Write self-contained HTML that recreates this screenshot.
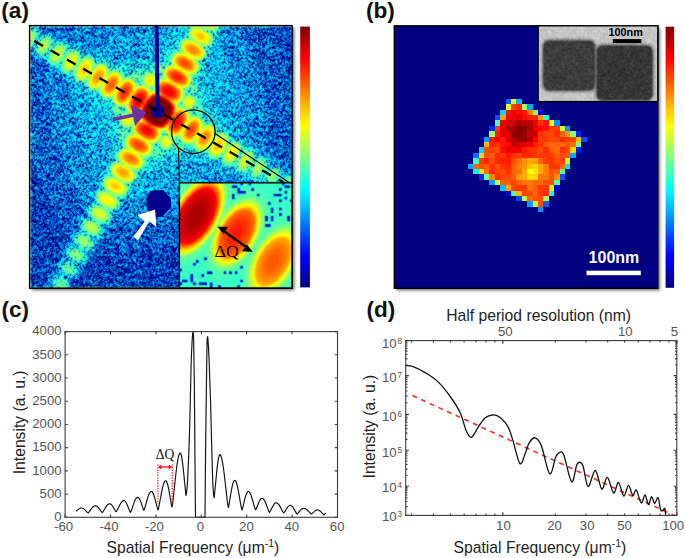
<!DOCTYPE html>
<html><head><meta charset="utf-8"><title>Figure</title>
<style>
html,body{margin:0;padding:0;background:#fff;width:685px;height:558px;overflow:hidden;}
svg{display:block;}
text{font-family:"Liberation Sans", sans-serif;}
</style></head>
<body>
<svg width="685" height="558" viewBox="0 0 685 558">
<defs>
<filter id="shadow" x="-10%" y="-10%" width="130%" height="130%"><feGaussianBlur stdDeviation="1.6"/></filter>
</defs>
<text x="1.3" y="17.8" font-size="22.6" font-weight="bold" fill="#111">(a)</text>
<rect x="31.8" y="27.8" width="262.6" height="262.6" fill="#000" opacity="0.55" filter="url(#shadow)"/>
<filter id="jetA" filterUnits="userSpaceOnUse" x="29.6" y="25.6" width="262.6" height="262.6" color-interpolation-filters="sRGB">
<feGaussianBlur in="SourceGraphic" stdDeviation="0.8" result="s"/>
<feComponentTransfer in="s" result="si"><feFuncR type="linear" slope="-1" intercept="1"/><feFuncG type="linear" slope="-1" intercept="1"/><feFuncB type="linear" slope="-1" intercept="1"/></feComponentTransfer>
<feTurbulence type="fractalNoise" baseFrequency="1.7" numOctaves="1" seed="11" result="t"/>
<feColorMatrix in="t" type="matrix" values="1 0 0 0 0  1 0 0 0 0  1 0 0 0 0  0 0 0 0 1" result="n"/>
<feComposite in="n" in2="si" operator="arithmetic" k1="0" k2="0.5" k3="0.64" k4="-0.1400" result="u"/>
<feComponentTransfer in="u" result="d"><feFuncR type="linear" slope="24" intercept="-12.3120"/><feFuncG type="linear" slope="24" intercept="-12.3120"/><feFuncB type="linear" slope="24" intercept="-12.3120"/></feComponentTransfer>
<feComposite in="s" in2="d" operator="arithmetic" k1="0.75" k2="1" k3="-0.75" k4="0" result="w"/>
<feComposite in="w" in2="n" operator="arithmetic" k1="0" k2="1" k3="0" k4="0" result="w2"/>
<feComponentTransfer in="w2"><feFuncR type="table" tableValues="0 0 0 0 0.5 1 1 1 0.5"/><feFuncG type="table" tableValues="0 0 0.5 1 1 1 0.5 0 0"/><feFuncB type="table" tableValues="0.5 1 1 1 0.5 0 0 0 0"/></feComponentTransfer>
<feConvolveMatrix order="3" kernelMatrix="1 2 1 2 8 2 1 2 1" divisor="20" edgeMode="duplicate" preserveAlpha="true"/>
</filter>
<clipPath id="clipA"><rect x="29.6" y="25.6" width="262.6" height="262.6"/></clipPath>
<g clip-path="url(#clipA)"><g filter="url(#jetA)">
<rect x="29.6" y="25.6" width="262.6" height="262.6" fill="rgb(76,76,76)"/>
<path d="M30.1 26.1L30.1 260.1L34.1 276.1L33.1 288.1L176.1 288.1L195.1 284.1L231.1 273.1L248.1 266.1L292.1 244.1L292.1 26.1Z" fill="rgb(82,82,82)" fill-rule="evenodd"/>
<path d="M30.1 26.1L30.1 159.1L40.1 185.1L63.1 229.1L65.1 239.1L60.1 247.1L60.1 249.1L62.1 250.1L61.1 251.1L61.1 256.1L57.1 259.1L54.1 265.1L55.1 270.1L52.1 271.1L49.1 274.1L47.1 278.1L47.1 283.1L48.1 284.1L45.1 285.1L42.1 288.1L73.1 288.1L74.1 287.1L74.1 282.1L79.1 279.1L83.1 272.1L83.1 269.1L89.1 263.1L90.1 265.1L93.1 262.1L94.1 258.1L96.1 256.1L99.1 256.1L105.1 253.1L129.1 252.1L130.1 251.1L147.1 251.1L148.1 250.1L157.1 250.1L158.1 249.1L165.1 249.1L181.1 246.1L223.1 233.1L276.1 206.1L285.1 204.1L292.1 207.1L292.1 85.1L282.1 52.1L270.1 26.1Z" fill="rgb(87,87,87)" fill-rule="evenodd"/>
<path d="M63.1 258.1L64.1 257.1L65.1 258.1L64.1 259.1ZM77.1 220.1L78.1 219.1L79.1 220.1L78.1 221.1ZM78.1 218.1L79.1 217.1L80.1 219.1L79.1 220.1ZM38.1 62.1L39.1 61.1L40.1 62.1L39.1 63.1ZM36.1 61.1L37.1 60.1L38.1 61.1L37.1 62.1ZM53.1 34.1L54.1 33.1L55.1 34.1L54.1 35.1ZM51.1 33.1L52.1 32.1L53.1 33.1L52.1 34.1ZM30.1 26.1L30.1 53.1L37.1 60.1L35.1 61.1L37.1 63.1L41.1 63.1L43.1 65.1L43.1 69.1L46.1 76.1L46.1 90.1L47.1 91.1L47.1 103.1L48.1 104.1L49.1 118.1L57.1 149.1L65.1 171.1L80.1 200.1L80.1 208.1L83.1 213.1L80.1 218.1L79.1 216.1L77.1 218.1L78.1 221.1L77.1 229.1L72.1 233.1L70.1 237.1L70.1 242.1L71.1 243.1L68.1 244.1L63.1 250.1L64.1 257.1L59.1 259.1L56.1 264.1L56.1 269.1L58.1 272.1L57.1 273.1L52.1 273.1L49.1 277.1L48.1 282.1L51.1 286.1L44.1 288.1L72.1 288.1L72.1 282.1L70.1 280.1L71.1 279.1L76.1 279.1L80.1 275.1L81.1 269.1L79.1 267.1L86.1 265.1L90.1 257.1L88.1 254.1L94.1 252.1L98.1 245.1L98.1 241.1L101.1 240.1L106.1 233.1L107.1 235.1L108.1 233.1L107.1 234.1L106.1 232.1L109.1 228.1L113.1 228.1L119.1 224.1L159.1 221.1L178.1 217.1L189.1 213.1L193.1 213.1L211.1 207.1L240.1 193.1L244.1 190.1L257.1 186.1L269.1 191.1L273.1 190.1L275.1 194.1L280.1 197.1L286.1 197.1L287.1 196.1L292.1 203.1L292.1 171.1L285.1 170.1L284.1 167.1L273.1 158.1L273.1 155.1L270.1 148.1L269.1 121.1L268.1 120.1L268.1 112.1L264.1 92.1L254.1 59.1L238.1 26.1L83.1 26.1L70.1 33.1L62.1 34.1L59.1 36.1L53.1 31.1L51.1 31.1L52.1 32.1L51.1 33.1L47.1 31.1L43.1 32.1L38.1 26.1Z" fill="rgb(92,92,92)" fill-rule="evenodd"/>
<path d="M67.1 278.1L68.1 277.1L69.1 278.1L68.1 279.1ZM59.1 274.1L60.1 273.1L62.1 274.1L61.1 275.1ZM76.1 265.1L77.1 264.1L78.1 265.1L77.1 266.1ZM85.1 252.1L86.1 251.1L87.1 252.1L86.1 253.1ZM72.1 245.1L73.1 244.1L74.1 245.1L73.1 246.1ZM94.1 239.1L95.1 238.1L96.1 239.1L95.1 240.1ZM85.1 216.1L86.1 215.1L87.1 216.1L86.1 217.1ZM260.1 181.1L261.1 180.1L262.1 181.1L261.1 182.1ZM237.1 175.1L238.1 174.1L239.1 175.1L238.1 176.1ZM282.1 173.1L283.1 172.1L284.1 173.1L283.1 174.1ZM252.1 147.1L253.1 146.1L254.1 147.1L253.1 148.1ZM44.1 59.1L45.1 58.1L46.1 59.1L45.1 60.1ZM76.1 47.1L77.1 46.1L78.1 47.1L77.1 48.1ZM221.1 30.1L222.1 29.1L223.1 30.1L222.1 31.1ZM222.1 28.1L223.1 27.1L224.1 28.1L223.1 29.1ZM30.1 26.1L30.1 51.1L32.1 49.1L33.1 50.1L33.1 55.1L39.1 60.1L44.1 59.1L47.1 65.1L54.1 69.1L57.1 68.1L58.1 71.1L61.1 74.1L59.1 75.1L60.1 77.1L64.1 80.1L69.1 81.1L69.1 86.1L71.1 90.1L73.1 110.1L76.1 123.1L80.1 133.1L80.1 137.1L85.1 154.1L93.1 171.1L95.1 183.1L97.1 185.1L92.1 188.1L90.1 195.1L93.1 196.1L92.1 197.1L93.1 201.1L90.1 202.1L87.1 206.1L85.1 211.1L86.1 215.1L81.1 218.1L78.1 224.1L78.1 227.1L80.1 230.1L74.1 232.1L71.1 237.1L71.1 241.1L73.1 244.1L67.1 246.1L64.1 251.1L64.1 255.1L67.1 259.1L66.1 260.1L60.1 260.1L57.1 264.1L57.1 269.1L60.1 273.1L59.1 274.1L53.1 274.1L50.1 278.1L50.1 283.1L53.1 287.1L55.1 288.1L70.1 288.1L71.1 287.1L71.1 283.1L68.1 279.1L69.1 278.1L75.1 278.1L78.1 276.1L80.1 271.1L77.1 266.1L78.1 265.1L83.1 265.1L87.1 262.1L88.1 255.1L86.1 253.1L91.1 252.1L95.1 249.1L97.1 244.1L95.1 240.1L99.1 239.1L103.1 236.1L105.1 232.1L104.1 227.1L108.1 226.1L111.1 223.1L114.1 218.1L115.1 213.1L119.1 210.1L122.1 211.1L126.1 205.1L125.1 203.1L126.1 201.1L131.1 201.1L137.1 198.1L162.1 195.1L180.1 189.1L192.1 187.1L230.1 172.1L234.1 176.1L237.1 177.1L239.1 175.1L241.1 176.1L246.1 175.1L247.1 178.1L253.1 182.1L259.1 182.1L260.1 181.1L262.1 185.1L268.1 189.1L272.1 189.1L275.1 186.1L276.1 187.1L276.1 192.1L279.1 195.1L285.1 196.1L289.1 193.1L290.1 194.1L290.1 199.1L292.1 201.1L292.1 173.1L288.1 171.1L284.1 173.1L282.1 167.1L277.1 163.1L271.1 164.1L268.1 157.1L263.1 154.1L259.1 154.1L254.1 148.1L256.1 147.1L252.1 143.1L247.1 141.1L240.1 100.1L236.1 90.1L235.1 82.1L231.1 69.1L221.1 46.1L221.1 41.1L219.1 38.1L224.1 32.1L223.1 26.1L161.1 26.1L147.1 29.1L137.1 33.1L122.1 36.1L96.1 47.1L89.1 48.1L86.1 50.1L84.1 47.1L80.1 45.1L76.1 45.1L77.1 46.1L76.1 47.1L74.1 46.1L70.1 47.1L68.1 43.1L59.1 39.1L56.1 41.1L54.1 36.1L49.1 33.1L44.1 33.1L41.1 35.1L40.1 34.1L41.1 32.1L37.1 27.1Z" fill="rgb(97,97,97)" fill-rule="evenodd"/>
<path d="M51.1 278.1L51.1 283.1L56.1 288.1L69.1 288.1L70.1 286.1L70.1 283.1L68.1 280.1L60.1 275.1L54.1 275.1ZM70.1 262.1L71.1 261.1L73.1 262.1L72.1 263.1ZM76.1 247.1L77.1 246.1L78.1 247.1L77.1 248.1ZM81.1 232.1L82.1 231.1L83.1 232.1L82.1 233.1ZM128.1 194.1L129.1 193.1L130.1 194.1L129.1 195.1ZM129.1 192.1L130.1 191.1L131.1 192.1L130.1 193.1ZM100.1 180.1L101.1 179.1L102.1 180.1L101.1 181.1ZM101.1 178.1L102.1 177.1L103.1 178.1L102.1 179.1ZM280.1 177.1L281.1 176.1L282.1 177.1L281.1 178.1ZM102.1 176.1L103.1 175.1L104.1 176.1L103.1 177.1ZM77.1 84.1L78.1 83.1L79.1 84.1L78.1 85.1ZM75.1 83.1L76.1 82.1L77.1 83.1L76.1 84.1ZM94.1 57.1L95.1 56.1L96.1 57.1L95.1 58.1ZM92.1 56.1L93.1 55.1L94.1 56.1L93.1 57.1ZM90.1 55.1L91.1 54.1L92.1 55.1L91.1 56.1ZM33.1 47.1L34.1 46.1L35.1 47.1L34.1 48.1ZM212.1 46.1L213.1 45.1L214.1 46.1L213.1 47.1ZM213.1 44.1L214.1 43.1L215.1 44.1L214.1 45.1ZM38.1 38.1L39.1 37.1L40.1 38.1L39.1 39.1ZM184.1 32.1L185.1 31.1L186.1 32.1L185.1 33.1ZM185.1 30.1L186.1 29.1L187.1 30.1L186.1 31.1ZM222.1 26.1L189.1 26.1L188.1 28.1L186.1 26.1L183.1 30.1L185.1 35.1L183.1 37.1L178.1 36.1L174.1 40.1L172.1 44.1L173.1 46.1L172.1 47.1L169.1 47.1L163.1 51.1L149.1 55.1L143.1 58.1L133.1 59.1L124.1 62.1L117.1 62.1L114.1 64.1L111.1 60.1L107.1 58.1L102.1 58.1L100.1 61.1L98.1 61.1L95.1 58.1L96.1 55.1L93.1 53.1L90.1 53.1L91.1 54.1L90.1 55.1L88.1 54.1L83.1 55.1L80.1 50.1L74.1 47.1L69.1 49.1L68.1 45.1L63.1 41.1L57.1 41.1L54.1 44.1L53.1 43.1L54.1 38.1L51.1 35.1L44.1 34.1L40.1 38.1L39.1 37.1L40.1 34.1L39.1 30.1L35.1 27.1L30.1 28.1L30.1 50.1L33.1 47.1L34.1 48.1L33.1 52.1L34.1 55.1L39.1 59.1L43.1 59.1L46.1 56.1L47.1 57.1L46.1 62.1L52.1 67.1L57.1 67.1L58.1 66.1L61.1 73.1L66.1 76.1L71.1 75.1L72.1 79.1L76.1 82.1L74.1 83.1L76.1 86.1L79.1 86.1L78.1 85.1L79.1 84.1L83.1 85.1L85.1 87.1L84.1 89.1L85.1 93.1L88.1 96.1L95.1 98.1L95.1 102.1L98.1 107.1L102.1 121.1L105.1 126.1L105.1 132.1L109.1 147.1L110.1 157.1L107.1 159.1L104.1 166.1L107.1 173.1L104.1 176.1L102.1 174.1L99.1 178.1L99.1 181.1L100.1 180.1L101.1 181.1L100.1 183.1L101.1 187.1L97.1 189.1L93.1 196.1L93.1 200.1L95.1 202.1L91.1 203.1L86.1 210.1L86.1 213.1L89.1 217.1L88.1 218.1L84.1 217.1L81.1 220.1L79.1 224.1L79.1 227.1L82.1 231.1L81.1 232.1L76.1 232.1L72.1 237.1L73.1 243.1L77.1 246.1L76.1 247.1L69.1 246.1L65.1 251.1L65.1 255.1L71.1 261.1L69.1 262.1L63.1 260.1L58.1 265.1L58.1 269.1L64.1 275.1L69.1 277.1L75.1 277.1L78.1 274.1L77.1 267.1L72.1 263.1L74.1 262.1L77.1 264.1L83.1 264.1L86.1 261.1L87.1 256.1L83.1 251.1L84.1 250.1L91.1 251.1L95.1 247.1L96.1 243.1L92.1 238.1L93.1 237.1L99.1 238.1L103.1 234.1L104.1 228.1L101.1 225.1L102.1 224.1L107.1 225.1L110.1 223.1L113.1 218.1L112.1 213.1L116.1 212.1L119.1 209.1L122.1 203.1L121.1 200.1L124.1 199.1L128.1 194.1L129.1 197.1L132.1 193.1L132.1 191.1L131.1 192.1L130.1 191.1L131.1 187.1L133.1 185.1L137.1 186.1L141.1 182.1L144.1 175.1L168.1 167.1L173.1 164.1L179.1 164.1L189.1 161.1L199.1 160.1L202.1 158.1L204.1 161.1L211.1 164.1L214.1 163.1L215.1 161.1L218.1 161.1L222.1 165.1L228.1 168.1L231.1 168.1L233.1 166.1L234.1 170.1L239.1 174.1L243.1 175.1L247.1 173.1L249.1 178.1L254.1 181.1L258.1 181.1L262.1 178.1L263.1 179.1L263.1 184.1L266.1 187.1L271.1 188.1L277.1 183.1L278.1 184.1L277.1 191.1L280.1 194.1L284.1 195.1L288.1 193.1L291.1 189.1L292.1 190.1L291.1 193.1L291.1 198.1L292.1 199.1L292.1 190.1L291.1 189.1L292.1 188.1L292.1 174.1L286.1 173.1L282.1 177.1L281.1 176.1L282.1 170.1L276.1 164.1L273.1 164.1L269.1 168.1L268.1 167.1L269.1 160.1L266.1 157.1L260.1 155.1L257.1 158.1L255.1 150.1L250.1 147.1L245.1 148.1L244.1 144.1L241.1 141.1L236.1 138.1L233.1 138.1L229.1 134.1L231.1 133.1L229.1 128.1L221.1 124.1L214.1 102.1L211.1 96.1L210.1 86.1L207.1 77.1L207.1 69.1L205.1 66.1L211.1 60.1L211.1 53.1L209.1 52.1L209.1 50.1L212.1 46.1L213.1 48.1L215.1 47.1L216.1 43.1L215.1 44.1L214.1 43.1L216.1 38.1L215.1 35.1L220.1 31.1Z" fill="rgb(102,102,102)" fill-rule="evenodd"/>
<path d="M52.1 279.1L52.1 283.1L57.1 288.1L67.1 288.1L69.1 284.1L64.1 278.1L60.1 276.1L55.1 276.1ZM61.1 262.1L59.1 265.1L59.1 269.1L64.1 274.1L68.1 276.1L74.1 276.1L77.1 273.1L77.1 269.1L74.1 265.1L65.1 261.1ZM69.1 247.1L66.1 251.1L67.1 257.1L76.1 263.1L83.1 263.1L86.1 259.1L85.1 254.1L77.1 248.1ZM89.1 236.1L90.1 235.1L91.1 236.1L90.1 237.1ZM87.1 235.1L88.1 234.1L89.1 235.1L88.1 236.1ZM85.1 234.1L86.1 233.1L87.1 234.1L86.1 235.1ZM99.1 224.1L100.1 223.1L102.1 224.1L101.1 225.1ZM109.1 211.1L110.1 210.1L111.1 211.1L110.1 212.1ZM102.1 189.1L103.1 188.1L104.1 189.1L103.1 190.1ZM263.1 175.1L264.1 174.1L265.1 176.1L264.1 177.1ZM290.1 174.1L286.1 174.1L279.1 182.1L278.1 190.1L281.1 193.1L286.1 193.1L292.1 187.1L292.1 176.1ZM264.1 174.1L265.1 173.1L266.1 174.1L265.1 175.1ZM265.1 172.1L266.1 171.1L267.1 172.1L266.1 173.1ZM266.1 170.1L267.1 169.1L268.1 170.1L267.1 171.1ZM108.1 165.1L109.1 164.1L110.1 166.1L109.1 167.1ZM109.1 164.1L110.1 163.1L111.1 164.1L110.1 165.1ZM146.1 162.1L147.1 161.1L148.1 162.1L147.1 163.1ZM254.1 160.1L255.1 159.1L256.1 160.1L255.1 161.1ZM219.1 159.1L220.1 158.1L221.1 159.1L220.1 160.1ZM114.1 155.1L115.1 154.1L116.1 155.1L115.1 156.1ZM165.1 152.1L166.1 151.1L167.1 152.1L166.1 153.1ZM242.1 149.1L243.1 148.1L244.1 150.1L243.1 151.1ZM188.1 147.1L189.1 146.1L190.1 147.1L189.1 148.1ZM107.1 101.1L108.1 100.1L109.1 101.1L108.1 102.1ZM196.1 97.1L197.1 96.1L198.1 97.1L197.1 98.1ZM91.1 92.1L92.1 91.1L93.1 92.1L92.1 93.1ZM89.1 91.1L90.1 90.1L91.1 91.1L90.1 92.1ZM144.1 71.1L145.1 70.1L146.1 71.1L145.1 72.1ZM106.1 64.1L107.1 63.1L108.1 64.1L107.1 65.1ZM59.1 64.1L60.1 63.1L61.1 64.1L60.1 65.1ZM104.1 63.1L105.1 62.1L106.1 63.1L105.1 64.1ZM205.1 58.1L206.1 57.1L207.1 58.1L206.1 59.1ZM206.1 56.1L207.1 55.1L208.1 57.1L207.1 58.1ZM81.1 56.1L82.1 55.1L83.1 56.1L82.1 57.1ZM66.1 51.1L67.1 50.1L68.1 51.1L67.1 52.1ZM177.1 44.1L178.1 43.1L179.1 44.1L178.1 45.1ZM35.1 43.1L36.1 42.1L37.1 43.1L36.1 44.1ZM36.1 42.1L37.1 41.1L38.1 42.1L37.1 43.1ZM179.1 41.1L180.1 40.1L181.1 41.1L180.1 42.1ZM221.1 26.1L190.1 26.1L186.1 32.1L187.1 36.1L184.1 37.1L181.1 40.1L179.1 38.1L176.1 41.1L175.1 44.1L178.1 46.1L177.1 48.1L178.1 49.1L175.1 51.1L171.1 50.1L168.1 52.1L166.1 56.1L166.1 60.1L169.1 62.1L168.1 63.1L161.1 62.1L150.1 66.1L149.1 69.1L146.1 71.1L144.1 69.1L137.1 69.1L129.1 72.1L126.1 76.1L124.1 75.1L125.1 70.1L119.1 66.1L116.1 66.1L114.1 69.1L111.1 69.1L108.1 65.1L109.1 63.1L107.1 61.1L104.1 61.1L105.1 62.1L104.1 63.1L102.1 62.1L97.1 63.1L96.1 60.1L93.1 57.1L89.1 55.1L83.1 56.1L79.1 50.1L72.1 48.1L68.1 51.1L67.1 50.1L67.1 45.1L63.1 42.1L59.1 41.1L53.1 46.1L52.1 45.1L53.1 39.1L49.1 35.1L42.1 36.1L38.1 41.1L37.1 39.1L39.1 35.1L39.1 32.1L34.1 28.1L30.1 29.1L30.1 49.1L35.1 44.1L36.1 45.1L34.1 50.1L35.1 55.1L39.1 58.1L43.1 58.1L47.1 54.1L48.1 55.1L47.1 62.1L50.1 65.1L55.1 67.1L59.1 64.1L61.1 72.1L66.1 75.1L70.1 75.1L72.1 73.1L73.1 74.1L72.1 76.1L73.1 79.1L80.1 84.1L84.1 83.1L85.1 86.1L90.1 90.1L87.1 91.1L89.1 93.1L92.1 94.1L93.1 92.1L97.1 92.1L100.1 96.1L98.1 97.1L98.1 99.1L101.1 102.1L107.1 103.1L110.1 101.1L111.1 102.1L110.1 110.1L112.1 117.1L119.1 125.1L116.1 126.1L116.1 133.1L118.1 140.1L122.1 145.1L120.1 147.1L119.1 145.1L116.1 146.1L113.1 150.1L113.1 155.1L115.1 156.1L115.1 159.1L111.1 163.1L110.1 161.1L107.1 164.1L107.1 166.1L109.1 167.1L108.1 169.1L109.1 174.1L106.1 175.1L103.1 178.1L101.1 182.1L102.1 188.1L97.1 190.1L94.1 196.1L94.1 200.1L97.1 203.1L96.1 204.1L91.1 204.1L87.1 209.1L87.1 214.1L91.1 218.1L90.1 219.1L84.1 218.1L80.1 223.1L81.1 229.1L86.1 233.1L85.1 234.1L76.1 233.1L73.1 237.1L74.1 243.1L79.1 247.1L85.1 250.1L91.1 250.1L94.1 247.1L95.1 243.1L90.1 237.1L91.1 236.1L99.1 237.1L102.1 234.1L103.1 228.1L101.1 225.1L102.1 224.1L107.1 224.1L110.1 222.1L112.1 218.1L112.1 214.1L110.1 212.1L111.1 211.1L116.1 211.1L119.1 208.1L121.1 204.1L121.1 201.1L119.1 199.1L124.1 198.1L127.1 195.1L130.1 189.1L129.1 186.1L132.1 185.1L135.1 182.1L138.1 176.1L138.1 173.1L142.1 170.1L143.1 172.1L148.1 168.1L149.1 163.1L147.1 160.1L148.1 159.1L153.1 160.1L163.1 157.1L166.1 155.1L167.1 152.1L169.1 152.1L171.1 150.1L172.1 153.1L177.1 153.1L185.1 151.1L191.1 146.1L193.1 149.1L191.1 151.1L195.1 155.1L200.1 155.1L201.1 153.1L203.1 154.1L205.1 153.1L208.1 157.1L214.1 160.1L219.1 159.1L220.1 162.1L223.1 165.1L228.1 167.1L231.1 167.1L234.1 164.1L235.1 165.1L235.1 170.1L239.1 173.1L243.1 174.1L247.1 172.1L249.1 169.1L250.1 170.1L249.1 176.1L254.1 180.1L258.1 180.1L263.1 176.1L264.1 177.1L264.1 184.1L270.1 187.1L273.1 186.1L279.1 179.1L281.1 173.1L281.1 170.1L279.1 167.1L274.1 165.1L268.1 170.1L267.1 169.1L268.1 166.1L267.1 159.1L261.1 156.1L256.1 160.1L255.1 159.1L256.1 154.1L252.1 149.1L250.1 148.1L244.1 149.1L243.1 144.1L236.1 139.1L231.1 140.1L230.1 136.1L227.1 133.1L221.1 130.1L219.1 131.1L215.1 126.1L217.1 125.1L217.1 123.1L215.1 121.1L210.1 119.1L206.1 122.1L204.1 120.1L206.1 118.1L206.1 114.1L203.1 104.1L201.1 102.1L199.1 103.1L198.1 102.1L199.1 100.1L198.1 98.1L200.1 96.1L200.1 90.1L198.1 83.1L194.1 77.1L195.1 76.1L196.1 77.1L201.1 76.1L203.1 72.1L203.1 67.1L201.1 66.1L200.1 63.1L203.1 62.1L205.1 59.1L206.1 62.1L208.1 60.1L209.1 56.1L207.1 55.1L208.1 53.1L207.1 49.1L211.1 47.1L214.1 42.1L215.1 37.1L213.1 34.1L217.1 33.1Z" fill="rgb(107,107,107)" fill-rule="evenodd"/>
<path d="M56.1 277.1L53.1 281.1L54.1 284.1L59.1 288.1L65.1 288.1L67.1 286.1L67.1 282.1L63.1 278.1ZM61.1 264.1L60.1 268.1L65.1 274.1L68.1 275.1L75.1 274.1L76.1 269.1L74.1 266.1L66.1 262.1ZM67.1 251.1L68.1 257.1L73.1 261.1L82.1 262.1L85.1 259.1L84.1 254.1L78.1 249.1L70.1 248.1ZM74.1 237.1L75.1 243.1L78.1 246.1L84.1 249.1L90.1 249.1L92.1 248.1L94.1 244.1L93.1 241.1L88.1 236.1L84.1 234.1L79.1 233.1ZM96.1 222.1L97.1 221.1L98.1 222.1L97.1 223.1ZM94.1 221.1L95.1 220.1L96.1 221.1L95.1 222.1ZM92.1 220.1L93.1 219.1L95.1 220.1L94.1 221.1ZM107.1 210.1L108.1 209.1L109.1 210.1L108.1 211.1ZM98.1 205.1L99.1 204.1L100.1 205.1L99.1 206.1ZM116.1 197.1L117.1 196.1L118.1 197.1L117.1 198.1ZM289.1 175.1L285.1 176.1L279.1 184.1L279.1 189.1L282.1 192.1L286.1 192.1L292.1 185.1L292.1 177.1ZM109.1 175.1L110.1 174.1L111.1 175.1L110.1 176.1ZM277.1 167.1L272.1 167.1L267.1 172.1L265.1 176.1L265.1 183.1L267.1 185.1L273.1 185.1L277.1 181.1L280.1 174.1L280.1 171.1ZM250.1 167.1L251.1 166.1L252.1 167.1L251.1 168.1ZM251.1 165.1L252.1 164.1L253.1 165.1L252.1 166.1ZM252.1 163.1L253.1 162.1L254.1 163.1L253.1 164.1ZM235.1 162.1L236.1 161.1L237.1 162.1L236.1 163.1ZM220.1 157.1L221.1 156.1L222.1 157.1L221.1 158.1ZM150.1 155.1L151.1 154.1L152.1 155.1L151.1 156.1ZM151.1 153.1L152.1 152.1L153.1 153.1L152.1 154.1ZM241.1 151.1L242.1 150.1L243.1 151.1L242.1 152.1ZM116.1 151.1L117.1 150.1L118.1 152.1L117.1 153.1ZM159.1 149.1L160.1 148.1L162.1 149.1L161.1 150.1ZM117.1 149.1L118.1 148.1L119.1 150.1L118.1 151.1ZM172.1 147.1L173.1 146.1L174.1 148.1L173.1 149.1ZM173.1 145.1L174.1 144.1L175.1 146.1L174.1 147.1ZM174.1 144.1L175.1 143.1L176.1 144.1L175.1 145.1ZM157.1 143.1L160.1 148.1L159.1 149.1L154.1 148.1L154.1 146.1ZM179.1 142.1L180.1 141.1L181.1 142.1L180.1 143.1ZM122.1 141.1L123.1 140.1L124.1 141.1L123.1 142.1ZM178.1 138.1L180.1 141.1L176.1 144.1L175.1 140.1ZM174.1 139.1L175.1 138.1L176.1 139.1L175.1 140.1ZM126.1 134.1L127.1 133.1L128.1 134.1L127.1 135.1ZM163.1 133.1L164.1 132.1L165.1 133.1L164.1 134.1ZM126.1 130.1L129.1 129.1L130.1 132.1L128.1 133.1ZM129.1 129.1L130.1 128.1L131.1 129.1L130.1 130.1ZM124.1 129.1L125.1 128.1L126.1 129.1L125.1 130.1ZM122.1 128.1L123.1 127.1L124.1 128.1L123.1 129.1ZM120.1 127.1L121.1 126.1L123.1 127.1L122.1 128.1ZM201.1 118.1L202.1 117.1L203.1 118.1L202.1 119.1ZM118.1 117.1L119.1 116.1L120.1 117.1L119.1 118.1ZM119.1 115.1L120.1 114.1L121.1 115.1L120.1 116.1ZM120.1 113.1L121.1 112.1L122.1 113.1L121.1 114.1ZM194.1 109.1L196.1 114.1L192.1 115.1L190.1 112.1ZM194.1 109.1L195.1 108.1L196.1 109.1L195.1 110.1ZM121.1 112.1L121.1 109.1L124.1 108.1L125.1 110.1L122.1 113.1ZM195.1 107.1L196.1 106.1L197.1 107.1L196.1 108.1ZM196.1 105.1L197.1 104.1L198.1 106.1L197.1 107.1ZM112.1 104.1L113.1 103.1L114.1 104.1L113.1 105.1ZM110.1 100.1L111.1 99.1L112.1 100.1L111.1 101.1ZM103.1 99.1L104.1 98.1L105.1 99.1L104.1 100.1ZM101.1 98.1L102.1 97.1L104.1 98.1L103.1 99.1ZM192.1 95.1L193.1 94.1L195.1 95.1L194.1 96.1ZM191.1 94.1L192.1 93.1L193.1 94.1L192.1 95.1ZM189.1 93.1L190.1 92.1L191.1 93.1L190.1 94.1ZM185.1 93.1L186.1 92.1L187.1 93.1L186.1 94.1ZM185.1 91.1L188.1 89.1L190.1 92.1L187.1 93.1ZM192.1 81.1L193.1 80.1L194.1 81.1L193.1 82.1ZM136.1 81.1L139.1 80.1L141.1 83.1L138.1 84.1ZM139.1 80.1L140.1 79.1L141.1 80.1L140.1 81.1ZM140.1 78.1L141.1 77.1L142.1 78.1L141.1 79.1ZM141.1 76.1L142.1 75.1L143.1 76.1L142.1 77.1ZM127.1 76.1L128.1 75.1L129.1 76.1L128.1 77.1ZM157.1 75.1L160.1 74.1L161.1 77.1L160.1 78.1ZM142.1 74.1L143.1 73.1L144.1 75.1L143.1 76.1ZM197.1 72.1L198.1 71.1L199.1 72.1L198.1 73.1ZM152.1 72.1L153.1 71.1L154.1 72.1L153.1 73.1ZM150.1 71.1L151.1 70.1L152.1 71.1L151.1 72.1ZM118.1 71.1L119.1 70.1L121.1 71.1L120.1 72.1ZM198.1 70.1L199.1 69.1L200.1 70.1L199.1 71.1ZM80.1 58.1L81.1 57.1L82.1 58.1L81.1 59.1ZM171.1 55.1L172.1 54.1L173.1 55.1L172.1 56.1ZM64.1 55.1L65.1 54.1L66.1 55.1L65.1 56.1ZM65.1 53.1L66.1 52.1L67.1 53.1L66.1 54.1ZM48.1 52.1L49.1 51.1L50.1 52.1L49.1 53.1ZM49.1 50.1L50.1 49.1L51.1 50.1L50.1 51.1ZM50.1 48.1L51.1 47.1L52.1 49.1L51.1 50.1ZM34.1 29.1L30.1 30.1L30.1 48.1L35.1 43.1L38.1 36.1L37.1 31.1ZM220.1 26.1L191.1 26.1L187.1 31.1L187.1 36.1L188.1 37.1L183.1 38.1L178.1 46.1L179.1 50.1L176.1 51.1L173.1 54.1L172.1 51.1L168.1 55.1L168.1 59.1L170.1 60.1L169.1 64.1L167.1 65.1L165.1 63.1L162.1 63.1L153.1 66.1L150.1 69.1L151.1 70.1L150.1 71.1L147.1 71.1L144.1 74.1L143.1 70.1L132.1 72.1L125.1 77.1L120.1 72.1L123.1 71.1L121.1 69.1L117.1 68.1L119.1 70.1L118.1 71.1L114.1 69.1L112.1 69.1L110.1 71.1L109.1 67.1L107.1 65.1L101.1 62.1L96.1 64.1L95.1 60.1L90.1 56.1L84.1 56.1L82.1 58.1L81.1 53.1L75.1 49.1L71.1 49.1L67.1 53.1L66.1 52.1L67.1 48.1L66.1 45.1L61.1 42.1L55.1 44.1L52.1 48.1L51.1 47.1L52.1 39.1L49.1 36.1L43.1 36.1L38.1 42.1L35.1 49.1L36.1 55.1L39.1 57.1L43.1 57.1L48.1 52.1L49.1 53.1L48.1 62.1L51.1 65.1L54.1 66.1L57.1 65.1L61.1 61.1L62.1 63.1L60.1 68.1L65.1 74.1L70.1 74.1L73.1 71.1L74.1 72.1L73.1 78.1L77.1 82.1L83.1 83.1L85.1 81.1L86.1 82.1L86.1 87.1L94.1 92.1L96.1 92.1L98.1 90.1L99.1 91.1L98.1 93.1L102.1 97.1L101.1 100.1L105.1 101.1L104.1 100.1L105.1 99.1L110.1 100.1L113.1 103.1L111.1 105.1L113.1 115.1L115.1 119.1L118.1 117.1L119.1 118.1L118.1 123.1L121.1 126.1L118.1 127.1L118.1 134.1L120.1 141.1L123.1 142.1L124.1 146.1L119.1 149.1L117.1 148.1L115.1 150.1L115.1 153.1L116.1 152.1L117.1 153.1L116.1 155.1L117.1 160.1L114.1 161.1L111.1 164.1L108.1 171.1L110.1 174.1L105.1 176.1L102.1 181.1L101.1 185.1L104.1 189.1L103.1 190.1L98.1 190.1L94.1 198.1L95.1 201.1L99.1 204.1L98.1 205.1L92.1 204.1L88.1 209.1L88.1 214.1L93.1 219.1L92.1 220.1L84.1 219.1L81.1 223.1L82.1 229.1L88.1 234.1L93.1 236.1L99.1 236.1L101.1 234.1L102.1 227.1L97.1 223.1L98.1 222.1L101.1 223.1L109.1 222.1L111.1 219.1L111.1 214.1L108.1 211.1L109.1 210.1L114.1 211.1L119.1 207.1L120.1 201.1L118.1 198.1L119.1 197.1L122.1 198.1L127.1 194.1L129.1 190.1L127.1 185.1L128.1 184.1L130.1 185.1L135.1 181.1L137.1 177.1L136.1 172.1L140.1 171.1L143.1 168.1L146.1 162.1L145.1 159.1L150.1 156.1L151.1 158.1L155.1 158.1L163.1 155.1L164.1 153.1L161.1 150.1L162.1 149.1L166.1 151.1L169.1 151.1L172.1 148.1L173.1 151.1L178.1 151.1L187.1 148.1L186.1 146.1L187.1 145.1L189.1 146.1L192.1 145.1L193.1 148.1L199.1 152.1L204.1 153.1L206.1 151.1L207.1 155.1L213.1 159.1L216.1 160.1L220.1 157.1L221.1 162.1L227.1 166.1L231.1 166.1L235.1 162.1L236.1 163.1L235.1 167.1L236.1 170.1L239.1 172.1L244.1 173.1L250.1 167.1L251.1 168.1L250.1 176.1L254.1 179.1L260.1 178.1L265.1 172.1L267.1 167.1L267.1 161.1L264.1 158.1L261.1 157.1L257.1 159.1L254.1 163.1L253.1 161.1L255.1 157.1L255.1 153.1L251.1 149.1L245.1 149.1L243.1 151.1L242.1 150.1L242.1 144.1L237.1 140.1L232.1 140.1L230.1 142.1L229.1 141.1L230.1 137.1L226.1 133.1L222.1 131.1L218.1 132.1L216.1 127.1L209.1 123.1L204.1 122.1L204.1 120.1L202.1 119.1L204.1 118.1L204.1 113.1L201.1 104.1L198.1 105.1L197.1 104.1L198.1 100.1L194.1 96.1L198.1 95.1L198.1 88.1L196.1 82.1L193.1 80.1L193.1 77.1L197.1 73.1L198.1 75.1L201.1 73.1L202.1 69.1L200.1 70.1L199.1 69.1L200.1 63.1L204.1 60.1L207.1 54.1L207.1 50.1L205.1 48.1L210.1 47.1L214.1 40.1L214.1 36.1L211.1 33.1L212.1 32.1L217.1 32.1L219.1 30.1Z" fill="rgb(112,112,112)" fill-rule="evenodd"/>
<path d="M57.1 278.1L55.1 280.1L55.1 283.1L60.1 287.1L64.1 287.1L66.1 284.1L62.1 279.1ZM62.1 265.1L62.1 270.1L67.1 274.1L74.1 273.1L75.1 270.1L71.1 265.1L66.1 263.1ZM69.1 250.1L68.1 255.1L70.1 258.1L79.1 262.1L83.1 260.1L84.1 256.1L80.1 251.1L76.1 249.1L70.1 249.1ZM78.1 234.1L75.1 238.1L76.1 243.1L83.1 248.1L87.1 249.1L90.1 248.1L93.1 243.1L87.1 236.1L82.1 234.1ZM83.1 221.1L82.1 228.1L86.1 232.1L95.1 236.1L100.1 234.1L101.1 227.1L98.1 224.1L91.1 220.1L84.1 220.1ZM103.1 208.1L104.1 207.1L106.1 208.1L105.1 209.1ZM102.1 207.1L103.1 206.1L104.1 207.1L103.1 208.1ZM105.1 191.1L106.1 190.1L107.1 191.1L106.1 192.1ZM290.1 177.1L285.1 177.1L282.1 180.1L280.1 184.1L280.1 189.1L285.1 191.1L290.1 187.1L292.1 182.1ZM111.1 176.1L112.1 175.1L113.1 176.1L112.1 177.1ZM276.1 168.1L272.1 168.1L268.1 172.1L265.1 179.1L268.1 184.1L274.1 183.1L278.1 178.1L279.1 171.1ZM116.1 161.1L117.1 160.1L119.1 161.1L118.1 162.1ZM264.1 159.1L261.1 158.1L258.1 159.1L253.1 165.1L251.1 170.1L251.1 175.1L254.1 178.1L260.1 177.1L265.1 171.1L267.1 164.1ZM238.1 157.1L239.1 156.1L240.1 157.1L239.1 158.1ZM239.1 155.1L240.1 154.1L241.1 155.1L240.1 156.1ZM221.1 155.1L222.1 154.1L223.1 156.1L222.1 157.1ZM151.1 153.1L152.1 152.1L153.1 154.1L152.1 155.1ZM152.1 151.1L153.1 150.1L154.1 152.1L153.1 153.1ZM124.1 147.1L125.1 146.1L126.1 147.1L125.1 148.1ZM182.1 144.1L183.1 143.1L185.1 144.1L184.1 145.1ZM157.1 143.1L158.1 142.1L159.1 143.1L158.1 144.1ZM172.1 138.1L173.1 137.1L174.1 138.1L173.1 139.1ZM124.1 138.1L125.1 137.1L126.1 138.1L125.1 139.1ZM125.1 136.1L126.1 135.1L127.1 136.1L126.1 137.1ZM165.1 134.1L166.1 133.1L167.1 134.1L166.1 135.1ZM162.1 134.1L162.1 132.1L164.1 131.1L165.1 133.1L163.1 135.1ZM130.1 127.1L131.1 126.1L132.1 127.1L131.1 128.1ZM203.1 124.1L204.1 123.1L205.1 124.1L204.1 125.1ZM199.1 117.1L200.1 116.1L202.1 117.1L201.1 118.1ZM135.1 117.1L137.1 116.1L138.1 118.1L136.1 119.1ZM197.1 116.1L198.1 115.1L200.1 116.1L199.1 117.1ZM187.1 110.1L188.1 109.1L189.1 110.1L188.1 111.1ZM185.1 109.1L186.1 108.1L187.1 109.1L186.1 110.1ZM117.1 107.1L118.1 106.1L120.1 107.1L119.1 108.1ZM116.1 106.1L117.1 105.1L118.1 106.1L117.1 107.1ZM113.1 105.1L114.1 104.1L116.1 105.1L115.1 106.1ZM180.1 103.1L182.1 106.1L181.1 107.1L178.1 106.1ZM184.1 95.1L185.1 94.1L186.1 95.1L185.1 96.1ZM184.1 90.1L185.1 89.1L186.1 90.1L185.1 91.1ZM150.1 89.1L153.1 88.1L154.1 90.1L152.1 91.1ZM189.1 86.1L190.1 85.1L191.1 86.1L190.1 87.1ZM141.1 84.1L142.1 83.1L143.1 84.1L142.1 85.1ZM191.1 83.1L192.1 82.1L193.1 83.1L192.1 84.1ZM134.1 80.1L135.1 79.1L136.1 80.1L135.1 81.1ZM132.1 79.1L133.1 78.1L134.1 79.1L133.1 80.1ZM161.1 73.1L163.1 77.1L159.1 79.1L157.1 75.1ZM155.1 74.1L156.1 73.1L158.1 74.1L157.1 75.1ZM161.1 73.1L162.1 72.1L163.1 73.1L162.1 74.1ZM162.1 71.1L163.1 70.1L164.1 71.1L163.1 72.1ZM73.1 70.1L74.1 69.1L75.1 71.1L74.1 72.1ZM163.1 69.1L164.1 68.1L165.1 69.1L164.1 70.1ZM74.1 69.1L75.1 68.1L76.1 69.1L75.1 70.1ZM164.1 67.1L165.1 66.1L166.1 67.1L165.1 68.1ZM62.1 58.1L63.1 57.1L64.1 59.1L63.1 60.1ZM63.1 56.1L64.1 55.1L65.1 57.1L64.1 58.1ZM179.1 51.1L180.1 50.1L181.1 51.1L180.1 52.1ZM188.1 38.1L189.1 37.1L190.1 38.1L189.1 39.1ZM49.1 37.1L46.1 36.1L43.1 37.1L39.1 41.1L36.1 47.1L36.1 53.1L39.1 56.1L45.1 55.1L49.1 50.1L52.1 42.1ZM208.1 31.1L209.1 30.1L210.1 31.1L209.1 32.1ZM34.1 30.1L30.1 31.1L30.1 47.1L35.1 42.1L37.1 38.1L37.1 33.1ZM220.1 26.1L201.1 26.1L200.1 27.1L191.1 26.1L187.1 32.1L187.1 35.1L189.1 37.1L184.1 38.1L181.1 41.1L178.1 47.1L180.1 50.1L176.1 51.1L172.1 56.1L170.1 54.1L169.1 57.1L171.1 55.1L172.1 56.1L170.1 60.1L171.1 63.1L167.1 65.1L166.1 67.1L165.1 64.1L162.1 64.1L152.1 68.1L152.1 70.1L156.1 73.1L154.1 74.1L149.1 71.1L146.1 72.1L141.1 80.1L142.1 83.1L138.1 85.1L135.1 81.1L140.1 78.1L142.1 72.1L133.1 73.1L129.1 75.1L131.1 77.1L130.1 78.1L128.1 77.1L124.1 78.1L121.1 73.1L115.1 70.1L110.1 71.1L109.1 68.1L102.1 63.1L98.1 63.1L95.1 66.1L94.1 65.1L95.1 61.1L91.1 57.1L85.1 56.1L80.1 61.1L79.1 60.1L80.1 53.1L76.1 50.1L71.1 50.1L65.1 56.1L64.1 54.1L66.1 50.1L66.1 47.1L61.1 43.1L56.1 44.1L51.1 50.1L48.1 58.1L49.1 62.1L53.1 65.1L56.1 65.1L62.1 59.1L63.1 61.1L61.1 65.1L61.1 69.1L65.1 73.1L69.1 74.1L73.1 71.1L74.1 72.1L74.1 78.1L78.1 82.1L82.1 83.1L86.1 80.1L87.1 81.1L86.1 86.1L89.1 89.1L93.1 91.1L98.1 90.1L99.1 94.1L106.1 99.1L111.1 98.1L112.1 102.1L114.1 104.1L112.1 106.1L112.1 108.1L116.1 117.1L119.1 115.1L121.1 111.1L119.1 108.1L120.1 107.1L122.1 108.1L124.1 107.1L127.1 111.1L122.1 113.1L119.1 119.1L119.1 124.1L127.1 129.1L130.1 128.1L132.1 132.1L127.1 135.1L125.1 130.1L119.1 128.1L120.1 138.1L121.1 140.1L124.1 138.1L125.1 139.1L123.1 143.1L125.1 146.1L122.1 147.1L119.1 150.1L116.1 156.1L117.1 160.1L112.1 163.1L109.1 169.1L109.1 172.1L112.1 175.1L111.1 176.1L106.1 176.1L102.1 182.1L102.1 186.1L106.1 190.1L105.1 191.1L103.1 190.1L98.1 191.1L95.1 196.1L96.1 201.1L102.1 206.1L100.1 207.1L97.1 205.1L92.1 205.1L89.1 208.1L88.1 211.1L90.1 216.1L97.1 221.1L106.1 223.1L110.1 219.1L111.1 216.1L109.1 212.1L105.1 209.1L107.1 208.1L111.1 210.1L115.1 210.1L119.1 206.1L120.1 202.1L116.1 197.1L117.1 196.1L123.1 197.1L126.1 195.1L128.1 191.1L128.1 187.1L125.1 184.1L126.1 183.1L128.1 184.1L133.1 183.1L137.1 176.1L137.1 174.1L134.1 171.1L135.1 170.1L137.1 171.1L141.1 170.1L145.1 163.1L145.1 160.1L143.1 158.1L144.1 157.1L147.1 158.1L151.1 154.1L152.1 157.1L154.1 157.1L162.1 153.1L158.1 149.1L156.1 149.1L154.1 151.1L153.1 150.1L154.1 147.1L153.1 145.1L157.1 143.1L159.1 147.1L165.1 150.1L169.1 150.1L174.1 144.1L175.1 141.1L173.1 139.1L178.1 137.1L179.1 140.1L183.1 143.1L182.1 144.1L177.1 143.1L175.1 146.1L175.1 149.1L182.1 149.1L185.1 148.1L184.1 145.1L185.1 144.1L187.1 145.1L192.1 144.1L193.1 147.1L200.1 152.1L204.1 152.1L207.1 149.1L208.1 150.1L207.1 154.1L214.1 159.1L217.1 159.1L221.1 156.1L222.1 157.1L222.1 162.1L226.1 165.1L232.1 165.1L237.1 159.1L238.1 161.1L236.1 165.1L236.1 168.1L241.1 172.1L246.1 171.1L250.1 167.1L254.1 159.1L254.1 153.1L251.1 150.1L247.1 149.1L241.1 155.1L240.1 152.1L242.1 146.1L239.1 142.1L234.1 140.1L229.1 144.1L228.1 143.1L229.1 141.1L228.1 135.1L223.1 132.1L219.1 132.1L217.1 134.1L216.1 133.1L217.1 130.1L214.1 126.1L208.1 123.1L205.1 124.1L204.1 121.1L201.1 118.1L203.1 117.1L203.1 113.1L200.1 106.1L198.1 106.1L195.1 111.1L198.1 115.1L197.1 116.1L192.1 115.1L189.1 111.1L193.1 110.1L197.1 103.1L197.1 99.1L190.1 94.1L186.1 95.1L185.1 94.1L185.1 91.1L189.1 87.1L190.1 92.1L194.1 94.1L197.1 94.1L196.1 84.1L195.1 82.1L192.1 81.1L193.1 78.1L191.1 76.1L196.1 74.1L200.1 66.1L200.1 64.1L198.1 62.1L202.1 61.1L206.1 56.1L207.1 51.1L204.1 47.1L205.1 46.1L207.1 47.1L210.1 46.1L213.1 42.1L214.1 38.1L209.1 32.1L210.1 31.1L213.1 32.1L217.1 31.1Z" fill="rgb(117,117,117)" fill-rule="evenodd"/>
<path d="M57.1 281.1L59.1 285.1L63.1 285.1L63.1 282.1L61.1 280.1ZM64.1 265.1L63.1 268.1L66.1 272.1L71.1 273.1L73.1 271.1L71.1 266.1ZM69.1 254.1L73.1 259.1L75.1 260.1L81.1 260.1L83.1 257.1L80.1 252.1L76.1 250.1L71.1 250.1ZM77.1 236.1L76.1 241.1L79.1 245.1L86.1 248.1L90.1 247.1L91.1 241.1L87.1 237.1L83.1 235.1ZM86.1 220.1L83.1 223.1L83.1 228.1L88.1 233.1L93.1 235.1L97.1 235.1L101.1 230.1L100.1 227.1L96.1 223.1L89.1 220.1ZM112.1 195.1L113.1 194.1L115.1 195.1L114.1 196.1ZM111.1 194.1L112.1 193.1L113.1 194.1L112.1 195.1ZM109.1 193.1L110.1 192.1L111.1 193.1L110.1 194.1ZM107.1 192.1L108.1 191.1L109.1 192.1L108.1 193.1ZM123.1 183.1L124.1 182.1L126.1 183.1L125.1 184.1ZM288.1 178.1L283.1 180.1L281.1 184.1L282.1 189.1L286.1 189.1L290.1 185.1L290.1 180.1ZM113.1 177.1L114.1 176.1L115.1 177.1L114.1 178.1ZM277.1 170.1L272.1 169.1L268.1 173.1L266.1 179.1L269.1 183.1L274.1 182.1L277.1 178.1L278.1 175.1ZM118.1 162.1L119.1 161.1L120.1 162.1L119.1 163.1ZM263.1 160.1L258.1 160.1L253.1 166.1L252.1 169.1L252.1 175.1L253.1 176.1L258.1 177.1L263.1 173.1L266.1 166.1L266.1 164.1ZM222.1 153.1L223.1 152.1L224.1 154.1L223.1 155.1ZM223.1 152.1L224.1 151.1L225.1 152.1L224.1 153.1ZM224.1 150.1L225.1 149.1L226.1 150.1L225.1 151.1ZM160.1 151.1L156.1 150.1L153.1 155.1L156.1 155.1L160.1 153.1ZM207.1 149.1L208.1 148.1L209.1 149.1L208.1 150.1ZM226.1 146.1L227.1 145.1L228.1 146.1L227.1 147.1ZM176.1 148.1L181.1 148.1L184.1 146.1L181.1 144.1L178.1 144.1L176.1 146.1ZM158.1 141.1L159.1 140.1L160.1 141.1L159.1 142.1ZM159.1 139.1L160.1 138.1L161.1 139.1L160.1 140.1ZM170.1 137.1L171.1 136.1L173.1 137.1L172.1 138.1ZM160.1 137.1L161.1 136.1L162.1 137.1L161.1 138.1ZM168.1 136.1L169.1 135.1L171.1 136.1L170.1 137.1ZM167.1 135.1L168.1 134.1L169.1 135.1L168.1 136.1ZM161.1 135.1L162.1 134.1L163.1 136.1L162.1 137.1ZM215.1 134.1L216.1 133.1L217.1 135.1L216.1 136.1ZM131.1 133.1L132.1 132.1L133.1 133.1L132.1 134.1ZM161.1 132.1L164.1 131.1L167.1 134.1L163.1 135.1ZM202.1 126.1L203.1 125.1L204.1 126.1L203.1 127.1ZM131.1 125.1L132.1 124.1L133.1 125.1L132.1 126.1ZM133.1 122.1L134.1 121.1L135.1 122.1L134.1 123.1ZM134.1 120.1L135.1 119.1L136.1 120.1L135.1 121.1ZM133.1 116.1L137.1 115.1L139.1 118.1L136.1 120.1ZM130.1 114.1L131.1 113.1L132.1 114.1L131.1 115.1ZM128.1 113.1L129.1 112.1L130.1 113.1L129.1 114.1ZM126.1 112.1L127.1 111.1L128.1 112.1L127.1 113.1ZM187.1 110.1L188.1 109.1L189.1 110.1L188.1 111.1ZM185.1 109.1L186.1 108.1L187.1 109.1L186.1 110.1ZM198.1 108.1L196.1 110.1L196.1 112.1L201.1 116.1L202.1 115.1L201.1 111.1ZM183.1 108.1L184.1 107.1L185.1 108.1L184.1 109.1ZM181.1 107.1L182.1 106.1L184.1 107.1L183.1 108.1ZM115.1 106.1L116.1 105.1L118.1 106.1L117.1 107.1ZM180.1 102.1L182.1 106.1L181.1 107.1L178.1 106.1L178.1 104.1ZM180.1 102.1L181.1 101.1L182.1 102.1L181.1 103.1ZM181.1 100.1L182.1 99.1L183.1 100.1L182.1 101.1ZM182.1 98.1L183.1 97.1L184.1 98.1L183.1 99.1ZM111.1 98.1L112.1 97.1L113.1 98.1L112.1 99.1ZM183.1 97.1L184.1 96.1L185.1 97.1L184.1 98.1ZM153.1 87.1L154.1 90.1L152.1 91.1L150.1 89.1ZM148.1 88.1L149.1 87.1L150.1 88.1L149.1 89.1ZM153.1 87.1L154.1 86.1L155.1 87.1L154.1 88.1ZM154.1 85.1L155.1 84.1L156.1 85.1L155.1 86.1ZM143.1 85.1L144.1 84.1L145.1 85.1L144.1 86.1ZM136.1 85.1L137.1 84.1L138.1 85.1L137.1 86.1ZM190.1 84.1L191.1 83.1L192.1 85.1L191.1 86.1ZM155.1 83.1L156.1 82.1L157.1 83.1L156.1 84.1ZM156.1 81.1L157.1 80.1L158.1 81.1L157.1 82.1ZM157.1 79.1L158.1 78.1L159.1 80.1L158.1 81.1ZM132.1 79.1L133.1 78.1L135.1 79.1L134.1 80.1ZM86.1 79.1L87.1 78.1L88.1 79.1L87.1 80.1ZM122.1 78.1L123.1 77.1L124.1 78.1L123.1 79.1ZM162.1 71.1L163.1 70.1L164.1 71.1L163.1 72.1ZM163.1 69.1L164.1 68.1L165.1 69.1L164.1 70.1ZM74.1 69.1L75.1 68.1L76.1 69.1L75.1 70.1ZM75.1 67.1L76.1 66.1L77.1 67.1L76.1 68.1ZM93.1 66.1L94.1 65.1L95.1 67.1L94.1 68.1ZM76.1 65.1L77.1 64.1L78.1 65.1L77.1 66.1ZM77.1 63.1L78.1 62.1L79.1 64.1L78.1 65.1ZM197.1 61.1L198.1 60.1L199.1 61.1L198.1 62.1ZM202.1 46.1L203.1 45.1L204.1 46.1L203.1 47.1ZM62.1 44.1L56.1 45.1L51.1 51.1L49.1 56.1L49.1 60.1L51.1 63.1L56.1 64.1L61.1 60.1L65.1 52.1L65.1 47.1ZM190.1 39.1L191.1 38.1L192.1 39.1L191.1 40.1ZM49.1 38.1L46.1 37.1L43.1 38.1L39.1 42.1L37.1 46.1L37.1 53.1L39.1 55.1L45.1 54.1L49.1 49.1L51.1 44.1L51.1 41.1ZM33.1 31.1L30.1 32.1L30.1 46.1L35.1 41.1L36.1 34.1ZM206.1 30.1L207.1 29.1L208.1 30.1L207.1 31.1ZM204.1 29.1L205.1 28.1L206.1 29.1L205.1 30.1ZM202.1 28.1L203.1 27.1L204.1 28.1L203.1 29.1ZM219.1 26.1L202.1 26.1L203.1 27.1L202.1 28.1L198.1 26.1L192.1 26.1L188.1 31.1L188.1 36.1L190.1 38.1L189.1 39.1L186.1 38.1L180.1 43.1L179.1 49.1L181.1 51.1L180.1 52.1L177.1 51.1L173.1 55.1L170.1 61.1L172.1 64.1L168.1 65.1L165.1 68.1L164.1 65.1L162.1 65.1L153.1 69.1L157.1 73.1L160.1 73.1L162.1 71.1L163.1 72.1L162.1 74.1L163.1 77.1L159.1 79.1L153.1 73.1L147.1 72.1L144.1 75.1L141.1 81.1L143.1 84.1L142.1 85.1L140.1 84.1L138.1 85.1L134.1 80.1L139.1 79.1L141.1 73.1L131.1 75.1L133.1 78.1L132.1 79.1L128.1 77.1L124.1 78.1L122.1 74.1L115.1 70.1L112.1 70.1L109.1 73.1L108.1 72.1L109.1 69.1L108.1 67.1L104.1 64.1L99.1 63.1L95.1 66.1L94.1 65.1L94.1 60.1L90.1 57.1L84.1 57.1L79.1 63.1L78.1 61.1L80.1 55.1L78.1 52.1L73.1 50.1L70.1 51.1L65.1 57.1L62.1 63.1L62.1 69.1L67.1 73.1L70.1 73.1L74.1 69.1L75.1 70.1L74.1 77.1L76.1 80.1L80.1 82.1L83.1 82.1L86.1 79.1L87.1 80.1L87.1 86.1L90.1 89.1L96.1 91.1L99.1 88.1L100.1 89.1L99.1 93.1L103.1 97.1L107.1 99.1L111.1 98.1L112.1 101.1L116.1 105.1L113.1 108.1L117.1 116.1L120.1 112.1L120.1 110.1L117.1 107.1L118.1 106.1L124.1 107.1L127.1 111.1L122.1 114.1L119.1 120.1L119.1 123.1L126.1 128.1L129.1 128.1L131.1 126.1L132.1 127.1L131.1 129.1L132.1 132.1L126.1 137.1L125.1 136.1L126.1 132.1L122.1 129.1L120.1 130.1L121.1 138.1L122.1 139.1L125.1 136.1L126.1 137.1L124.1 141.1L124.1 145.1L126.1 147.1L120.1 149.1L117.1 154.1L117.1 159.1L119.1 161.1L114.1 162.1L110.1 167.1L110.1 173.1L113.1 176.1L112.1 177.1L107.1 176.1L103.1 181.1L102.1 184.1L103.1 187.1L108.1 191.1L107.1 192.1L99.1 191.1L96.1 195.1L96.1 200.1L104.1 207.1L102.1 208.1L94.1 205.1L89.1 210.1L90.1 215.1L96.1 220.1L101.1 222.1L106.1 222.1L110.1 217.1L109.1 213.1L103.1 208.1L105.1 207.1L109.1 209.1L115.1 209.1L118.1 206.1L119.1 201.1L114.1 196.1L116.1 195.1L122.1 197.1L126.1 194.1L128.1 188.1L125.1 184.1L126.1 183.1L130.1 184.1L134.1 181.1L136.1 177.1L136.1 173.1L134.1 171.1L135.1 170.1L140.1 170.1L142.1 168.1L145.1 162.1L145.1 160.1L143.1 158.1L148.1 157.1L150.1 155.1L153.1 149.1L152.1 145.1L155.1 144.1L158.1 141.1L159.1 146.1L161.1 148.1L168.1 150.1L171.1 148.1L174.1 143.1L174.1 140.1L172.1 138.1L173.1 137.1L177.1 138.1L179.1 136.1L180.1 140.1L185.1 144.1L190.1 145.1L193.1 142.1L194.1 143.1L193.1 146.1L194.1 148.1L201.1 152.1L203.1 152.1L207.1 149.1L209.1 156.1L213.1 158.1L218.1 158.1L222.1 154.1L223.1 155.1L222.1 160.1L225.1 164.1L228.1 165.1L232.1 164.1L238.1 157.1L239.1 159.1L237.1 163.1L237.1 168.1L241.1 171.1L245.1 171.1L250.1 166.1L253.1 160.1L253.1 153.1L249.1 150.1L246.1 150.1L239.1 158.1L238.1 156.1L241.1 150.1L241.1 145.1L238.1 142.1L233.1 141.1L228.1 146.1L227.1 144.1L229.1 138.1L226.1 134.1L222.1 132.1L217.1 134.1L216.1 129.1L210.1 124.1L204.1 125.1L203.1 121.1L197.1 116.1L193.1 115.1L191.1 117.1L190.1 113.1L188.1 111.1L192.1 110.1L194.1 108.1L197.1 101.1L193.1 96.1L189.1 94.1L187.1 94.1L185.1 96.1L184.1 95.1L185.1 92.1L183.1 90.1L187.1 89.1L190.1 85.1L191.1 86.1L190.1 91.1L193.1 93.1L196.1 92.1L195.1 84.1L191.1 83.1L192.1 81.1L191.1 76.1L194.1 75.1L197.1 72.1L199.1 68.1L199.1 63.1L198.1 62.1L203.1 60.1L206.1 55.1L206.1 50.1L203.1 47.1L204.1 46.1L209.1 46.1L212.1 43.1L213.1 37.1L207.1 31.1L208.1 30.1L216.1 31.1Z" fill="rgb(122,122,122)" fill-rule="evenodd"/>
<path d="M66.1 267.1L66.1 269.1L69.1 271.1L70.1 268.1ZM71.1 252.1L71.1 255.1L73.1 258.1L75.1 259.1L80.1 259.1L81.1 258.1L81.1 255.1L76.1 251.1ZM78.1 237.1L77.1 241.1L79.1 244.1L85.1 247.1L90.1 245.1L90.1 241.1L86.1 237.1L83.1 236.1ZM84.1 223.1L84.1 228.1L88.1 232.1L92.1 234.1L96.1 234.1L99.1 232.1L99.1 227.1L95.1 223.1L90.1 221.1L86.1 221.1ZM93.1 206.1L90.1 210.1L91.1 215.1L97.1 220.1L106.1 221.1L109.1 217.1L109.1 214.1L102.1 208.1L97.1 206.1ZM110.1 194.1L111.1 193.1L113.1 194.1L112.1 195.1ZM122.1 182.1L123.1 181.1L124.1 182.1L123.1 183.1ZM120.1 181.1L121.1 180.1L122.1 181.1L121.1 182.1ZM288.1 180.1L284.1 181.1L283.1 187.1L286.1 187.1L289.1 183.1ZM118.1 180.1L119.1 179.1L120.1 180.1L119.1 181.1ZM114.1 178.1L115.1 177.1L116.1 178.1L115.1 179.1ZM275.1 171.1L271.1 171.1L268.1 175.1L268.1 180.1L269.1 181.1L273.1 181.1L276.1 178.1L277.1 174.1ZM131.1 169.1L132.1 168.1L133.1 169.1L132.1 170.1ZM120.1 163.1L121.1 162.1L122.1 163.1L121.1 164.1ZM263.1 161.1L258.1 161.1L255.1 164.1L252.1 171.1L255.1 176.1L260.1 175.1L264.1 170.1L265.1 164.1ZM142.1 157.1L143.1 156.1L144.1 157.1L143.1 158.1ZM249.1 151.1L244.1 152.1L238.1 161.1L237.1 165.1L238.1 168.1L241.1 170.1L245.1 170.1L250.1 165.1L252.1 161.1L253.1 155.1ZM223.1 151.1L224.1 150.1L225.1 152.1L224.1 153.1ZM158.1 152.1L156.1 151.1L155.1 154.1ZM224.1 150.1L225.1 149.1L226.1 150.1L225.1 151.1ZM225.1 148.1L226.1 147.1L227.1 149.1L226.1 150.1ZM125.1 148.1L126.1 147.1L128.1 148.1L127.1 149.1ZM208.1 147.1L209.1 146.1L210.1 147.1L209.1 148.1ZM209.1 145.1L210.1 144.1L211.1 145.1L210.1 146.1ZM178.1 145.1L178.1 146.1L181.1 146.1L181.1 145.1ZM151.1 144.1L152.1 143.1L153.1 144.1L152.1 145.1ZM193.1 142.1L194.1 141.1L195.1 142.1L194.1 143.1ZM213.1 138.1L214.1 137.1L215.1 138.1L214.1 139.1ZM160.1 137.1L161.1 136.1L162.1 138.1L161.1 139.1ZM214.1 136.1L215.1 135.1L216.1 136.1L215.1 137.1ZM168.1 136.1L169.1 135.1L171.1 136.1L170.1 137.1ZM179.1 135.1L180.1 134.1L181.1 135.1L180.1 136.1ZM133.1 134.1L134.1 133.1L135.1 134.1L134.1 135.1ZM161.1 132.1L164.1 130.1L169.1 135.1L168.1 136.1L164.1 135.1L162.1 137.1ZM122.1 130.1L121.1 132.1L122.1 137.1L125.1 135.1L125.1 132.1ZM132.1 123.1L133.1 122.1L134.1 124.1L133.1 125.1ZM133.1 122.1L134.1 121.1L135.1 122.1L134.1 123.1ZM189.1 117.1L190.1 116.1L191.1 117.1L190.1 118.1ZM133.1 116.1L137.1 115.1L139.1 118.1L135.1 121.1ZM131.1 115.1L132.1 114.1L134.1 115.1L133.1 116.1ZM130.1 114.1L131.1 113.1L132.1 114.1L131.1 115.1ZM128.1 113.1L129.1 112.1L130.1 113.1L129.1 114.1ZM198.1 110.1L197.1 112.1L200.1 114.1L200.1 112.1ZM183.1 108.1L184.1 107.1L186.1 108.1L185.1 109.1ZM177.1 107.1L178.1 106.1L179.1 107.1L178.1 108.1ZM115.1 107.1L115.1 111.1L118.1 114.1L119.1 109.1ZM176.1 104.1L181.1 101.1L182.1 102.1L181.1 104.1L184.1 107.1L183.1 108.1L179.1 107.1ZM181.1 100.1L182.1 99.1L183.1 101.1L182.1 102.1ZM182.1 98.1L183.1 97.1L184.1 99.1L183.1 100.1ZM112.1 96.1L113.1 95.1L114.1 96.1L113.1 97.1ZM150.1 92.1L151.1 91.1L152.1 92.1L151.1 93.1ZM182.1 89.1L183.1 88.1L184.1 89.1L183.1 90.1ZM148.1 88.1L153.1 87.1L154.1 90.1L152.1 92.1ZM99.1 88.1L100.1 87.1L101.1 88.1L100.1 89.1ZM146.1 87.1L147.1 86.1L148.1 87.1L147.1 88.1ZM153.1 86.1L154.1 85.1L155.1 87.1L154.1 88.1ZM144.1 86.1L145.1 85.1L147.1 86.1L146.1 87.1ZM154.1 85.1L155.1 84.1L156.1 85.1L155.1 86.1ZM193.1 84.1L191.1 87.1L192.1 92.1L194.1 92.1L195.1 90.1ZM155.1 83.1L156.1 82.1L157.1 83.1L156.1 84.1ZM156.1 81.1L157.1 80.1L158.1 82.1L157.1 83.1ZM121.1 80.1L122.1 79.1L123.1 80.1L122.1 81.1ZM162.1 78.1L163.1 77.1L164.1 78.1L163.1 79.1ZM87.1 77.1L88.1 76.1L89.1 78.1L88.1 79.1ZM132.1 76.1L134.1 78.1L138.1 79.1L140.1 75.1L136.1 74.1ZM107.1 73.1L108.1 72.1L109.1 73.1L108.1 74.1ZM92.1 68.1L93.1 67.1L94.1 69.1L93.1 70.1ZM163.1 66.1L156.1 68.1L155.1 71.1L160.1 73.1L163.1 69.1ZM171.1 65.1L172.1 64.1L173.1 65.1L172.1 66.1ZM195.1 60.1L196.1 59.1L197.1 60.1L196.1 61.1ZM180.1 52.1L181.1 51.1L183.1 52.1L182.1 53.1ZM200.1 45.1L201.1 44.1L203.1 45.1L202.1 46.1ZM62.1 45.1L57.1 45.1L51.1 52.1L50.1 60.1L53.1 63.1L57.1 63.1L63.1 56.1L64.1 47.1ZM191.1 40.1L192.1 39.1L193.1 40.1L192.1 41.1ZM46.1 38.1L43.1 39.1L38.1 45.1L37.1 50.1L40.1 54.1L45.1 53.1L49.1 48.1L50.1 41.1ZM34.1 33.1L30.1 33.1L30.1 44.1L35.1 39.1ZM202.1 26.1L212.1 31.1L216.1 30.1L218.1 26.1ZM202.1 28.1L196.1 26.1L192.1 27.1L188.1 32.1L188.1 35.1L192.1 39.1L191.1 40.1L184.1 39.1L181.1 42.1L179.1 46.1L181.1 51.1L176.1 52.1L173.1 55.1L171.1 59.1L172.1 64.1L168.1 65.1L163.1 72.1L163.1 77.1L158.1 81.1L157.1 76.1L148.1 72.1L145.1 74.1L142.1 79.1L142.1 82.1L145.1 85.1L144.1 86.1L142.1 85.1L137.1 86.1L136.1 82.1L130.1 78.1L125.1 78.1L123.1 80.1L122.1 75.1L116.1 71.1L111.1 71.1L109.1 73.1L108.1 68.1L103.1 64.1L98.1 64.1L94.1 68.1L93.1 67.1L94.1 61.1L91.1 58.1L88.1 57.1L84.1 58.1L78.1 65.1L77.1 63.1L79.1 59.1L79.1 54.1L75.1 51.1L70.1 52.1L66.1 56.1L62.1 65.1L63.1 69.1L66.1 72.1L70.1 72.1L73.1 70.1L77.1 64.1L78.1 66.1L75.1 71.1L75.1 78.1L82.1 82.1L87.1 78.1L88.1 79.1L87.1 85.1L89.1 88.1L93.1 90.1L97.1 90.1L99.1 88.1L100.1 89.1L100.1 94.1L105.1 98.1L109.1 99.1L112.1 97.1L113.1 102.1L115.1 104.1L121.1 107.1L123.1 107.1L125.1 105.1L126.1 110.1L129.1 112.1L128.1 113.1L123.1 113.1L120.1 118.1L120.1 123.1L127.1 128.1L130.1 127.1L132.1 124.1L133.1 125.1L131.1 130.1L133.1 133.1L129.1 134.1L124.1 142.1L126.1 147.1L122.1 148.1L117.1 155.1L118.1 160.1L121.1 162.1L120.1 163.1L115.1 162.1L110.1 168.1L111.1 174.1L115.1 177.1L114.1 178.1L107.1 177.1L103.1 182.1L103.1 186.1L111.1 193.1L109.1 194.1L106.1 192.1L101.1 191.1L97.1 194.1L96.1 197.1L97.1 201.1L103.1 206.1L110.1 209.1L114.1 209.1L118.1 205.1L118.1 200.1L112.1 195.1L114.1 194.1L118.1 196.1L123.1 196.1L126.1 193.1L127.1 187.1L123.1 183.1L124.1 182.1L131.1 183.1L135.1 179.1L136.1 174.1L132.1 170.1L133.1 169.1L139.1 170.1L144.1 164.1L144.1 159.1L143.1 158.1L147.1 157.1L151.1 153.1L153.1 148.1L152.1 145.1L155.1 144.1L160.1 138.1L161.1 140.1L159.1 145.1L162.1 148.1L169.1 149.1L173.1 144.1L173.1 140.1L170.1 137.1L171.1 136.1L173.1 137.1L178.1 137.1L179.1 136.1L180.1 140.1L186.1 144.1L191.1 144.1L193.1 142.1L194.1 147.1L200.1 151.1L204.1 151.1L208.1 147.1L209.1 148.1L208.1 151.1L209.1 155.1L214.1 158.1L219.1 157.1L223.1 152.1L224.1 153.1L223.1 161.1L227.1 164.1L233.1 163.1L237.1 158.1L241.1 148.1L238.1 143.1L232.1 142.1L227.1 148.1L226.1 146.1L228.1 142.1L228.1 137.1L225.1 134.1L219.1 133.1L216.1 136.1L215.1 135.1L216.1 130.1L213.1 126.1L209.1 124.1L206.1 124.1L203.1 127.1L202.1 126.1L203.1 121.1L196.1 116.1L191.1 117.1L190.1 113.1L185.1 109.1L187.1 108.1L191.1 110.1L196.1 103.1L195.1 98.1L190.1 95.1L187.1 95.1L184.1 98.1L183.1 97.1L184.1 95.1L183.1 90.1L186.1 89.1L189.1 86.1L192.1 80.1L192.1 78.1L189.1 75.1L190.1 74.1L194.1 75.1L196.1 73.1L199.1 67.1L199.1 64.1L196.1 61.1L197.1 60.1L202.1 60.1L206.1 54.1L206.1 51.1L202.1 46.1L203.1 45.1L208.1 46.1L212.1 42.1L212.1 36.1Z" fill="rgb(128,128,128)" fill-rule="evenodd"/>
<path d="M73.1 253.1L73.1 255.1L75.1 257.1L79.1 257.1L79.1 255.1L77.1 253.1ZM81.1 237.1L79.1 239.1L79.1 242.1L83.1 245.1L87.1 245.1L89.1 243.1L88.1 240.1ZM87.1 222.1L85.1 224.1L85.1 228.1L89.1 232.1L96.1 233.1L98.1 231.1L98.1 227.1L91.1 222.1ZM92.1 208.1L91.1 214.1L95.1 218.1L102.1 221.1L107.1 219.1L108.1 214.1L103.1 209.1L99.1 207.1L93.1 207.1ZM98.1 194.1L97.1 199.1L102.1 205.1L108.1 208.1L114.1 208.1L117.1 205.1L117.1 200.1L110.1 194.1L105.1 192.1L100.1 192.1ZM120.1 181.1L121.1 180.1L122.1 181.1L121.1 182.1ZM118.1 180.1L119.1 179.1L120.1 180.1L119.1 181.1ZM116.1 179.1L117.1 178.1L119.1 179.1L118.1 180.1ZM114.1 178.1L115.1 177.1L117.1 178.1L116.1 179.1ZM271.1 173.1L269.1 178.1L273.1 179.1L275.1 177.1L275.1 174.1ZM131.1 169.1L132.1 168.1L133.1 169.1L132.1 170.1ZM129.1 168.1L130.1 167.1L131.1 168.1L130.1 169.1ZM122.1 164.1L123.1 163.1L124.1 164.1L123.1 165.1ZM262.1 162.1L257.1 163.1L254.1 167.1L253.1 171.1L256.1 175.1L261.1 173.1L263.1 170.1L264.1 165.1ZM140.1 156.1L141.1 155.1L142.1 156.1L141.1 157.1ZM249.1 152.1L244.1 153.1L240.1 158.1L238.1 163.1L239.1 168.1L245.1 169.1L250.1 164.1L252.1 160.1L252.1 155.1ZM209.1 145.1L210.1 144.1L211.1 145.1L210.1 146.1ZM237.1 143.1L232.1 143.1L226.1 150.1L223.1 157.1L225.1 162.1L231.1 163.1L236.1 159.1L240.1 151.1L240.1 147.1ZM210.1 143.1L211.1 142.1L212.1 143.1L211.1 144.1ZM149.1 143.1L150.1 142.1L151.1 143.1L150.1 144.1ZM212.1 140.1L213.1 139.1L214.1 140.1L213.1 141.1ZM194.1 140.1L195.1 139.1L196.1 140.1L195.1 141.1ZM213.1 138.1L214.1 137.1L215.1 138.1L214.1 139.1ZM164.1 135.1L160.1 141.1L160.1 146.1L163.1 148.1L169.1 148.1L172.1 145.1L173.1 140.1L168.1 136.1ZM133.1 134.1L134.1 133.1L135.1 134.1L134.1 135.1ZM160.1 131.1L161.1 130.1L162.1 131.1L161.1 132.1ZM201.1 128.1L202.1 127.1L203.1 128.1L202.1 129.1ZM132.1 123.1L133.1 122.1L134.1 124.1L133.1 125.1ZM188.1 119.1L189.1 118.1L190.1 119.1L189.1 120.1ZM189.1 117.1L190.1 116.1L191.1 118.1L190.1 119.1ZM137.1 115.1L139.1 118.1L134.1 123.1L133.1 122.1L134.1 120.1L133.1 116.1ZM137.1 115.1L138.1 114.1L139.1 115.1L138.1 116.1ZM131.1 115.1L132.1 114.1L134.1 115.1L133.1 116.1ZM116.1 109.1L118.1 112.1L118.1 110.1ZM125.1 105.1L126.1 104.1L127.1 105.1L126.1 106.1ZM182.1 99.1L183.1 100.1L182.1 105.1L184.1 107.1L183.1 108.1L180.1 107.1L178.1 108.1L176.1 104.1L179.1 103.1ZM180.1 88.1L181.1 87.1L182.1 88.1L181.1 89.1ZM146.1 87.1L147.1 86.1L149.1 87.1L148.1 88.1ZM135.1 87.1L136.1 86.1L137.1 87.1L136.1 88.1ZM193.1 86.1L191.1 89.1L193.1 90.1ZM154.1 85.1L155.1 86.1L154.1 89.1L155.1 91.1L151.1 93.1L148.1 88.1L152.1 87.1ZM100.1 86.1L101.1 85.1L102.1 86.1L101.1 87.1ZM101.1 84.1L102.1 83.1L103.1 84.1L102.1 85.1ZM120.1 82.1L121.1 81.1L122.1 82.1L121.1 83.1ZM121.1 80.1L122.1 79.1L123.1 80.1L122.1 81.1ZM164.1 79.1L165.1 78.1L166.1 79.1L165.1 80.1ZM105.1 77.1L106.1 76.1L107.1 77.1L106.1 78.1ZM134.1 76.1L135.1 78.1L138.1 77.1L138.1 76.1ZM106.1 75.1L107.1 74.1L108.1 75.1L107.1 76.1ZM88.1 75.1L89.1 74.1L90.1 76.1L89.1 77.1ZM89.1 74.1L90.1 73.1L91.1 74.1L90.1 75.1ZM90.1 72.1L91.1 71.1L92.1 72.1L91.1 73.1ZM91.1 70.1L92.1 69.1L93.1 70.1L92.1 71.1ZM163.1 68.1L161.1 67.1L157.1 69.1L156.1 71.1L160.1 72.1ZM195.1 60.1L196.1 59.1L197.1 60.1L196.1 61.1ZM193.1 59.1L194.1 58.1L195.1 59.1L194.1 60.1ZM182.1 53.1L183.1 52.1L184.1 53.1L183.1 54.1ZM77.1 53.1L71.1 52.1L66.1 57.1L63.1 63.1L63.1 68.1L66.1 71.1L71.1 71.1L76.1 65.1L79.1 57.1ZM63.1 47.1L57.1 46.1L53.1 50.1L51.1 54.1L51.1 60.1L53.1 62.1L57.1 62.1L61.1 58.1L64.1 52.1ZM198.1 44.1L199.1 43.1L201.1 44.1L200.1 45.1ZM197.1 43.1L198.1 42.1L199.1 43.1L198.1 44.1ZM195.1 42.1L196.1 41.1L197.1 42.1L196.1 43.1ZM193.1 41.1L194.1 40.1L195.1 41.1L194.1 42.1ZM48.1 40.1L43.1 40.1L40.1 43.1L38.1 48.1L39.1 52.1L43.1 53.1L47.1 50.1L49.1 46.1ZM33.1 35.1L30.1 35.1L30.1 43.1L34.1 38.1ZM205.1 30.1L198.1 27.1L193.1 27.1L189.1 31.1L189.1 36.1L194.1 40.1L192.1 41.1L188.1 39.1L185.1 39.1L181.1 43.1L180.1 49.1L183.1 52.1L182.1 53.1L177.1 52.1L174.1 54.1L171.1 60.1L171.1 62.1L174.1 65.1L173.1 66.1L169.1 65.1L165.1 69.1L163.1 73.1L163.1 76.1L165.1 78.1L160.1 79.1L155.1 86.1L154.1 84.1L157.1 77.1L151.1 73.1L147.1 73.1L142.1 80.1L142.1 82.1L147.1 86.1L145.1 87.1L142.1 85.1L139.1 85.1L137.1 87.1L136.1 83.1L133.1 80.1L129.1 78.1L125.1 78.1L123.1 80.1L121.1 74.1L118.1 72.1L112.1 71.1L108.1 75.1L107.1 74.1L108.1 71.1L107.1 67.1L102.1 64.1L97.1 65.1L93.1 70.1L92.1 69.1L93.1 61.1L89.1 58.1L83.1 59.1L79.1 64.1L75.1 72.1L75.1 76.1L78.1 80.1L83.1 81.1L88.1 76.1L89.1 78.1L87.1 84.1L90.1 88.1L96.1 90.1L100.1 86.1L101.1 87.1L100.1 93.1L104.1 97.1L110.1 98.1L113.1 95.1L114.1 96.1L113.1 101.1L119.1 106.1L122.1 107.1L125.1 105.1L126.1 109.1L132.1 114.1L130.1 115.1L127.1 113.1L124.1 113.1L120.1 120.1L121.1 124.1L125.1 127.1L129.1 127.1L132.1 124.1L133.1 125.1L132.1 131.1L134.1 133.1L129.1 134.1L125.1 140.1L125.1 145.1L128.1 148.1L127.1 149.1L125.1 148.1L121.1 149.1L117.1 157.1L122.1 163.1L121.1 164.1L114.1 163.1L111.1 167.1L111.1 173.1L115.1 177.1L114.1 178.1L108.1 177.1L104.1 181.1L104.1 187.1L110.1 192.1L120.1 196.1L123.1 195.1L126.1 192.1L127.1 189.1L126.1 186.1L121.1 182.1L124.1 181.1L130.1 183.1L133.1 181.1L135.1 178.1L135.1 173.1L132.1 170.1L133.1 169.1L138.1 170.1L142.1 167.1L144.1 163.1L144.1 160.1L141.1 157.1L142.1 156.1L146.1 157.1L150.1 154.1L152.1 150.1L152.1 146.1L150.1 144.1L151.1 143.1L156.1 143.1L161.1 135.1L161.1 132.1L165.1 129.1L166.1 132.1L171.1 136.1L177.1 137.1L180.1 134.1L181.1 135.1L180.1 139.1L187.1 144.1L191.1 144.1L194.1 141.1L195.1 142.1L194.1 146.1L198.1 150.1L203.1 151.1L209.1 145.1L210.1 146.1L209.1 154.1L213.1 157.1L218.1 157.1L224.1 150.1L228.1 141.1L227.1 137.1L224.1 134.1L220.1 133.1L215.1 138.1L214.1 137.1L215.1 129.1L212.1 126.1L205.1 125.1L203.1 127.1L202.1 126.1L203.1 123.1L202.1 120.1L195.1 116.1L191.1 117.1L190.1 114.1L183.1 108.1L185.1 107.1L188.1 109.1L192.1 109.1L195.1 104.1L195.1 99.1L189.1 95.1L187.1 95.1L183.1 100.1L182.1 99.1L184.1 94.1L184.1 91.1L182.1 89.1L183.1 88.1L185.1 89.1L189.1 86.1L192.1 79.1L189.1 75.1L194.1 74.1L197.1 71.1L199.1 66.1L196.1 61.1L201.1 60.1L205.1 55.1L205.1 50.1L200.1 45.1L201.1 44.1L209.1 45.1L212.1 40.1L211.1 35.1ZM203.1 26.1L210.1 30.1L214.1 30.1L217.1 27.1L217.1 26.1Z" fill="rgb(133,133,133)" fill-rule="evenodd"/>
<path d="M81.1 240.1L82.1 243.1L86.1 243.1L86.1 240.1L84.1 239.1ZM88.1 223.1L86.1 225.1L87.1 229.1L92.1 232.1L95.1 232.1L97.1 230.1L96.1 226.1L94.1 224.1ZM92.1 210.1L92.1 214.1L98.1 219.1L104.1 220.1L107.1 217.1L107.1 214.1L100.1 208.1L94.1 208.1ZM99.1 194.1L98.1 200.1L103.1 205.1L110.1 208.1L112.1 208.1L116.1 205.1L117.1 201.1L111.1 195.1L104.1 192.1ZM105.1 180.1L104.1 185.1L109.1 191.1L117.1 195.1L122.1 195.1L125.1 192.1L126.1 187.1L121.1 182.1L113.1 178.1L107.1 178.1ZM129.1 168.1L130.1 167.1L131.1 168.1L130.1 169.1ZM127.1 167.1L128.1 166.1L129.1 167.1L128.1 168.1ZM125.1 166.1L126.1 165.1L127.1 166.1L126.1 167.1ZM123.1 165.1L124.1 164.1L126.1 165.1L125.1 166.1ZM262.1 164.1L260.1 163.1L255.1 167.1L255.1 172.1L256.1 173.1L259.1 173.1L262.1 170.1ZM138.1 155.1L139.1 154.1L140.1 155.1L139.1 156.1ZM249.1 153.1L244.1 154.1L240.1 159.1L239.1 166.1L241.1 168.1L245.1 168.1L250.1 163.1L251.1 155.1ZM131.1 151.1L132.1 150.1L133.1 151.1L132.1 152.1ZM129.1 150.1L130.1 149.1L131.1 150.1L130.1 151.1ZM127.1 149.1L128.1 148.1L130.1 149.1L129.1 150.1ZM237.1 144.1L233.1 143.1L227.1 149.1L224.1 155.1L224.1 160.1L226.1 162.1L232.1 162.1L238.1 155.1L239.1 146.1ZM210.1 143.1L211.1 142.1L212.1 144.1L211.1 145.1ZM149.1 143.1L150.1 142.1L151.1 143.1L150.1 144.1ZM147.1 142.1L148.1 141.1L149.1 142.1L148.1 143.1ZM211.1 141.1L212.1 140.1L213.1 142.1L212.1 143.1ZM195.1 138.1L196.1 137.1L197.1 138.1L196.1 139.1ZM164.1 136.1L160.1 142.1L160.1 145.1L165.1 148.1L168.1 148.1L172.1 144.1L172.1 140.1L169.1 137.1ZM135.1 135.1L136.1 134.1L137.1 135.1L136.1 136.1ZM180.1 133.1L181.1 132.1L182.1 133.1L181.1 134.1ZM200.1 129.1L201.1 128.1L202.1 129.1L201.1 130.1ZM187.1 121.1L188.1 120.1L189.1 121.1L188.1 122.1ZM188.1 119.1L189.1 118.1L190.1 119.1L189.1 120.1ZM138.1 119.1L139.1 118.1L140.1 119.1L139.1 120.1ZM125.1 113.1L121.1 118.1L121.1 123.1L128.1 127.1L131.1 125.1L134.1 118.1L131.1 115.1ZM176.1 109.1L177.1 108.1L178.1 109.1L177.1 110.1ZM125.1 105.1L126.1 104.1L127.1 105.1L126.1 106.1ZM187.1 96.1L184.1 99.1L182.1 104.1L183.1 106.1L190.1 109.1L193.1 107.1L195.1 101.1L192.1 97.1ZM113.1 94.1L114.1 93.1L115.1 94.1L114.1 95.1ZM180.1 88.1L181.1 87.1L182.1 88.1L181.1 89.1ZM101.1 84.1L102.1 83.1L103.1 84.1L102.1 85.1ZM120.1 82.1L121.1 81.1L122.1 82.1L121.1 83.1ZM164.1 79.1L165.1 78.1L166.1 79.1L165.1 80.1ZM104.1 79.1L105.1 78.1L106.1 79.1L105.1 80.1ZM105.1 77.1L106.1 76.1L107.1 77.1L106.1 78.1ZM187.1 74.1L188.1 73.1L190.1 74.1L189.1 75.1ZM149.1 73.1L144.1 77.1L143.1 82.1L149.1 87.1L152.1 87.1L156.1 81.1L156.1 77.1ZM161.1 69.1L159.1 69.1L158.1 71.1L160.1 71.1ZM173.1 66.1L174.1 65.1L175.1 66.1L174.1 67.1ZM193.1 59.1L194.1 58.1L195.1 59.1L194.1 60.1ZM191.1 58.1L192.1 57.1L193.1 58.1L192.1 59.1ZM186.1 55.1L187.1 54.1L188.1 55.1L187.1 56.1ZM184.1 54.1L185.1 53.1L186.1 54.1L185.1 55.1ZM182.1 53.1L183.1 52.1L185.1 53.1L184.1 54.1ZM75.1 53.1L69.1 54.1L64.1 62.1L64.1 68.1L68.1 71.1L71.1 70.1L77.1 62.1L78.1 56.1ZM61.1 47.1L57.1 47.1L53.1 51.1L52.1 59.1L54.1 61.1L57.1 61.1L61.1 57.1L63.1 53.1L63.1 49.1ZM195.1 42.1L197.1 41.1L199.1 43.1L197.1 44.1ZM46.1 41.1L44.1 41.1L40.1 45.1L40.1 51.1L42.1 52.1L48.1 46.1L48.1 43.1ZM31.1 38.1L30.1 38.1L30.1 40.1ZM206.1 31.1L197.1 27.1L191.1 29.1L189.1 34.1L196.1 41.1L193.1 42.1L190.1 40.1L184.1 40.1L182.1 42.1L180.1 48.1L183.1 52.1L182.1 53.1L178.1 52.1L173.1 56.1L171.1 61.1L174.1 65.1L173.1 66.1L168.1 66.1L166.1 68.1L163.1 74.1L163.1 76.1L165.1 78.1L159.1 80.1L155.1 87.1L155.1 91.1L151.1 93.1L150.1 90.1L144.1 86.1L139.1 85.1L136.1 88.1L135.1 87.1L136.1 85.1L135.1 82.1L131.1 79.1L126.1 78.1L122.1 82.1L121.1 81.1L122.1 77.1L117.1 72.1L113.1 71.1L107.1 77.1L106.1 76.1L107.1 68.1L103.1 65.1L98.1 65.1L90.1 75.1L89.1 73.1L93.1 66.1L93.1 62.1L90.1 59.1L87.1 58.1L84.1 59.1L78.1 66.1L76.1 71.1L76.1 77.1L79.1 80.1L84.1 80.1L89.1 74.1L90.1 77.1L88.1 80.1L88.1 85.1L92.1 89.1L97.1 89.1L101.1 85.1L102.1 87.1L100.1 91.1L103.1 96.1L109.1 98.1L113.1 95.1L114.1 96.1L113.1 101.1L116.1 104.1L120.1 106.1L125.1 105.1L126.1 109.1L129.1 112.1L135.1 115.1L138.1 114.1L139.1 115.1L139.1 118.1L135.1 122.1L132.1 128.1L132.1 131.1L135.1 134.1L134.1 135.1L130.1 134.1L125.1 141.1L125.1 145.1L128.1 148.1L127.1 149.1L122.1 149.1L118.1 154.1L119.1 160.1L124.1 164.1L122.1 165.1L119.1 163.1L115.1 163.1L111.1 168.1L112.1 174.1L117.1 178.1L125.1 182.1L131.1 182.1L133.1 180.1L135.1 174.1L130.1 169.1L131.1 168.1L139.1 169.1L142.1 166.1L143.1 159.1L140.1 156.1L141.1 155.1L147.1 156.1L151.1 152.1L152.1 146.1L150.1 144.1L155.1 143.1L158.1 140.1L161.1 135.1L160.1 131.1L165.1 129.1L168.1 134.1L174.1 137.1L176.1 137.1L180.1 134.1L181.1 135.1L180.1 138.1L181.1 140.1L188.1 144.1L190.1 144.1L195.1 139.1L196.1 140.1L195.1 147.1L199.1 150.1L206.1 149.1L210.1 144.1L211.1 146.1L209.1 150.1L209.1 153.1L212.1 156.1L220.1 155.1L225.1 148.1L227.1 143.1L227.1 138.1L223.1 134.1L219.1 134.1L213.1 141.1L212.1 139.1L215.1 133.1L214.1 128.1L209.1 125.1L206.1 125.1L202.1 129.1L201.1 128.1L202.1 121.1L199.1 118.1L194.1 116.1L190.1 119.1L189.1 118.1L189.1 113.1L182.1 108.1L178.1 108.1L176.1 104.1L181.1 100.1L184.1 94.1L183.1 90.1L181.1 89.1L182.1 88.1L187.1 88.1L190.1 84.1L191.1 77.1L189.1 75.1L194.1 74.1L198.1 68.1L198.1 64.1L194.1 60.1L195.1 59.1L198.1 60.1L202.1 59.1L205.1 54.1L205.1 50.1L198.1 44.1L201.1 43.1L204.1 45.1L207.1 45.1L211.1 41.1L211.1 36.1ZM204.1 26.1L209.1 29.1L214.1 29.1L216.1 26.1Z" fill="rgb(138,138,138)" fill-rule="evenodd"/>
<path d="M88.1 226.1L90.1 230.1L95.1 229.1L95.1 227.1L93.1 225.1ZM94.1 209.1L93.1 213.1L96.1 217.1L100.1 219.1L105.1 218.1L106.1 214.1L102.1 210.1L97.1 208.1ZM99.1 195.1L99.1 200.1L104.1 205.1L109.1 207.1L112.1 207.1L115.1 205.1L116.1 201.1L110.1 195.1L106.1 193.1L101.1 193.1ZM106.1 180.1L105.1 186.1L111.1 192.1L120.1 195.1L125.1 191.1L124.1 185.1L117.1 180.1L112.1 178.1L108.1 178.1ZM260.1 166.1L257.1 167.1L256.1 169.1L257.1 171.1L260.1 170.1ZM125.1 166.1L126.1 165.1L128.1 166.1L127.1 167.1ZM248.1 154.1L244.1 155.1L240.1 161.1L240.1 165.1L242.1 167.1L245.1 167.1L250.1 161.1L250.1 156.1ZM136.1 154.1L137.1 153.1L138.1 154.1L137.1 155.1ZM133.1 152.1L134.1 151.1L135.1 152.1L134.1 153.1ZM131.1 151.1L132.1 150.1L133.1 151.1L132.1 152.1ZM129.1 150.1L130.1 149.1L131.1 150.1L130.1 151.1ZM235.1 144.1L231.1 145.1L228.1 148.1L225.1 154.1L225.1 160.1L229.1 162.1L232.1 161.1L238.1 153.1L239.1 149.1L238.1 146.1ZM147.1 142.1L148.1 141.1L149.1 142.1L148.1 143.1ZM195.1 138.1L196.1 137.1L197.1 139.1L196.1 140.1ZM196.1 137.1L197.1 136.1L198.1 137.1L197.1 138.1ZM164.1 136.1L161.1 141.1L161.1 145.1L164.1 147.1L168.1 147.1L171.1 144.1L172.1 141.1L168.1 137.1ZM197.1 135.1L198.1 134.1L199.1 135.1L198.1 136.1ZM134.1 135.1L135.1 134.1L137.1 135.1L136.1 136.1ZM198.1 133.1L199.1 132.1L200.1 133.1L199.1 134.1ZM199.1 131.1L200.1 130.1L201.1 131.1L200.1 132.1ZM158.1 130.1L159.1 129.1L160.1 130.1L159.1 131.1ZM200.1 129.1L201.1 128.1L202.1 130.1L201.1 131.1ZM187.1 121.1L188.1 120.1L189.1 121.1L188.1 122.1ZM124.1 114.1L121.1 121.1L124.1 125.1L129.1 126.1L133.1 121.1L133.1 117.1L128.1 114.1ZM176.1 109.1L177.1 108.1L178.1 109.1L177.1 110.1ZM175.1 103.1L176.1 102.1L177.1 103.1L176.1 104.1ZM126.1 103.1L127.1 102.1L128.1 103.1L127.1 104.1ZM188.1 96.1L183.1 101.1L183.1 105.1L188.1 108.1L191.1 108.1L193.1 106.1L194.1 100.1L191.1 97.1ZM114.1 93.1L115.1 92.1L116.1 93.1L115.1 94.1ZM155.1 92.1L156.1 91.1L157.1 92.1L156.1 93.1ZM134.1 89.1L135.1 88.1L136.1 89.1L135.1 90.1ZM119.1 84.1L120.1 83.1L121.1 84.1L120.1 85.1ZM102.1 82.1L103.1 81.1L104.1 83.1L103.1 84.1ZM166.1 80.1L167.1 79.1L168.1 80.1L167.1 81.1ZM103.1 80.1L104.1 79.1L105.1 81.1L104.1 82.1ZM104.1 78.1L105.1 77.1L106.1 79.1L105.1 80.1ZM148.1 74.1L144.1 78.1L143.1 82.1L146.1 85.1L151.1 87.1L153.1 86.1L156.1 80.1L156.1 77.1L151.1 74.1ZM186.1 73.1L187.1 72.1L188.1 73.1L187.1 74.1ZM175.1 67.1L176.1 66.1L177.1 67.1L176.1 68.1ZM173.1 66.1L174.1 65.1L176.1 66.1L175.1 67.1ZM88.1 59.1L85.1 59.1L82.1 61.1L77.1 69.1L76.1 75.1L81.1 80.1L84.1 79.1L88.1 75.1L92.1 68.1L92.1 62.1ZM191.1 58.1L192.1 57.1L194.1 58.1L193.1 59.1ZM189.1 57.1L190.1 56.1L192.1 57.1L191.1 58.1ZM188.1 56.1L189.1 55.1L190.1 56.1L189.1 57.1ZM186.1 55.1L187.1 54.1L188.1 55.1L187.1 56.1ZM184.1 54.1L185.1 53.1L186.1 54.1L185.1 55.1ZM75.1 54.1L69.1 55.1L66.1 59.1L64.1 65.1L66.1 69.1L69.1 70.1L75.1 65.1L77.1 61.1L77.1 56.1ZM60.1 48.1L56.1 49.1L53.1 53.1L53.1 58.1L55.1 60.1L58.1 59.1L61.1 56.1L62.1 50.1ZM46.1 43.1L42.1 44.1L41.1 49.1L43.1 50.1L46.1 48.1ZM198.1 44.1L189.1 40.1L185.1 40.1L182.1 43.1L181.1 49.1L185.1 53.1L184.1 54.1L177.1 53.1L174.1 55.1L172.1 59.1L172.1 63.1L174.1 65.1L167.1 67.1L163.1 75.1L166.1 79.1L165.1 80.1L161.1 79.1L158.1 82.1L155.1 87.1L156.1 91.1L151.1 93.1L147.1 88.1L143.1 86.1L138.1 86.1L136.1 88.1L135.1 83.1L130.1 79.1L125.1 79.1L121.1 83.1L120.1 82.1L121.1 76.1L116.1 72.1L110.1 73.1L106.1 78.1L105.1 76.1L107.1 73.1L107.1 69.1L102.1 65.1L97.1 66.1L92.1 72.1L88.1 81.1L88.1 84.1L90.1 87.1L96.1 89.1L102.1 83.1L103.1 85.1L101.1 88.1L101.1 93.1L104.1 96.1L110.1 97.1L114.1 93.1L115.1 94.1L114.1 96.1L114.1 102.1L120.1 106.1L123.1 106.1L126.1 103.1L127.1 104.1L126.1 107.1L127.1 110.1L135.1 115.1L138.1 114.1L141.1 119.1L137.1 120.1L133.1 126.1L132.1 130.1L135.1 134.1L134.1 135.1L129.1 135.1L126.1 139.1L125.1 144.1L130.1 149.1L129.1 150.1L126.1 149.1L121.1 150.1L118.1 156.1L119.1 159.1L126.1 165.1L124.1 166.1L117.1 163.1L112.1 167.1L112.1 173.1L121.1 180.1L129.1 182.1L133.1 179.1L134.1 173.1L127.1 167.1L129.1 166.1L135.1 169.1L138.1 169.1L141.1 167.1L143.1 163.1L143.1 160.1L138.1 155.1L140.1 154.1L143.1 156.1L146.1 156.1L150.1 153.1L152.1 147.1L148.1 143.1L149.1 142.1L152.1 143.1L156.1 142.1L161.1 134.1L160.1 132.1L161.1 130.1L165.1 129.1L166.1 132.1L172.1 136.1L178.1 136.1L181.1 132.1L182.1 133.1L181.1 139.1L186.1 143.1L191.1 143.1L195.1 139.1L196.1 140.1L195.1 146.1L200.1 150.1L205.1 149.1L211.1 142.1L212.1 144.1L210.1 148.1L210.1 153.1L214.1 156.1L219.1 155.1L224.1 149.1L227.1 141.1L225.1 136.1L218.1 135.1L212.1 143.1L211.1 141.1L214.1 135.1L214.1 129.1L208.1 125.1L205.1 126.1L202.1 129.1L201.1 128.1L202.1 125.1L201.1 120.1L196.1 117.1L192.1 117.1L189.1 120.1L188.1 119.1L189.1 113.1L182.1 108.1L178.1 109.1L176.1 104.1L181.1 100.1L183.1 96.1L183.1 91.1L180.1 88.1L181.1 87.1L186.1 88.1L191.1 81.1L191.1 78.1L187.1 74.1L188.1 73.1L193.1 74.1L197.1 70.1L198.1 64.1L193.1 59.1L194.1 58.1L201.1 59.1L204.1 55.1L203.1 48.1ZM191.1 30.1L190.1 35.1L196.1 41.1L202.1 44.1L208.1 44.1L210.1 42.1L210.1 36.1L205.1 31.1L199.1 28.1L194.1 28.1ZM204.1 26.1L211.1 29.1L215.1 27.1L215.1 26.1Z" fill="rgb(143,143,143)" fill-rule="evenodd"/>
<path d="M95.1 210.1L94.1 212.1L96.1 216.1L100.1 218.1L104.1 217.1L104.1 213.1L102.1 211.1ZM100.1 196.1L101.1 202.1L105.1 205.1L108.1 206.1L114.1 205.1L115.1 200.1L111.1 196.1L107.1 194.1L102.1 194.1ZM106.1 181.1L106.1 187.1L114.1 193.1L121.1 194.1L125.1 189.1L124.1 186.1L121.1 183.1L114.1 179.1L108.1 179.1ZM114.1 165.1L112.1 169.1L112.1 172.1L118.1 178.1L124.1 181.1L130.1 181.1L133.1 178.1L134.1 175.1L131.1 170.1L120.1 164.1ZM248.1 156.1L243.1 157.1L241.1 161.1L241.1 164.1L243.1 166.1L248.1 163.1L249.1 161.1ZM134.1 153.1L135.1 152.1L137.1 153.1L136.1 154.1ZM132.1 152.1L133.1 151.1L135.1 152.1L134.1 153.1ZM131.1 151.1L132.1 150.1L133.1 151.1L132.1 152.1ZM235.1 145.1L232.1 145.1L226.1 153.1L225.1 157.1L229.1 161.1L232.1 160.1L237.1 154.1L238.1 148.1ZM145.1 141.1L146.1 140.1L147.1 141.1L146.1 142.1ZM142.1 139.1L143.1 138.1L144.1 139.1L143.1 140.1ZM140.1 138.1L141.1 137.1L142.1 138.1L141.1 139.1ZM164.1 137.1L162.1 139.1L161.1 143.1L164.1 146.1L168.1 146.1L171.1 141.1L169.1 138.1ZM138.1 137.1L139.1 136.1L140.1 137.1L139.1 138.1ZM196.1 136.1L197.1 135.1L198.1 137.1L197.1 138.1ZM136.1 136.1L137.1 135.1L139.1 136.1L138.1 137.1ZM222.1 135.1L218.1 136.1L211.1 146.1L210.1 152.1L213.1 155.1L218.1 155.1L223.1 150.1L225.1 146.1L226.1 139.1ZM197.1 135.1L198.1 134.1L199.1 135.1L198.1 136.1ZM198.1 133.1L199.1 132.1L200.1 133.1L199.1 134.1ZM199.1 131.1L200.1 130.1L201.1 132.1L200.1 133.1ZM181.1 131.1L182.1 130.1L183.1 132.1L182.1 133.1ZM182.1 130.1L183.1 129.1L184.1 130.1L183.1 131.1ZM158.1 130.1L159.1 129.1L160.1 130.1L159.1 131.1ZM183.1 128.1L184.1 127.1L185.1 128.1L184.1 129.1ZM165.1 128.1L166.1 127.1L167.1 129.1L166.1 130.1ZM186.1 123.1L187.1 122.1L188.1 123.1L187.1 124.1ZM187.1 121.1L188.1 120.1L189.1 121.1L188.1 122.1ZM126.1 114.1L123.1 116.1L122.1 122.1L125.1 125.1L128.1 126.1L132.1 122.1L133.1 118.1ZM138.1 113.1L139.1 112.1L140.1 113.1L139.1 114.1ZM126.1 103.1L127.1 102.1L128.1 103.1L127.1 104.1ZM127.1 101.1L128.1 100.1L129.1 101.1L128.1 102.1ZM187.1 97.1L184.1 100.1L183.1 104.1L186.1 107.1L191.1 107.1L193.1 104.1L193.1 100.1L190.1 97.1ZM149.1 93.1L150.1 92.1L151.1 94.1L150.1 95.1ZM155.1 92.1L156.1 91.1L157.1 92.1L156.1 93.1ZM114.1 92.1L115.1 91.1L116.1 93.1L115.1 94.1ZM115.1 91.1L116.1 90.1L117.1 91.1L116.1 92.1ZM116.1 89.1L117.1 88.1L118.1 89.1L117.1 90.1ZM178.1 87.1L179.1 86.1L181.1 87.1L180.1 88.1ZM117.1 87.1L118.1 86.1L119.1 87.1L118.1 88.1ZM118.1 85.1L119.1 84.1L120.1 85.1L119.1 86.1ZM166.1 80.1L167.1 79.1L168.1 80.1L167.1 81.1ZM103.1 80.1L104.1 79.1L105.1 81.1L104.1 82.1ZM147.1 75.1L144.1 79.1L144.1 82.1L147.1 85.1L152.1 86.1L155.1 82.1L155.1 77.1L152.1 75.1ZM185.1 73.1L186.1 72.1L188.1 73.1L187.1 74.1ZM184.1 72.1L185.1 71.1L186.1 72.1L185.1 73.1ZM182.1 71.1L183.1 70.1L184.1 71.1L183.1 72.1ZM177.1 68.1L178.1 67.1L179.1 68.1L178.1 69.1ZM175.1 67.1L176.1 66.1L177.1 67.1L176.1 68.1ZM89.1 60.1L83.1 61.1L77.1 70.1L77.1 76.1L80.1 79.1L85.1 78.1L91.1 69.1L92.1 63.1ZM189.1 57.1L190.1 56.1L192.1 57.1L191.1 58.1ZM187.1 56.1L188.1 55.1L190.1 56.1L189.1 57.1ZM74.1 55.1L69.1 56.1L66.1 60.1L65.1 65.1L69.1 69.1L73.1 67.1L76.1 62.1L76.1 56.1ZM60.1 50.1L57.1 50.1L54.1 53.1L55.1 58.1L59.1 57.1L61.1 53.1ZM199.1 45.1L191.1 41.1L185.1 41.1L182.1 44.1L181.1 49.1L188.1 55.1L186.1 56.1L183.1 54.1L177.1 53.1L174.1 56.1L172.1 62.1L176.1 66.1L175.1 67.1L169.1 66.1L165.1 70.1L164.1 76.1L167.1 79.1L166.1 80.1L160.1 80.1L155.1 88.1L156.1 91.1L152.1 93.1L147.1 88.1L143.1 86.1L139.1 86.1L135.1 90.1L134.1 89.1L135.1 83.1L129.1 79.1L125.1 79.1L120.1 85.1L119.1 83.1L121.1 80.1L121.1 76.1L115.1 72.1L111.1 73.1L105.1 80.1L104.1 78.1L107.1 71.1L106.1 68.1L103.1 66.1L98.1 66.1L93.1 71.1L89.1 79.1L89.1 85.1L93.1 88.1L97.1 88.1L103.1 81.1L104.1 83.1L101.1 89.1L102.1 94.1L107.1 97.1L110.1 97.1L114.1 93.1L115.1 94.1L114.1 101.1L117.1 104.1L122.1 106.1L126.1 103.1L127.1 104.1L127.1 109.1L133.1 114.1L138.1 113.1L139.1 117.1L141.1 119.1L137.1 120.1L133.1 127.1L133.1 131.1L137.1 135.1L136.1 136.1L130.1 135.1L126.1 140.1L126.1 145.1L132.1 150.1L129.1 151.1L124.1 149.1L119.1 154.1L119.1 159.1L123.1 163.1L133.1 168.1L139.1 168.1L143.1 161.1L136.1 154.1L138.1 153.1L141.1 155.1L147.1 155.1L151.1 150.1L151.1 146.1L147.1 142.1L148.1 141.1L155.1 142.1L160.1 136.1L159.1 131.1L160.1 130.1L165.1 129.1L169.1 134.1L173.1 136.1L177.1 136.1L181.1 132.1L182.1 133.1L181.1 136.1L182.1 140.1L187.1 143.1L192.1 142.1L196.1 137.1L197.1 139.1L195.1 144.1L199.1 149.1L206.1 148.1L210.1 143.1L214.1 134.1L214.1 130.1L211.1 127.1L206.1 126.1L201.1 131.1L200.1 130.1L202.1 124.1L201.1 121.1L195.1 117.1L193.1 117.1L189.1 121.1L188.1 120.1L189.1 114.1L181.1 108.1L179.1 108.1L177.1 110.1L176.1 109.1L177.1 106.1L174.1 103.1L179.1 102.1L183.1 95.1L183.1 91.1L180.1 88.1L181.1 87.1L183.1 88.1L187.1 87.1L190.1 82.1L190.1 77.1L187.1 74.1L188.1 73.1L194.1 73.1L197.1 69.1L197.1 63.1L191.1 58.1L193.1 57.1L197.1 59.1L200.1 59.1L204.1 54.1L203.1 49.1ZM191.1 31.1L191.1 36.1L195.1 40.1L204.1 44.1L209.1 42.1L210.1 37.1L206.1 32.1L197.1 28.1L193.1 29.1ZM205.1 26.1L212.1 28.1L214.1 26.1Z" fill="rgb(148,148,148)" fill-rule="evenodd"/>
<path d="M97.1 211.1L96.1 213.1L99.1 216.1L102.1 216.1L102.1 213.1L100.1 211.1ZM101.1 196.1L101.1 200.1L103.1 203.1L107.1 205.1L112.1 205.1L114.1 203.1L114.1 200.1L108.1 195.1L102.1 195.1ZM107.1 181.1L106.1 185.1L111.1 191.1L115.1 193.1L121.1 193.1L124.1 190.1L124.1 187.1L119.1 182.1L112.1 179.1ZM114.1 166.1L113.1 173.1L117.1 177.1L126.1 181.1L130.1 180.1L133.1 177.1L133.1 173.1L126.1 167.1L118.1 164.1ZM247.1 158.1L243.1 159.1L244.1 164.1L247.1 162.1ZM134.1 153.1L135.1 152.1L137.1 153.1L136.1 154.1ZM234.1 146.1L232.1 146.1L226.1 154.1L226.1 157.1L229.1 160.1L232.1 159.1L236.1 155.1L237.1 149.1ZM145.1 141.1L146.1 140.1L148.1 141.1L147.1 142.1ZM144.1 140.1L145.1 139.1L146.1 140.1L145.1 141.1ZM142.1 139.1L143.1 138.1L144.1 139.1L143.1 140.1ZM140.1 138.1L141.1 137.1L142.1 138.1L141.1 139.1ZM165.1 137.1L163.1 139.1L162.1 143.1L164.1 145.1L167.1 145.1L169.1 144.1L170.1 141.1L168.1 138.1ZM138.1 137.1L139.1 136.1L140.1 137.1L139.1 138.1ZM224.1 137.1L219.1 136.1L214.1 141.1L211.1 147.1L211.1 152.1L213.1 154.1L218.1 154.1L223.1 149.1L225.1 145.1ZM136.1 136.1L137.1 135.1L139.1 136.1L138.1 137.1ZM181.1 131.1L182.1 130.1L183.1 132.1L182.1 133.1ZM182.1 130.1L183.1 129.1L184.1 130.1L183.1 131.1ZM158.1 130.1L159.1 129.1L160.1 130.1L159.1 131.1ZM183.1 128.1L184.1 127.1L185.1 128.1L184.1 129.1ZM212.1 128.1L207.1 126.1L202.1 130.1L196.1 141.1L196.1 146.1L198.1 148.1L203.1 149.1L209.1 144.1L213.1 136.1ZM184.1 126.1L185.1 125.1L186.1 126.1L185.1 127.1ZM185.1 124.1L186.1 123.1L187.1 125.1L186.1 126.1ZM186.1 122.1L187.1 121.1L188.1 123.1L187.1 124.1ZM140.1 120.1L141.1 119.1L142.1 120.1L141.1 121.1ZM125.1 115.1L123.1 118.1L123.1 122.1L128.1 125.1L131.1 123.1L132.1 117.1L128.1 115.1ZM138.1 113.1L139.1 112.1L140.1 113.1L139.1 114.1ZM173.1 102.1L174.1 101.1L175.1 102.1L174.1 103.1ZM127.1 101.1L128.1 100.1L129.1 101.1L128.1 102.1ZM128.1 99.1L129.1 98.1L130.1 99.1L129.1 100.1ZM187.1 98.1L184.1 101.1L184.1 105.1L189.1 107.1L191.1 106.1L192.1 101.1L190.1 98.1ZM131.1 94.1L132.1 93.1L133.1 94.1L132.1 95.1ZM132.1 92.1L133.1 91.1L134.1 92.1L133.1 93.1ZM133.1 90.1L134.1 89.1L135.1 91.1L134.1 92.1ZM115.1 90.1L116.1 89.1L117.1 91.1L116.1 92.1ZM116.1 89.1L117.1 88.1L118.1 89.1L117.1 90.1ZM117.1 87.1L118.1 86.1L119.1 87.1L118.1 88.1ZM177.1 86.1L178.1 85.1L179.1 86.1L178.1 87.1ZM175.1 85.1L176.1 84.1L177.1 85.1L176.1 86.1ZM118.1 85.1L119.1 84.1L120.1 86.1L119.1 87.1ZM173.1 84.1L174.1 83.1L175.1 84.1L174.1 85.1ZM168.1 81.1L169.1 80.1L170.1 81.1L169.1 82.1ZM150.1 75.1L147.1 76.1L144.1 81.1L149.1 86.1L151.1 86.1L154.1 83.1L155.1 78.1ZM184.1 72.1L185.1 71.1L186.1 72.1L185.1 73.1ZM182.1 71.1L183.1 70.1L184.1 71.1L183.1 72.1ZM180.1 70.1L181.1 69.1L182.1 70.1L181.1 71.1ZM178.1 69.1L179.1 68.1L181.1 69.1L180.1 70.1ZM104.1 67.1L101.1 66.1L97.1 67.1L92.1 73.1L89.1 80.1L89.1 83.1L92.1 87.1L96.1 88.1L102.1 82.1L106.1 74.1L106.1 69.1ZM89.1 61.1L84.1 61.1L80.1 65.1L77.1 72.1L77.1 74.1L80.1 78.1L84.1 78.1L88.1 74.1L91.1 68.1L91.1 63.1ZM75.1 57.1L71.1 56.1L67.1 60.1L66.1 64.1L68.1 67.1L71.1 67.1L74.1 64.1ZM183.1 54.1L175.1 55.1L173.1 58.1L173.1 63.1L179.1 68.1L177.1 69.1L174.1 67.1L168.1 67.1L164.1 73.1L164.1 76.1L168.1 80.1L167.1 81.1L161.1 80.1L157.1 84.1L155.1 88.1L157.1 92.1L156.1 93.1L153.1 92.1L150.1 95.1L149.1 90.1L142.1 86.1L139.1 86.1L135.1 90.1L134.1 89.1L135.1 84.1L131.1 80.1L128.1 79.1L124.1 80.1L120.1 85.1L119.1 83.1L121.1 78.1L116.1 73.1L110.1 74.1L102.1 87.1L102.1 93.1L106.1 96.1L111.1 96.1L115.1 91.1L116.1 92.1L114.1 97.1L115.1 102.1L120.1 105.1L124.1 105.1L127.1 101.1L128.1 102.1L127.1 109.1L134.1 114.1L138.1 113.1L139.1 117.1L141.1 119.1L138.1 120.1L133.1 127.1L133.1 131.1L137.1 135.1L136.1 136.1L133.1 135.1L129.1 136.1L126.1 141.1L127.1 146.1L135.1 152.1L133.1 153.1L128.1 150.1L123.1 150.1L120.1 153.1L119.1 156.1L121.1 161.1L131.1 167.1L138.1 168.1L141.1 165.1L142.1 160.1L136.1 154.1L137.1 153.1L142.1 155.1L148.1 154.1L151.1 147.1L147.1 142.1L148.1 141.1L155.1 142.1L160.1 135.1L159.1 131.1L160.1 130.1L163.1 130.1L166.1 127.1L167.1 132.1L174.1 136.1L178.1 135.1L181.1 132.1L182.1 133.1L181.1 137.1L185.1 142.1L191.1 142.1L195.1 138.1L201.1 127.1L201.1 122.1L197.1 118.1L192.1 118.1L188.1 122.1L187.1 121.1L188.1 113.1L180.1 108.1L177.1 110.1L176.1 109.1L177.1 106.1L174.1 103.1L178.1 102.1L181.1 99.1L183.1 94.1L182.1 90.1L178.1 87.1L179.1 86.1L186.1 87.1L190.1 82.1L189.1 76.1L185.1 73.1L186.1 72.1L193.1 73.1L197.1 68.1L197.1 64.1L192.1 59.1ZM58.1 53.1L56.1 55.1L58.1 55.1ZM183.1 43.1L182.1 49.1L184.1 52.1L195.1 58.1L201.1 58.1L202.1 57.1L203.1 50.1L197.1 44.1L190.1 41.1L186.1 41.1ZM192.1 31.1L191.1 34.1L193.1 38.1L202.1 43.1L207.1 43.1L208.1 42.1L209.1 37.1L205.1 32.1L199.1 29.1L195.1 29.1ZM207.1 26.1L210.1 27.1L212.1 26.1Z" fill="rgb(153,153,153)" fill-rule="evenodd"/>
<path d="M102.1 197.1L102.1 200.1L107.1 204.1L111.1 204.1L113.1 202.1L112.1 199.1L108.1 196.1L103.1 196.1ZM108.1 181.1L107.1 186.1L112.1 191.1L119.1 193.1L123.1 190.1L122.1 185.1L114.1 180.1L109.1 180.1ZM114.1 167.1L113.1 171.1L118.1 177.1L124.1 180.1L129.1 180.1L132.1 177.1L131.1 171.1L121.1 165.1L116.1 165.1ZM121.1 152.1L120.1 159.1L124.1 163.1L132.1 167.1L138.1 167.1L141.1 164.1L141.1 159.1L137.1 155.1L127.1 150.1L124.1 150.1ZM235.1 148.1L233.1 147.1L228.1 151.1L227.1 154.1L228.1 158.1L232.1 158.1L235.1 155.1L236.1 152.1ZM143.1 140.1L144.1 139.1L146.1 140.1L145.1 141.1ZM142.1 139.1L143.1 138.1L144.1 139.1L143.1 140.1ZM165.1 138.1L163.1 142.1L167.1 143.1L168.1 140.1ZM140.1 138.1L141.1 137.1L142.1 138.1L141.1 139.1ZM222.1 137.1L218.1 137.1L212.1 145.1L211.1 150.1L215.1 154.1L219.1 153.1L224.1 146.1L225.1 141.1ZM138.1 137.1L139.1 136.1L141.1 137.1L140.1 138.1ZM183.1 128.1L184.1 127.1L185.1 128.1L184.1 129.1ZM209.1 127.1L204.1 128.1L197.1 139.1L196.1 144.1L200.1 148.1L206.1 147.1L212.1 138.1L213.1 131.1ZM166.1 127.1L167.1 126.1L168.1 127.1L167.1 128.1ZM184.1 126.1L185.1 125.1L186.1 127.1L185.1 128.1ZM185.1 124.1L186.1 123.1L187.1 125.1L186.1 126.1ZM142.1 121.1L143.1 120.1L144.1 121.1L143.1 122.1ZM126.1 116.1L124.1 118.1L124.1 121.1L125.1 123.1L129.1 124.1L131.1 122.1L132.1 118.1L129.1 116.1ZM175.1 111.1L176.1 110.1L177.1 111.1L176.1 112.1ZM173.1 102.1L174.1 101.1L175.1 102.1L174.1 103.1ZM187.1 99.1L185.1 101.1L185.1 105.1L189.1 106.1L191.1 102.1L189.1 99.1ZM128.1 99.1L129.1 98.1L130.1 100.1L129.1 101.1ZM129.1 98.1L130.1 97.1L131.1 98.1L130.1 99.1ZM130.1 96.1L131.1 95.1L132.1 96.1L131.1 97.1ZM131.1 94.1L132.1 93.1L133.1 94.1L132.1 95.1ZM157.1 93.1L158.1 92.1L159.1 93.1L158.1 94.1ZM132.1 92.1L133.1 91.1L134.1 92.1L133.1 93.1ZM133.1 90.1L134.1 89.1L135.1 91.1L134.1 92.1ZM176.1 86.1L177.1 85.1L179.1 86.1L178.1 87.1ZM175.1 85.1L176.1 84.1L177.1 85.1L176.1 86.1ZM173.1 84.1L174.1 83.1L175.1 84.1L174.1 85.1ZM171.1 83.1L172.1 82.1L173.1 83.1L172.1 84.1ZM169.1 82.1L170.1 81.1L172.1 82.1L171.1 83.1ZM149.1 76.1L145.1 80.1L145.1 82.1L148.1 85.1L152.1 85.1L154.1 82.1L154.1 78.1ZM180.1 70.1L181.1 69.1L183.1 70.1L182.1 71.1ZM178.1 69.1L179.1 68.1L181.1 69.1L180.1 70.1ZM104.1 68.1L98.1 67.1L93.1 72.1L90.1 78.1L90.1 84.1L93.1 87.1L97.1 87.1L103.1 80.1L106.1 73.1ZM89.1 62.1L84.1 62.1L80.1 66.1L78.1 71.1L78.1 74.1L80.1 77.1L84.1 77.1L88.1 73.1L91.1 66.1ZM73.1 58.1L69.1 59.1L68.1 65.1L70.1 66.1L73.1 64.1L74.1 62.1ZM182.1 54.1L177.1 54.1L173.1 59.1L174.1 64.1L179.1 68.1L177.1 69.1L174.1 67.1L169.1 67.1L166.1 70.1L165.1 77.1L170.1 81.1L168.1 82.1L164.1 80.1L161.1 80.1L156.1 87.1L157.1 92.1L156.1 93.1L154.1 92.1L150.1 95.1L149.1 91.1L144.1 87.1L138.1 87.1L135.1 90.1L134.1 89.1L134.1 83.1L130.1 80.1L125.1 80.1L119.1 87.1L118.1 85.1L120.1 81.1L120.1 77.1L119.1 75.1L115.1 73.1L111.1 74.1L107.1 78.1L103.1 85.1L102.1 92.1L107.1 96.1L110.1 96.1L118.1 86.1L119.1 88.1L115.1 95.1L115.1 101.1L118.1 104.1L123.1 105.1L128.1 100.1L129.1 102.1L127.1 108.1L132.1 113.1L137.1 114.1L139.1 112.1L140.1 113.1L139.1 116.1L142.1 120.1L137.1 121.1L133.1 129.1L134.1 132.1L139.1 136.1L138.1 137.1L130.1 136.1L127.1 140.1L127.1 145.1L132.1 150.1L140.1 154.1L145.1 155.1L149.1 152.1L150.1 146.1L145.1 141.1L147.1 140.1L151.1 142.1L154.1 142.1L160.1 135.1L158.1 130.1L159.1 129.1L163.1 130.1L166.1 127.1L167.1 131.1L170.1 134.1L177.1 135.1L180.1 133.1L183.1 128.1L184.1 131.1L182.1 134.1L182.1 138.1L183.1 140.1L187.1 142.1L192.1 141.1L200.1 129.1L201.1 126.1L200.1 121.1L196.1 118.1L193.1 118.1L187.1 124.1L186.1 122.1L188.1 119.1L188.1 114.1L182.1 109.1L177.1 110.1L176.1 105.1L174.1 103.1L178.1 102.1L182.1 96.1L182.1 91.1L178.1 87.1L179.1 86.1L182.1 87.1L187.1 86.1L190.1 80.1L189.1 77.1L182.1 71.1L184.1 70.1L187.1 72.1L192.1 73.1L196.1 69.1L196.1 63.1L190.1 58.1ZM182.1 46.1L183.1 50.1L189.1 55.1L196.1 58.1L199.1 58.1L202.1 56.1L203.1 51.1L198.1 45.1L192.1 42.1L185.1 42.1ZM193.1 31.1L192.1 35.1L198.1 41.1L204.1 43.1L208.1 40.1L208.1 36.1L204.1 32.1L200.1 30.1Z" fill="rgb(158,158,158)" fill-rule="evenodd"/>
<path d="M104.1 197.1L104.1 200.1L108.1 203.1L111.1 202.1L111.1 200.1L108.1 197.1ZM108.1 183.1L108.1 186.1L112.1 190.1L116.1 192.1L121.1 191.1L122.1 187.1L119.1 183.1L115.1 181.1L110.1 181.1ZM115.1 167.1L114.1 172.1L119.1 177.1L123.1 179.1L129.1 179.1L131.1 177.1L131.1 172.1L128.1 169.1L122.1 166.1L116.1 166.1ZM121.1 153.1L120.1 157.1L126.1 164.1L133.1 167.1L137.1 167.1L140.1 165.1L141.1 160.1L135.1 154.1L129.1 151.1L123.1 151.1ZM233.1 149.1L229.1 152.1L229.1 156.1L232.1 156.1L234.1 154.1ZM222.1 138.1L218.1 138.1L213.1 144.1L212.1 147.1L213.1 152.1L215.1 153.1L219.1 152.1L223.1 147.1L224.1 141.1ZM131.1 136.1L127.1 141.1L128.1 146.1L138.1 153.1L146.1 154.1L149.1 151.1L150.1 146.1L143.1 140.1L135.1 136.1ZM156.1 129.1L157.1 128.1L158.1 129.1L157.1 130.1ZM210.1 128.1L205.1 128.1L201.1 132.1L197.1 140.1L197.1 145.1L199.1 147.1L205.1 147.1L209.1 143.1L212.1 137.1L212.1 130.1ZM166.1 127.1L167.1 126.1L168.1 127.1L167.1 128.1ZM142.1 121.1L143.1 120.1L144.1 121.1L143.1 122.1ZM126.1 117.1L125.1 119.1L126.1 122.1L128.1 123.1L130.1 122.1L131.1 118.1ZM139.1 111.1L140.1 110.1L141.1 111.1L140.1 112.1ZM187.1 101.1L186.1 104.1L188.1 104.1ZM171.1 101.1L172.1 100.1L173.1 101.1L172.1 102.1ZM129.1 97.1L130.1 96.1L131.1 98.1L130.1 99.1ZM130.1 96.1L131.1 95.1L132.1 96.1L131.1 97.1ZM148.1 95.1L149.1 94.1L150.1 95.1L149.1 96.1ZM131.1 94.1L132.1 93.1L133.1 94.1L132.1 95.1ZM157.1 93.1L158.1 92.1L159.1 93.1L158.1 94.1ZM132.1 92.1L133.1 91.1L134.1 93.1L133.1 94.1ZM174.1 85.1L175.1 84.1L177.1 85.1L176.1 86.1ZM173.1 84.1L174.1 83.1L175.1 84.1L174.1 85.1ZM171.1 83.1L172.1 82.1L174.1 83.1L173.1 84.1ZM169.1 82.1L170.1 81.1L172.1 82.1L171.1 83.1ZM152.1 78.1L148.1 78.1L146.1 81.1L150.1 85.1L153.1 82.1ZM118.1 75.1L112.1 74.1L106.1 80.1L103.1 86.1L103.1 92.1L106.1 95.1L111.1 95.1L116.1 89.1L120.1 80.1ZM103.1 68.1L98.1 68.1L93.1 73.1L90.1 80.1L90.1 82.1L93.1 86.1L99.1 85.1L105.1 75.1L105.1 70.1ZM89.1 63.1L84.1 63.1L80.1 67.1L79.1 74.1L81.1 76.1L84.1 76.1L87.1 74.1L90.1 68.1ZM72.1 61.1L70.1 62.1L71.1 63.1ZM184.1 55.1L179.1 54.1L174.1 58.1L174.1 63.1L181.1 69.1L179.1 70.1L173.1 67.1L168.1 68.1L165.1 72.1L165.1 76.1L170.1 81.1L169.1 82.1L163.1 80.1L161.1 81.1L156.1 87.1L156.1 90.1L158.1 92.1L157.1 93.1L152.1 93.1L150.1 95.1L149.1 91.1L143.1 87.1L137.1 88.1L134.1 92.1L133.1 91.1L134.1 84.1L129.1 80.1L124.1 81.1L119.1 87.1L116.1 93.1L115.1 100.1L119.1 104.1L124.1 104.1L129.1 98.1L130.1 100.1L128.1 103.1L128.1 109.1L133.1 113.1L136.1 114.1L139.1 112.1L140.1 113.1L140.1 118.1L143.1 120.1L138.1 121.1L135.1 124.1L134.1 131.1L139.1 136.1L149.1 141.1L155.1 141.1L159.1 136.1L159.1 132.1L157.1 130.1L158.1 129.1L162.1 130.1L166.1 127.1L167.1 131.1L173.1 135.1L177.1 135.1L185.1 125.1L186.1 127.1L183.1 132.1L182.1 137.1L185.1 141.1L191.1 141.1L196.1 136.1L200.1 128.1L200.1 122.1L197.1 119.1L192.1 119.1L186.1 126.1L185.1 124.1L188.1 118.1L187.1 113.1L181.1 109.1L179.1 109.1L176.1 112.1L175.1 111.1L176.1 105.1L173.1 102.1L174.1 101.1L176.1 102.1L179.1 101.1L182.1 95.1L182.1 91.1L176.1 86.1L178.1 85.1L184.1 87.1L189.1 82.1L189.1 77.1L180.1 70.1L182.1 69.1L187.1 72.1L193.1 72.1L196.1 68.1L196.1 64.1L194.1 61.1ZM183.1 45.1L184.1 51.1L194.1 57.1L200.1 57.1L201.1 56.1L202.1 50.1L197.1 45.1L191.1 42.1L187.1 42.1ZM193.1 33.1L194.1 37.1L199.1 41.1L205.1 42.1L207.1 40.1L207.1 36.1L203.1 32.1L195.1 31.1Z" fill="rgb(163,163,163)" fill-rule="evenodd"/>
<path d="M110.1 182.1L109.1 185.1L113.1 190.1L118.1 191.1L121.1 189.1L120.1 185.1L116.1 182.1ZM116.1 167.1L115.1 172.1L118.1 176.1L124.1 179.1L127.1 179.1L130.1 177.1L131.1 174.1L127.1 169.1L121.1 166.1ZM122.1 153.1L121.1 158.1L124.1 162.1L131.1 166.1L138.1 166.1L139.1 165.1L140.1 159.1L136.1 155.1L128.1 151.1L124.1 151.1ZM221.1 139.1L218.1 139.1L213.1 146.1L213.1 150.1L216.1 152.1L219.1 151.1L223.1 145.1L223.1 141.1ZM129.1 138.1L128.1 145.1L133.1 150.1L142.1 154.1L145.1 154.1L148.1 152.1L149.1 145.1L143.1 140.1L134.1 136.1ZM208.1 128.1L203.1 130.1L198.1 138.1L197.1 143.1L201.1 147.1L205.1 146.1L209.1 142.1L212.1 136.1L212.1 132.1ZM167.1 125.1L168.1 124.1L169.1 125.1L168.1 126.1ZM144.1 122.1L145.1 121.1L146.1 122.1L145.1 123.1ZM142.1 121.1L143.1 120.1L144.1 121.1L143.1 122.1ZM196.1 119.1L191.1 120.1L184.1 130.1L183.1 138.1L187.1 141.1L192.1 140.1L199.1 130.1L200.1 123.1ZM171.1 101.1L172.1 100.1L173.1 101.1L172.1 102.1ZM147.1 97.1L148.1 96.1L149.1 97.1L148.1 98.1ZM129.1 97.1L130.1 96.1L131.1 98.1L130.1 99.1ZM148.1 95.1L149.1 94.1L150.1 95.1L149.1 96.1ZM151.1 79.1L148.1 80.1L149.1 83.1L152.1 82.1ZM117.1 75.1L114.1 74.1L111.1 75.1L105.1 82.1L103.1 87.1L103.1 91.1L105.1 94.1L110.1 95.1L117.1 87.1L119.1 82.1L119.1 77.1ZM175.1 68.1L169.1 68.1L166.1 71.1L165.1 74.1L166.1 77.1L172.1 82.1L170.1 83.1L166.1 81.1L161.1 81.1L156.1 88.1L156.1 90.1L159.1 93.1L158.1 94.1L152.1 93.1L150.1 95.1L148.1 90.1L145.1 88.1L140.1 87.1L134.1 92.1L131.1 97.1L130.1 95.1L133.1 90.1L134.1 85.1L130.1 81.1L125.1 81.1L120.1 86.1L116.1 94.1L115.1 99.1L118.1 103.1L123.1 104.1L129.1 98.1L130.1 99.1L128.1 104.1L129.1 110.1L134.1 113.1L137.1 113.1L140.1 110.1L141.1 111.1L140.1 117.1L143.1 120.1L138.1 121.1L136.1 123.1L134.1 130.1L138.1 135.1L149.1 141.1L154.1 141.1L158.1 137.1L159.1 132.1L156.1 129.1L157.1 128.1L164.1 129.1L167.1 125.1L168.1 126.1L167.1 129.1L168.1 132.1L172.1 134.1L178.1 134.1L183.1 128.1L187.1 120.1L187.1 114.1L183.1 110.1L180.1 109.1L176.1 112.1L175.1 111.1L176.1 106.1L173.1 102.1L178.1 101.1L180.1 99.1L182.1 93.1L180.1 89.1L171.1 83.1L173.1 82.1L180.1 86.1L185.1 86.1L187.1 85.1L189.1 81.1L189.1 78.1L183.1 72.1ZM100.1 68.1L97.1 69.1L94.1 72.1L91.1 78.1L91.1 83.1L95.1 86.1L98.1 85.1L103.1 79.1L104.1 76.1L104.1 70.1ZM88.1 64.1L84.1 64.1L80.1 69.1L81.1 75.1L86.1 74.1L89.1 69.1ZM176.1 56.1L174.1 59.1L174.1 62.1L177.1 66.1L188.1 72.1L192.1 72.1L195.1 69.1L195.1 63.1L191.1 59.1L183.1 55.1ZM184.1 45.1L184.1 50.1L190.1 55.1L195.1 57.1L198.1 57.1L201.1 55.1L201.1 50.1L198.1 46.1L192.1 43.1L186.1 43.1ZM194.1 34.1L195.1 37.1L201.1 41.1L204.1 41.1L206.1 39.1L205.1 35.1L201.1 32.1L196.1 32.1Z" fill="rgb(168,168,168)" fill-rule="evenodd"/>
<path d="M111.1 184.1L112.1 188.1L119.1 189.1L119.1 186.1L116.1 183.1ZM116.1 169.1L116.1 172.1L119.1 176.1L123.1 178.1L129.1 177.1L130.1 174.1L126.1 169.1L122.1 167.1L118.1 167.1ZM122.1 154.1L122.1 159.1L126.1 163.1L132.1 166.1L136.1 166.1L139.1 164.1L140.1 161.1L138.1 157.1L130.1 152.1L124.1 152.1ZM220.1 140.1L218.1 140.1L214.1 145.1L215.1 150.1L218.1 150.1L221.1 147.1L222.1 142.1ZM129.1 139.1L128.1 144.1L135.1 151.1L140.1 153.1L146.1 153.1L148.1 151.1L149.1 146.1L144.1 141.1L136.1 137.1L131.1 137.1ZM210.1 130.1L206.1 129.1L201.1 133.1L198.1 139.1L198.1 144.1L200.1 146.1L206.1 145.1L211.1 137.1ZM154.1 128.1L155.1 127.1L156.1 128.1L155.1 129.1ZM167.1 125.1L168.1 124.1L169.1 125.1L168.1 126.1ZM168.1 123.1L169.1 122.1L170.1 123.1L169.1 124.1ZM144.1 122.1L145.1 121.1L146.1 122.1L145.1 123.1ZM198.1 121.1L192.1 120.1L187.1 125.1L183.1 133.1L183.1 137.1L186.1 140.1L191.1 140.1L196.1 135.1L199.1 129.1ZM174.1 112.1L175.1 111.1L176.1 113.1L175.1 114.1ZM169.1 100.1L170.1 99.1L171.1 100.1L170.1 101.1ZM146.1 99.1L147.1 98.1L148.1 99.1L147.1 100.1ZM147.1 97.1L148.1 96.1L149.1 97.1L148.1 98.1ZM159.1 94.1L160.1 93.1L161.1 94.1L160.1 95.1ZM165.1 81.1L162.1 81.1L158.1 85.1L157.1 91.1L159.1 93.1L158.1 94.1L153.1 93.1L149.1 97.1L148.1 96.1L148.1 91.1L146.1 89.1L138.1 88.1L133.1 94.1L128.1 105.1L129.1 109.1L135.1 113.1L137.1 113.1L140.1 110.1L141.1 111.1L140.1 117.1L144.1 121.1L143.1 122.1L139.1 121.1L135.1 126.1L136.1 133.1L143.1 138.1L151.1 141.1L155.1 140.1L159.1 134.1L156.1 129.1L157.1 128.1L163.1 129.1L167.1 125.1L169.1 132.1L173.1 134.1L177.1 134.1L182.1 129.1L187.1 119.1L187.1 115.1L185.1 112.1L182.1 110.1L178.1 110.1L176.1 112.1L175.1 111.1L176.1 106.1L171.1 101.1L172.1 100.1L177.1 101.1L181.1 96.1L181.1 91.1L174.1 85.1ZM131.1 82.1L126.1 81.1L119.1 88.1L116.1 94.1L116.1 100.1L119.1 103.1L124.1 103.1L130.1 96.1L133.1 90.1L133.1 84.1ZM115.1 75.1L110.1 76.1L104.1 85.1L104.1 91.1L107.1 94.1L111.1 94.1L118.1 84.1L119.1 79.1ZM101.1 69.1L97.1 70.1L92.1 77.1L92.1 83.1L95.1 85.1L98.1 84.1L103.1 78.1L104.1 72.1ZM167.1 70.1L166.1 76.1L168.1 79.1L181.1 86.1L184.1 86.1L187.1 84.1L188.1 77.1L184.1 73.1L174.1 68.1L170.1 68.1ZM87.1 65.1L85.1 65.1L81.1 70.1L81.1 72.1L83.1 74.1L88.1 69.1ZM176.1 57.1L175.1 63.1L179.1 67.1L186.1 71.1L192.1 71.1L194.1 69.1L195.1 65.1L190.1 59.1L182.1 55.1L179.1 55.1ZM185.1 45.1L184.1 48.1L189.1 54.1L193.1 56.1L199.1 56.1L201.1 52.1L200.1 49.1L197.1 46.1L190.1 43.1ZM197.1 33.1L196.1 34.1L197.1 38.1L203.1 40.1L204.1 36.1L201.1 33.1Z" fill="rgb(173,173,173)" fill-rule="evenodd"/>
<path d="M113.1 185.1L114.1 187.1L116.1 188.1L117.1 187.1L116.1 185.1ZM117.1 170.1L117.1 172.1L123.1 177.1L128.1 176.1L128.1 172.1L125.1 169.1L119.1 168.1ZM123.1 154.1L123.1 159.1L127.1 163.1L131.1 165.1L136.1 165.1L139.1 162.1L138.1 158.1L133.1 154.1L128.1 152.1ZM220.1 142.1L218.1 142.1L215.1 146.1L216.1 148.1L218.1 148.1L220.1 146.1ZM129.1 140.1L129.1 145.1L134.1 150.1L141.1 153.1L144.1 153.1L148.1 150.1L147.1 144.1L142.1 140.1L135.1 137.1L133.1 137.1ZM208.1 130.1L205.1 130.1L201.1 134.1L199.1 138.1L199.1 144.1L200.1 145.1L204.1 145.1L208.1 142.1L211.1 134.1ZM154.1 128.1L155.1 127.1L157.1 128.1L156.1 129.1ZM153.1 127.1L154.1 126.1L155.1 127.1L154.1 128.1ZM151.1 126.1L152.1 125.1L153.1 126.1L152.1 127.1ZM168.1 123.1L169.1 122.1L170.1 123.1L169.1 124.1ZM143.1 122.1L144.1 121.1L146.1 122.1L145.1 123.1ZM195.1 120.1L191.1 121.1L185.1 129.1L184.1 137.1L188.1 140.1L192.1 139.1L195.1 136.1L199.1 128.1L199.1 124.1ZM172.1 116.1L173.1 115.1L174.1 116.1L173.1 117.1ZM173.1 114.1L174.1 113.1L175.1 114.1L174.1 115.1ZM140.1 109.1L141.1 108.1L142.1 110.1L141.1 111.1ZM141.1 108.1L142.1 107.1L143.1 108.1L142.1 109.1ZM169.1 100.1L170.1 99.1L171.1 100.1L170.1 101.1ZM146.1 99.1L147.1 98.1L148.1 99.1L147.1 100.1ZM147.1 97.1L148.1 96.1L149.1 97.1L148.1 98.1ZM168.1 82.1L161.1 82.1L157.1 87.1L158.1 92.1L161.1 94.1L160.1 95.1L153.1 93.1L149.1 97.1L147.1 90.1L143.1 88.1L139.1 88.1L134.1 93.1L129.1 102.1L129.1 108.1L133.1 112.1L138.1 112.1L140.1 110.1L141.1 111.1L140.1 116.1L144.1 121.1L143.1 122.1L138.1 122.1L135.1 127.1L135.1 130.1L139.1 135.1L148.1 140.1L154.1 140.1L158.1 135.1L158.1 131.1L156.1 129.1L157.1 128.1L163.1 129.1L168.1 124.1L169.1 125.1L168.1 130.1L171.1 133.1L175.1 134.1L178.1 133.1L181.1 130.1L186.1 121.1L187.1 116.1L183.1 111.1L179.1 110.1L175.1 114.1L174.1 113.1L176.1 107.1L171.1 101.1L172.1 100.1L177.1 101.1L180.1 97.1L181.1 92.1L178.1 88.1ZM130.1 82.1L125.1 82.1L120.1 87.1L117.1 93.1L116.1 98.1L121.1 103.1L123.1 103.1L127.1 100.1L133.1 89.1L133.1 85.1ZM116.1 76.1L111.1 76.1L107.1 80.1L104.1 87.1L104.1 90.1L106.1 93.1L111.1 93.1L115.1 89.1L118.1 83.1L118.1 78.1ZM101.1 70.1L97.1 71.1L93.1 76.1L93.1 82.1L95.1 84.1L98.1 83.1L103.1 76.1L103.1 72.1ZM167.1 71.1L166.1 75.1L171.1 81.1L182.1 86.1L187.1 83.1L188.1 78.1L182.1 72.1L173.1 68.1L171.1 68.1ZM86.1 68.1L84.1 68.1L83.1 71.1L85.1 71.1ZM175.1 60.1L175.1 62.1L178.1 66.1L187.1 71.1L191.1 71.1L194.1 68.1L193.1 62.1L184.1 56.1L178.1 56.1ZM185.1 47.1L186.1 51.1L192.1 55.1L196.1 56.1L200.1 53.1L199.1 49.1L192.1 44.1L188.1 44.1ZM198.1 35.1L200.1 38.1L202.1 38.1L201.1 35.1Z" fill="rgb(178,178,178)" fill-rule="evenodd"/>
<path d="M120.1 169.1L119.1 173.1L121.1 175.1L125.1 176.1L127.1 174.1L126.1 171.1L123.1 169.1ZM124.1 154.1L124.1 159.1L128.1 163.1L136.1 164.1L138.1 162.1L137.1 158.1L134.1 155.1L129.1 153.1ZM129.1 142.1L130.1 146.1L139.1 152.1L145.1 152.1L147.1 150.1L148.1 147.1L143.1 141.1L137.1 138.1L132.1 138.1ZM208.1 131.1L205.1 131.1L201.1 135.1L199.1 140.1L201.1 144.1L206.1 143.1L209.1 139.1L210.1 134.1ZM153.1 127.1L154.1 126.1L155.1 127.1L154.1 128.1ZM151.1 126.1L152.1 125.1L153.1 126.1L152.1 127.1ZM149.1 125.1L150.1 124.1L151.1 125.1L150.1 126.1ZM147.1 124.1L148.1 123.1L149.1 124.1L148.1 125.1ZM168.1 123.1L169.1 122.1L170.1 124.1L169.1 125.1ZM145.1 123.1L146.1 122.1L148.1 123.1L147.1 124.1ZM197.1 122.1L192.1 121.1L187.1 126.1L184.1 133.1L185.1 138.1L190.1 139.1L195.1 135.1L198.1 129.1L198.1 123.1ZM169.1 121.1L170.1 120.1L171.1 121.1L170.1 122.1ZM171.1 118.1L172.1 117.1L173.1 118.1L172.1 119.1ZM172.1 116.1L173.1 115.1L174.1 116.1L173.1 117.1ZM173.1 114.1L174.1 113.1L175.1 114.1L174.1 115.1ZM140.1 109.1L141.1 108.1L142.1 110.1L141.1 111.1ZM141.1 108.1L142.1 107.1L143.1 108.1L142.1 109.1ZM142.1 106.1L143.1 105.1L144.1 106.1L143.1 107.1ZM169.1 100.1L170.1 99.1L172.1 100.1L171.1 101.1ZM146.1 99.1L147.1 98.1L148.1 99.1L147.1 100.1ZM164.1 97.1L165.1 96.1L166.1 97.1L165.1 98.1ZM162.1 96.1L163.1 95.1L164.1 96.1L163.1 97.1ZM160.1 95.1L161.1 94.1L162.1 95.1L161.1 96.1ZM167.1 82.1L162.1 82.1L158.1 86.1L157.1 89.1L161.1 94.1L160.1 95.1L152.1 94.1L148.1 98.1L147.1 97.1L148.1 92.1L146.1 90.1L138.1 89.1L134.1 93.1L129.1 103.1L129.1 107.1L131.1 110.1L134.1 112.1L137.1 112.1L140.1 110.1L141.1 111.1L140.1 116.1L146.1 122.1L145.1 123.1L139.1 122.1L136.1 126.1L137.1 133.1L149.1 140.1L154.1 139.1L158.1 134.1L158.1 132.1L154.1 128.1L155.1 127.1L162.1 129.1L168.1 124.1L169.1 125.1L168.1 128.1L169.1 131.1L173.1 133.1L177.1 133.1L182.1 128.1L186.1 120.1L186.1 115.1L182.1 111.1L178.1 111.1L175.1 114.1L174.1 113.1L175.1 105.1L171.1 101.1L172.1 100.1L177.1 100.1L179.1 98.1L180.1 91.1L175.1 86.1ZM128.1 82.1L124.1 83.1L118.1 91.1L117.1 99.1L120.1 102.1L124.1 102.1L128.1 98.1L132.1 91.1L133.1 87.1ZM116.1 77.1L111.1 77.1L107.1 81.1L105.1 85.1L105.1 90.1L108.1 93.1L112.1 92.1L116.1 87.1L118.1 81.1ZM101.1 72.1L97.1 72.1L95.1 74.1L94.1 82.1L98.1 82.1L102.1 77.1ZM167.1 72.1L168.1 78.1L173.1 82.1L180.1 85.1L184.1 85.1L187.1 82.1L187.1 77.1L180.1 71.1L175.1 69.1L170.1 69.1ZM176.1 59.1L176.1 63.1L183.1 69.1L191.1 70.1L193.1 68.1L193.1 63.1L189.1 59.1L181.1 56.1ZM186.1 47.1L187.1 51.1L191.1 54.1L196.1 55.1L199.1 52.1L198.1 49.1L192.1 45.1L188.1 45.1Z" fill="rgb(184,184,184)" fill-rule="evenodd"/>
<path d="M122.1 171.1L121.1 172.1L123.1 174.1L124.1 172.1ZM125.1 155.1L125.1 159.1L128.1 162.1L136.1 163.1L137.1 160.1L133.1 155.1L130.1 154.1ZM130.1 141.1L131.1 146.1L138.1 151.1L143.1 152.1L147.1 148.1L146.1 144.1L138.1 139.1L134.1 138.1ZM207.1 132.1L205.1 132.1L201.1 136.1L200.1 141.1L202.1 143.1L204.1 143.1L208.1 139.1L209.1 134.1ZM152.1 127.1L153.1 126.1L155.1 127.1L154.1 128.1ZM151.1 126.1L152.1 125.1L153.1 126.1L152.1 127.1ZM149.1 125.1L150.1 124.1L151.1 125.1L150.1 126.1ZM147.1 124.1L148.1 123.1L149.1 124.1L148.1 125.1ZM145.1 123.1L146.1 122.1L148.1 123.1L147.1 124.1ZM196.1 122.1L191.1 122.1L185.1 131.1L185.1 136.1L187.1 138.1L191.1 138.1L196.1 133.1L198.1 128.1L198.1 125.1ZM169.1 121.1L170.1 120.1L171.1 122.1L170.1 123.1ZM170.1 120.1L171.1 119.1L172.1 120.1L171.1 121.1ZM171.1 118.1L172.1 117.1L173.1 118.1L172.1 119.1ZM172.1 116.1L173.1 115.1L174.1 116.1L173.1 117.1ZM173.1 114.1L174.1 113.1L175.1 115.1L174.1 116.1ZM141.1 108.1L142.1 107.1L143.1 108.1L142.1 109.1ZM142.1 106.1L143.1 105.1L144.1 106.1L143.1 107.1ZM143.1 104.1L144.1 103.1L145.1 104.1L144.1 105.1ZM145.1 101.1L146.1 100.1L147.1 101.1L146.1 102.1ZM167.1 99.1L168.1 98.1L170.1 99.1L169.1 100.1ZM166.1 98.1L167.1 97.1L168.1 98.1L167.1 99.1ZM164.1 97.1L165.1 96.1L166.1 97.1L165.1 98.1ZM162.1 96.1L163.1 95.1L164.1 96.1L163.1 97.1ZM160.1 95.1L161.1 94.1L163.1 95.1L162.1 96.1ZM129.1 83.1L125.1 83.1L120.1 88.1L117.1 95.1L117.1 98.1L119.1 101.1L123.1 102.1L129.1 96.1L132.1 90.1L132.1 86.1ZM169.1 83.1L164.1 82.1L158.1 87.1L158.1 91.1L161.1 94.1L160.1 95.1L152.1 94.1L147.1 100.1L146.1 99.1L148.1 94.1L147.1 92.1L143.1 89.1L139.1 89.1L136.1 91.1L130.1 101.1L129.1 105.1L130.1 108.1L133.1 111.1L136.1 112.1L141.1 108.1L142.1 109.1L141.1 117.1L146.1 122.1L145.1 123.1L142.1 122.1L138.1 123.1L136.1 127.1L136.1 130.1L140.1 135.1L147.1 139.1L153.1 139.1L156.1 137.1L157.1 131.1L154.1 128.1L155.1 127.1L164.1 128.1L169.1 122.1L170.1 123.1L169.1 130.1L172.1 132.1L178.1 132.1L185.1 122.1L186.1 117.1L182.1 112.1L179.1 111.1L175.1 114.1L174.1 113.1L175.1 106.1L169.1 100.1L170.1 99.1L176.1 100.1L179.1 97.1L180.1 93.1L179.1 90.1L176.1 87.1ZM115.1 78.1L111.1 78.1L107.1 82.1L106.1 90.1L108.1 92.1L112.1 91.1L116.1 86.1L117.1 80.1ZM100.1 73.1L98.1 73.1L95.1 76.1L96.1 81.1L100.1 79.1L101.1 77.1ZM168.1 72.1L167.1 74.1L168.1 77.1L172.1 81.1L182.1 85.1L187.1 80.1L185.1 75.1L177.1 70.1L172.1 69.1ZM177.1 59.1L178.1 65.1L182.1 68.1L187.1 70.1L190.1 70.1L192.1 68.1L193.1 65.1L188.1 59.1L183.1 57.1L180.1 57.1ZM188.1 47.1L188.1 50.1L191.1 53.1L194.1 54.1L197.1 53.1L197.1 50.1L192.1 46.1Z" fill="rgb(189,189,189)" fill-rule="evenodd"/>
<path d="M126.1 156.1L126.1 159.1L128.1 161.1L135.1 162.1L135.1 158.1L131.1 155.1ZM131.1 141.1L131.1 145.1L135.1 149.1L140.1 151.1L145.1 150.1L146.1 146.1L143.1 142.1L137.1 139.1L133.1 139.1ZM207.1 134.1L203.1 135.1L202.1 141.1L205.1 141.1L207.1 139.1ZM150.1 126.1L151.1 125.1L153.1 126.1L152.1 127.1ZM149.1 125.1L150.1 124.1L151.1 125.1L150.1 126.1ZM147.1 124.1L148.1 123.1L150.1 124.1L149.1 125.1ZM195.1 123.1L191.1 123.1L188.1 126.1L185.1 133.1L187.1 137.1L191.1 137.1L195.1 133.1L197.1 129.1L197.1 125.1ZM145.1 123.1L146.1 122.1L148.1 123.1L147.1 124.1ZM169.1 121.1L170.1 120.1L171.1 122.1L170.1 123.1ZM170.1 119.1L171.1 118.1L172.1 120.1L171.1 121.1ZM171.1 118.1L172.1 117.1L173.1 118.1L172.1 119.1ZM172.1 116.1L173.1 115.1L174.1 117.1L173.1 118.1ZM141.1 107.1L142.1 106.1L143.1 108.1L142.1 109.1ZM142.1 106.1L143.1 105.1L144.1 106.1L143.1 107.1ZM143.1 104.1L144.1 103.1L145.1 104.1L144.1 105.1ZM144.1 102.1L145.1 101.1L146.1 102.1L145.1 103.1ZM145.1 100.1L146.1 99.1L147.1 101.1L146.1 102.1ZM167.1 99.1L168.1 98.1L170.1 99.1L169.1 100.1ZM166.1 98.1L167.1 97.1L168.1 98.1L167.1 99.1ZM164.1 97.1L165.1 96.1L166.1 97.1L165.1 98.1ZM162.1 96.1L163.1 95.1L165.1 96.1L164.1 97.1ZM129.1 84.1L123.1 85.1L118.1 93.1L119.1 100.1L124.1 101.1L130.1 94.1L131.1 86.1ZM168.1 83.1L161.1 84.1L158.1 89.1L160.1 93.1L163.1 95.1L162.1 96.1L157.1 94.1L153.1 94.1L147.1 100.1L146.1 99.1L147.1 97.1L146.1 91.1L138.1 90.1L134.1 94.1L130.1 102.1L130.1 107.1L134.1 111.1L138.1 111.1L141.1 108.1L142.1 109.1L141.1 117.1L146.1 122.1L145.1 123.1L139.1 123.1L137.1 126.1L137.1 131.1L142.1 136.1L146.1 138.1L152.1 139.1L156.1 136.1L157.1 132.1L152.1 127.1L153.1 126.1L158.1 128.1L163.1 128.1L169.1 122.1L170.1 123.1L169.1 129.1L171.1 131.1L176.1 132.1L182.1 127.1L185.1 121.1L185.1 116.1L183.1 113.1L178.1 112.1L174.1 116.1L173.1 115.1L175.1 110.1L175.1 106.1L169.1 100.1L170.1 99.1L173.1 100.1L177.1 99.1L179.1 95.1L179.1 91.1L174.1 86.1ZM115.1 79.1L111.1 79.1L108.1 82.1L107.1 89.1L109.1 91.1L114.1 88.1L116.1 84.1ZM99.1 76.1L97.1 76.1L97.1 78.1ZM168.1 73.1L169.1 78.1L174.1 82.1L179.1 84.1L185.1 83.1L186.1 78.1L182.1 73.1L176.1 70.1L171.1 70.1ZM178.1 59.1L178.1 64.1L183.1 68.1L190.1 69.1L192.1 67.1L191.1 63.1L187.1 59.1L184.1 58.1ZM189.1 49.1L190.1 51.1L195.1 52.1L195.1 50.1L193.1 48.1Z" fill="rgb(194,194,194)" fill-rule="evenodd"/>
<path d="M128.1 157.1L129.1 160.1L131.1 161.1L133.1 160.1L132.1 157.1ZM132.1 142.1L132.1 145.1L136.1 149.1L143.1 150.1L145.1 148.1L144.1 144.1L138.1 140.1L134.1 140.1ZM205.1 137.1L204.1 137.1L204.1 139.1ZM195.1 124.1L191.1 124.1L188.1 127.1L186.1 131.1L187.1 136.1L191.1 136.1L196.1 130.1L196.1 125.1ZM139.1 124.1L138.1 132.1L141.1 135.1L147.1 138.1L152.1 138.1L155.1 136.1L156.1 131.1L152.1 127.1L144.1 123.1ZM170.1 119.1L171.1 118.1L172.1 120.1L171.1 121.1ZM142.1 106.1L143.1 105.1L144.1 106.1L143.1 107.1ZM143.1 104.1L144.1 103.1L145.1 104.1L144.1 105.1ZM144.1 102.1L145.1 101.1L146.1 103.1L145.1 104.1ZM145.1 100.1L146.1 99.1L147.1 101.1L146.1 102.1ZM164.1 97.1L166.1 96.1L168.1 98.1L166.1 99.1ZM162.1 96.1L163.1 95.1L165.1 96.1L164.1 97.1ZM127.1 84.1L124.1 85.1L119.1 92.1L119.1 98.1L121.1 100.1L124.1 100.1L130.1 93.1L131.1 87.1ZM133.1 96.1L130.1 104.1L131.1 107.1L134.1 110.1L138.1 110.1L142.1 106.1L143.1 109.1L141.1 112.1L141.1 116.1L148.1 123.1L158.1 128.1L163.1 128.1L170.1 120.1L171.1 121.1L170.1 129.1L173.1 131.1L179.1 130.1L183.1 125.1L185.1 118.1L182.1 113.1L177.1 113.1L172.1 119.1L171.1 118.1L175.1 107.1L167.1 99.1L168.1 98.1L176.1 99.1L178.1 96.1L178.1 91.1L173.1 86.1L166.1 83.1L162.1 84.1L159.1 88.1L159.1 91.1L163.1 95.1L160.1 96.1L157.1 94.1L153.1 94.1L147.1 100.1L146.1 99.1L147.1 94.1L145.1 91.1L142.1 90.1L138.1 91.1ZM114.1 80.1L109.1 82.1L108.1 84.1L109.1 89.1L113.1 88.1L115.1 84.1ZM169.1 73.1L169.1 77.1L175.1 82.1L183.1 83.1L185.1 81.1L185.1 77.1L181.1 73.1L177.1 71.1L171.1 71.1ZM179.1 60.1L179.1 64.1L185.1 68.1L189.1 68.1L191.1 66.1L190.1 63.1L185.1 59.1L180.1 59.1Z" fill="rgb(199,199,199)" fill-rule="evenodd"/>
<path d="M133.1 142.1L134.1 146.1L138.1 149.1L142.1 149.1L144.1 147.1L143.1 144.1L139.1 141.1L134.1 141.1ZM194.1 125.1L191.1 125.1L188.1 128.1L187.1 131.1L188.1 135.1L191.1 135.1L195.1 130.1ZM139.1 125.1L138.1 130.1L142.1 135.1L150.1 138.1L155.1 135.1L155.1 130.1L146.1 124.1L140.1 124.1ZM182.1 114.1L178.1 113.1L173.1 118.1L170.1 124.1L170.1 128.1L172.1 130.1L179.1 129.1L183.1 124.1L184.1 117.1ZM144.1 102.1L145.1 101.1L146.1 103.1L145.1 104.1ZM137.1 92.1L132.1 99.1L131.1 106.1L135.1 110.1L138.1 110.1L144.1 103.1L145.1 105.1L141.1 113.1L142.1 118.1L148.1 123.1L159.1 128.1L164.1 127.1L168.1 123.1L174.1 112.1L174.1 105.1L167.1 99.1L156.1 94.1L152.1 95.1L146.1 102.1L145.1 101.1L146.1 93.1L143.1 91.1ZM129.1 86.1L127.1 85.1L124.1 86.1L120.1 91.1L119.1 96.1L121.1 99.1L126.1 98.1L129.1 94.1L130.1 91.1ZM161.1 86.1L160.1 92.1L162.1 94.1L172.1 99.1L177.1 97.1L178.1 93.1L177.1 90.1L174.1 87.1L168.1 84.1L164.1 84.1ZM113.1 82.1L110.1 83.1L109.1 85.1L110.1 87.1L113.1 86.1ZM170.1 73.1L170.1 77.1L174.1 81.1L179.1 83.1L182.1 83.1L184.1 81.1L184.1 77.1L180.1 73.1L175.1 71.1ZM180.1 61.1L180.1 63.1L185.1 67.1L189.1 66.1L189.1 63.1L185.1 60.1Z" fill="rgb(204,204,204)" fill-rule="evenodd"/>
<path d="M135.1 143.1L135.1 145.1L139.1 148.1L142.1 147.1L142.1 145.1L138.1 142.1ZM193.1 127.1L191.1 127.1L189.1 129.1L189.1 133.1L191.1 133.1L194.1 129.1ZM140.1 125.1L139.1 130.1L143.1 135.1L151.1 137.1L155.1 133.1L154.1 130.1L151.1 127.1L145.1 124.1ZM180.1 114.1L177.1 114.1L171.1 122.1L171.1 128.1L172.1 129.1L178.1 129.1L181.1 126.1L183.1 122.1L183.1 117.1ZM153.1 95.1L146.1 102.1L142.1 110.1L142.1 117.1L147.1 122.1L156.1 127.1L163.1 127.1L167.1 124.1L171.1 118.1L174.1 111.1L174.1 106.1L167.1 99.1L159.1 95.1ZM144.1 92.1L138.1 92.1L134.1 96.1L132.1 100.1L132.1 106.1L135.1 109.1L140.1 108.1L146.1 98.1L146.1 94.1ZM128.1 87.1L124.1 87.1L122.1 89.1L120.1 96.1L122.1 98.1L127.1 96.1L129.1 92.1ZM160.1 90.1L161.1 92.1L167.1 97.1L170.1 98.1L175.1 98.1L176.1 97.1L177.1 92.1L173.1 87.1L169.1 85.1L164.1 85.1ZM171.1 73.1L171.1 77.1L174.1 80.1L178.1 82.1L183.1 81.1L183.1 77.1L179.1 73.1L176.1 72.1ZM182.1 62.1L184.1 65.1L187.1 65.1L186.1 62.1Z" fill="rgb(209,209,209)" fill-rule="evenodd"/>
<path d="M140.1 127.1L141.1 132.1L147.1 136.1L150.1 136.1L154.1 133.1L153.1 129.1L147.1 125.1L142.1 125.1ZM180.1 115.1L177.1 115.1L173.1 119.1L171.1 126.1L173.1 128.1L178.1 128.1L181.1 125.1L182.1 117.1ZM153.1 95.1L149.1 98.1L145.1 104.1L142.1 111.1L142.1 117.1L147.1 122.1L154.1 126.1L163.1 127.1L166.1 125.1L171.1 118.1L174.1 111.1L174.1 107.1L172.1 103.1L165.1 98.1L158.1 95.1ZM140.1 92.1L134.1 97.1L132.1 104.1L135.1 108.1L139.1 108.1L145.1 100.1L145.1 94.1ZM127.1 88.1L125.1 88.1L122.1 91.1L122.1 96.1L123.1 97.1L128.1 92.1ZM164.1 86.1L161.1 89.1L162.1 93.1L168.1 97.1L173.1 98.1L176.1 94.1L175.1 90.1L170.1 86.1ZM172.1 74.1L172.1 77.1L175.1 80.1L178.1 81.1L182.1 80.1L182.1 77.1L179.1 74.1L176.1 73.1Z" fill="rgb(214,214,214)" fill-rule="evenodd"/>
<path d="M142.1 126.1L141.1 129.1L143.1 133.1L149.1 135.1L153.1 132.1L152.1 129.1L148.1 126.1L145.1 125.1ZM179.1 116.1L174.1 118.1L172.1 122.1L173.1 127.1L177.1 127.1L181.1 123.1L181.1 118.1ZM154.1 95.1L147.1 101.1L142.1 111.1L142.1 116.1L149.1 123.1L158.1 127.1L162.1 127.1L169.1 121.1L173.1 113.1L174.1 108.1L173.1 105.1L168.1 100.1L160.1 96.1ZM141.1 93.1L138.1 94.1L134.1 98.1L133.1 101.1L134.1 106.1L137.1 108.1L141.1 106.1L145.1 98.1L145.1 96.1ZM126.1 90.1L123.1 92.1L123.1 94.1L126.1 93.1ZM163.1 88.1L162.1 91.1L165.1 95.1L169.1 97.1L174.1 96.1L175.1 92.1L172.1 88.1L170.1 87.1ZM174.1 75.1L174.1 77.1L176.1 79.1L180.1 79.1L180.1 77.1L178.1 75.1Z" fill="rgb(219,219,219)" fill-rule="evenodd"/>
<path d="M143.1 127.1L143.1 130.1L145.1 133.1L150.1 133.1L151.1 132.1L150.1 128.1L145.1 126.1ZM179.1 118.1L177.1 117.1L175.1 118.1L173.1 121.1L173.1 125.1L178.1 125.1L180.1 122.1ZM152.1 96.1L146.1 103.1L143.1 109.1L142.1 115.1L144.1 119.1L149.1 123.1L159.1 127.1L164.1 126.1L168.1 122.1L172.1 115.1L173.1 106.1L169.1 101.1L160.1 96.1ZM143.1 95.1L138.1 95.1L135.1 98.1L134.1 104.1L138.1 107.1L142.1 104.1L144.1 100.1ZM164.1 89.1L163.1 91.1L166.1 95.1L168.1 96.1L173.1 95.1L173.1 91.1L170.1 88.1Z" fill="rgb(224,224,224)" fill-rule="evenodd"/>
<path d="M146.1 128.1L145.1 129.1L148.1 131.1L149.1 130.1ZM177.1 120.1L175.1 120.1L175.1 123.1L177.1 122.1ZM153.1 96.1L148.1 100.1L144.1 107.1L143.1 117.1L153.1 125.1L163.1 126.1L167.1 123.1L171.1 117.1L173.1 112.1L173.1 107.1L171.1 103.1L164.1 98.1L159.1 96.1ZM142.1 96.1L139.1 96.1L136.1 99.1L135.1 102.1L137.1 105.1L140.1 105.1L143.1 101.1ZM166.1 90.1L165.1 92.1L168.1 95.1L170.1 95.1L171.1 94.1L170.1 90.1Z" fill="rgb(230,230,230)" fill-rule="evenodd"/>
<path d="M141.1 98.1L139.1 98.1L137.1 100.1L138.1 103.1L140.1 103.1L142.1 101.1ZM154.1 96.1L145.1 105.1L143.1 110.1L143.1 116.1L150.1 123.1L157.1 126.1L162.1 126.1L169.1 120.1L172.1 114.1L173.1 108.1L172.1 105.1L167.1 100.1L158.1 96.1Z" fill="rgb(235,235,235)" fill-rule="evenodd"/>
<path d="M155.1 96.1L152.1 97.1L146.1 104.1L143.1 111.1L143.1 115.1L146.1 120.1L154.1 125.1L161.1 126.1L165.1 124.1L170.1 118.1L172.1 113.1L172.1 106.1L165.1 99.1Z" fill="rgb(240,240,240)" fill-rule="evenodd"/>
<path d="M153.1 97.1L148.1 101.1L145.1 106.1L144.1 116.1L149.1 122.1L155.1 125.1L163.1 125.1L169.1 119.1L172.1 113.1L172.1 107.1L170.1 103.1L160.1 97.1Z" fill="rgb(245,245,245)" fill-rule="evenodd"/>
<path d="M154.1 97.1L147.1 103.1L144.1 109.1L144.1 116.1L151.1 123.1L156.1 125.1L162.1 125.1L170.1 117.1L172.1 112.1L171.1 105.1L166.1 100.1L159.1 97.1Z" fill="rgb(250,250,250)" fill-rule="evenodd"/>
<path d="M155.1 97.1L151.1 99.1L146.1 105.1L144.1 110.1L144.1 115.1L150.1 122.1L157.1 125.1L161.1 125.1L165.1 123.1L171.1 114.1L171.1 106.1L165.1 100.1L158.1 97.1Z" fill="rgb(255,255,255)" fill-rule="evenodd"/>
</g>
<path d="M156.6 25.6L157.7 111" stroke="#00008c" stroke-width="4.0"/>
<circle cx="157.7" cy="111.4" r="6.7" fill="#00008c"/>
<path d="M150.7 190.7L163.3 190L167 194.4L170.8 198.8L171.4 207L167 211.4L162.7 216.4L156.4 217L150.7 214.5L147 210.1L146.3 198.8L148.9 193.8Z" fill="#00008c"/>
<path d="M34.4 41.1L292 187.2" stroke="#000" stroke-width="2.3" stroke-dasharray="10 8.7"/>
</g>
<circle cx="193.3" cy="131.7" r="21.8" fill="none" stroke="#000" stroke-width="1.3"/>
<path d="M178.43 147.64L179.4 182.8M215.02 133.6L289.5 182.8" stroke="#000" stroke-width="1.2" fill="none"/>
<clipPath id="clipI"><rect x="179.4" y="182.8" width="112.8" height="105.4"/></clipPath>
<filter id="jetI" filterUnits="userSpaceOnUse" x="179.4" y="182.8" width="112.8" height="105.4" color-interpolation-filters="sRGB">
<feComponentTransfer><feFuncR type="table" tableValues="0 0 0 0 0.5 1 1 1 0.5"/><feFuncG type="table" tableValues="0 0 0.5 1 1 1 0.5 0 0"/><feFuncB type="table" tableValues="0.5 1 1 1 0.5 0 0 0 0"/></feComponentTransfer>
<feConvolveMatrix order="3" kernelMatrix="1 2 1 2 8 2 1 2 1" divisor="20" edgeMode="duplicate" preserveAlpha="true"/>
</filter>
<g clip-path="url(#clipI)"><g filter="url(#jetI)">
<rect x="179.4" y="182.8" width="112.8" height="105.4" fill="rgb(102,102,102)"/>
<path d="M179.65 183.05L179.65 288.05L292.15 288.05L292.15 183.05Z" fill="rgb(106,106,106)" fill-rule="evenodd"/>
<path d="M179.65 183.05L179.65 288.05L292.15 288.05L292.15 183.05Z" fill="rgb(110,110,110)" fill-rule="evenodd"/>
<path d="M179.65 183.05L179.65 269.05L185.65 267.55L191.15 265.05L192.15 264.05L196.65 261.55L201.65 257.55L202.15 258.05L202.65 264.05L205.15 270.55L207.15 273.55L209.15 275.55L213.15 278.05L216.15 278.55L216.65 279.05L224.15 279.05L224.65 278.55L226.15 278.55L226.65 278.05L228.15 278.05L229.65 277.05L230.65 277.05L235.65 274.55L239.65 271.55L240.15 272.55L239.65 273.05L239.65 275.55L239.15 276.05L239.15 281.55L238.65 282.05L239.15 288.05L292.15 288.05L292.15 216.05L289.15 215.55L288.65 216.05L285.15 216.05L284.65 216.55L283.15 216.55L282.65 217.05L280.15 217.55L274.65 220.55L271.65 219.05L270.65 218.05L270.65 217.05L271.15 216.55L271.15 207.55L270.65 207.05L270.65 204.55L270.15 204.05L270.15 202.05L269.65 201.55L269.15 199.05L266.65 194.55L262.65 190.55L260.15 189.05L259.15 189.05L257.15 188.05L252.15 187.55L251.65 188.05L248.15 188.05L247.65 188.55L246.15 188.55L245.65 189.05L243.15 189.55L235.65 193.55L235.15 193.05L235.15 191.05L235.65 190.55L235.15 183.05Z" fill="rgb(113,113,113)" fill-rule="evenodd"/>
<path d="M243.65 265.05L244.15 264.55L244.65 265.05L244.15 265.55ZM185.65 183.05L179.65 190.05L179.65 264.55L183.15 264.05L183.65 263.55L187.65 262.55L192.65 260.05L199.15 255.55L204.65 250.55L205.15 251.05L205.15 258.55L205.65 259.05L205.65 261.05L206.15 261.55L206.65 264.55L209.15 269.05L212.65 272.55L215.15 274.05L218.15 274.55L218.65 275.05L224.65 275.05L225.15 274.55L227.15 274.55L227.65 274.05L230.15 273.55L231.65 272.55L232.65 272.55L234.65 271.05L237.15 270.05L238.65 268.55L240.65 267.55L243.15 265.05L243.65 265.05L244.15 265.55L244.15 267.05L243.65 267.55L243.15 271.55L242.65 272.05L242.65 274.55L242.15 275.05L242.15 286.55L242.65 287.05L242.65 288.05L285.65 288.05L292.15 279.55L292.15 220.05L284.65 220.05L284.15 220.55L282.65 220.55L282.15 221.05L279.65 221.55L278.15 222.55L277.15 222.55L270.65 226.55L266.15 230.55L265.65 230.05L265.65 228.55L266.15 228.05L266.15 226.55L267.15 224.05L267.65 217.05L268.15 216.55L267.65 207.05L267.15 206.55L267.15 205.05L266.65 204.55L266.15 202.05L263.65 197.55L259.65 194.05L255.15 192.05L247.65 192.05L247.15 192.55L245.65 192.55L245.15 193.05L242.65 193.55L241.15 194.55L240.15 194.55L231.65 200.05L231.15 199.55L231.15 198.55L231.65 198.05L231.65 184.55L231.15 184.05L231.15 183.05Z" fill="rgb(117,117,117)" fill-rule="evenodd"/>
<path d="M251.15 252.55L251.65 252.05L252.15 253.05L251.65 253.55ZM251.65 252.05L252.15 251.55L252.65 252.05L252.15 252.55ZM252.15 251.05L252.65 250.55L253.15 251.05L252.65 251.55ZM252.65 250.55L253.15 250.05L253.65 250.55L253.15 251.05ZM256.65 244.05L257.15 243.55L257.65 244.05L257.15 244.55ZM257.15 243.05L257.65 242.55L258.15 243.05L257.65 243.55ZM208.15 242.55L208.65 242.05L209.15 242.55L208.65 243.05ZM226.15 208.05L226.65 207.55L227.15 208.05L226.65 208.55ZM190.15 183.05L183.65 189.55L183.65 190.05L179.65 194.55L179.65 259.55L183.15 259.55L183.65 259.05L185.15 259.05L193.15 255.55L199.65 251.05L208.15 242.55L208.65 243.05L208.65 246.05L208.15 246.55L208.15 255.55L208.65 256.05L209.15 260.05L211.15 264.55L214.65 268.55L217.15 270.05L220.15 270.55L220.65 271.05L225.65 271.05L226.15 270.55L228.15 270.55L228.65 270.05L231.15 269.55L239.15 265.05L241.15 263.05L241.65 263.05L251.15 253.05L251.65 254.05L249.15 259.05L249.15 260.05L246.65 266.55L246.15 270.55L245.65 271.05L245.65 274.05L245.15 274.55L245.15 283.55L245.65 284.05L246.15 288.05L281.65 288.05L286.15 283.55L292.15 275.05L292.15 225.05L289.65 224.05L283.65 224.05L283.15 224.55L281.65 224.55L281.15 225.05L278.65 225.55L274.65 227.55L267.65 232.55L261.65 238.55L261.65 239.05L258.15 243.05L257.65 242.05L261.15 235.05L261.15 234.05L263.15 229.05L263.15 227.55L264.15 225.05L264.15 222.55L264.65 222.05L264.65 210.05L264.15 209.55L264.15 208.05L263.65 207.55L263.15 205.05L261.65 202.05L259.65 200.05L259.65 199.55L257.65 198.05L252.65 196.05L246.65 196.05L246.15 196.55L244.65 196.55L244.15 197.05L241.65 197.55L235.15 201.05L231.15 204.55L230.65 204.55L227.15 208.05L226.65 207.55L226.65 206.05L227.15 205.55L227.65 200.55L228.15 200.05L228.15 188.05L227.65 187.55L227.65 185.55L226.65 183.05Z" fill="rgb(121,121,121)" fill-rule="evenodd"/>
<path d="M210.65 237.55L211.15 237.05L211.65 237.55L211.15 238.05ZM292.15 227.05L291.15 227.05L289.15 226.05L283.15 226.05L282.65 226.55L281.15 226.55L280.65 227.05L278.15 227.55L274.15 229.55L269.15 233.05L261.15 241.05L258.15 245.05L255.65 249.55L254.65 250.55L251.15 257.55L251.15 258.55L250.15 260.05L250.15 261.05L248.15 266.05L248.15 267.55L247.65 268.05L247.15 273.55L246.65 274.05L246.65 282.05L247.15 282.55L247.15 285.05L247.65 285.55L248.15 288.05L279.65 288.05L282.65 285.55L282.65 285.05L286.15 281.55L289.15 277.55L292.15 272.55ZM192.15 183.05L186.15 188.55L186.15 189.05L181.15 194.55L179.65 197.05L179.65 257.55L183.65 257.55L184.15 257.05L185.65 257.05L193.65 253.55L201.15 248.05L206.65 242.55L206.65 242.05L210.65 237.55L211.15 238.05L211.15 239.55L210.65 240.05L210.15 244.55L209.65 245.05L209.65 255.05L210.15 255.55L210.15 257.55L212.15 262.55L216.15 267.05L220.65 269.05L226.65 269.05L227.15 268.55L230.65 268.05L236.65 265.05L242.65 260.55L249.65 253.05L255.65 244.05L260.15 234.55L260.15 233.55L261.65 230.05L262.15 226.55L262.65 226.05L263.15 219.05L263.65 218.55L263.65 214.55L263.15 214.05L263.15 211.05L262.65 210.55L262.15 207.05L259.65 202.55L256.15 199.55L252.65 198.05L245.65 198.05L245.15 198.55L242.15 199.05L234.65 203.05L229.65 207.55L229.15 207.55L224.15 213.05L223.65 212.05L224.65 210.05L224.65 208.55L225.15 208.05L225.15 206.55L226.15 204.05L226.15 201.05L226.65 200.55L226.65 189.05L226.15 188.55L226.15 186.55L224.65 183.05Z" fill="rgb(125,125,125)" fill-rule="evenodd"/>
<path d="M211.65 235.55L212.15 235.05L212.65 235.55L212.15 236.05ZM291.65 228.05L289.15 227.55L288.65 227.05L282.65 227.05L282.15 227.55L279.15 228.05L273.15 231.05L269.65 233.55L266.65 236.55L266.15 236.55L258.15 246.05L253.15 254.55L253.15 255.55L251.15 259.05L251.15 260.05L248.65 266.55L248.65 268.55L248.15 269.05L248.15 271.05L247.65 271.55L247.15 279.05L247.65 279.55L247.65 283.55L248.15 284.05L248.15 285.55L249.15 288.05L278.65 288.05L283.65 283.55L283.65 283.05L287.65 278.55L292.15 271.55L292.15 228.55ZM222.15 215.55L222.65 215.05L223.15 215.55L222.65 216.05ZM192.65 183.05L187.65 187.55L187.65 188.05L183.65 192.05L179.65 197.55L179.65 257.05L183.15 257.05L183.65 256.55L185.65 256.55L186.15 256.05L188.65 255.55L196.65 251.05L201.15 247.05L201.65 247.05L206.15 242.55L206.15 242.05L209.15 239.05L211.65 235.55L212.15 236.05L212.15 237.55L211.65 238.05L211.65 239.55L210.65 242.05L210.65 245.05L210.15 245.55L210.15 254.05L210.65 254.55L210.65 256.55L211.15 257.05L211.65 260.05L213.65 263.55L217.65 267.05L220.15 268.05L222.15 268.05L222.65 268.55L228.15 268.05L228.65 267.55L230.15 267.55L231.65 266.55L232.65 266.55L240.65 261.55L248.65 253.55L253.65 246.55L258.15 238.05L258.15 237.05L260.65 231.55L260.65 230.05L261.15 229.55L261.65 226.05L262.15 225.55L262.15 223.55L262.65 223.05L262.65 211.55L262.15 211.05L262.15 209.55L261.65 209.05L261.15 206.55L258.65 202.55L256.15 200.55L251.15 198.55L246.65 198.55L246.15 199.05L244.65 199.05L244.15 199.55L242.65 199.55L241.15 200.55L240.15 200.55L235.65 203.05L231.65 206.05L223.15 215.05L222.65 214.05L224.15 210.55L224.15 209.05L225.15 206.55L225.15 204.55L225.65 204.05L225.65 201.55L226.15 201.05L226.15 189.05L225.65 188.55L225.15 185.05L224.15 183.05Z" fill="rgb(129,129,129)" fill-rule="evenodd"/>
<path d="M213.15 232.55L213.65 232.05L214.15 232.55L213.65 233.05ZM213.65 231.55L214.15 231.05L214.65 231.55L214.15 232.05ZM292.15 229.55L288.65 228.05L282.15 228.05L281.65 228.55L278.65 229.05L273.65 231.55L267.65 236.05L263.65 240.05L263.65 240.55L259.65 245.05L256.65 249.55L256.15 251.05L255.15 252.05L252.65 257.05L252.65 258.05L250.15 263.55L250.15 265.05L249.65 265.55L249.65 267.05L248.65 269.55L248.65 272.05L248.15 272.55L248.15 281.55L248.65 282.05L248.65 284.05L250.15 288.05L277.65 288.05L278.65 287.55L284.15 282.05L284.15 281.55L287.65 277.55L292.15 270.05ZM220.65 218.05L221.15 217.55L221.65 218.05L221.15 218.55ZM221.15 217.05L221.65 216.55L222.15 217.55L221.65 218.05ZM193.65 183.05L192.65 183.55L184.15 192.05L179.65 198.05L179.65 256.55L182.65 256.55L183.15 256.05L187.15 255.55L192.65 253.05L193.65 252.05L196.65 250.55L205.15 243.05L205.15 242.55L208.65 239.05L213.15 232.55L213.65 233.05L213.65 234.05L212.65 236.05L212.65 237.55L211.65 240.05L211.65 242.05L211.15 242.55L211.15 245.05L210.65 245.55L210.65 253.05L211.15 253.55L211.65 258.05L213.65 262.05L216.15 265.05L219.65 267.05L221.15 267.05L221.65 267.55L227.15 267.55L227.65 267.05L229.15 267.05L229.65 266.55L232.15 266.05L236.15 264.05L241.65 260.05L249.65 251.55L254.65 244.05L259.65 233.05L260.15 230.05L261.15 228.05L261.65 223.55L262.15 223.05L262.15 212.55L261.65 212.05L261.15 208.55L259.15 204.55L255.65 201.05L252.15 199.55L245.15 199.55L244.65 200.05L243.15 200.05L241.65 201.05L240.65 201.05L233.15 205.55L226.15 212.05L226.15 212.55L222.15 217.05L221.65 216.55L221.65 215.55L223.15 212.55L223.15 211.05L224.65 207.05L225.15 202.05L225.65 201.55L225.65 196.55L226.15 196.05L226.15 194.05L225.65 193.55L225.65 189.55L225.15 189.05L225.15 187.05L223.65 183.05Z" fill="rgb(133,133,133)" fill-rule="evenodd"/>
<path d="M291.15 230.05L290.15 230.05L288.65 229.05L281.65 229.05L275.15 231.55L268.65 236.05L263.15 241.55L263.15 242.05L259.65 246.05L256.65 250.55L252.65 258.55L252.65 259.55L251.65 261.05L251.65 262.05L250.65 264.05L250.15 267.55L249.65 268.05L249.15 274.05L248.65 274.55L248.65 279.05L249.15 279.55L249.65 284.55L251.15 288.05L276.65 288.05L277.65 287.55L286.65 278.05L292.15 269.05L292.15 231.05ZM215.15 228.55L215.65 228.05L216.15 229.05L215.65 229.55ZM215.65 227.55L216.15 227.05L216.65 228.05L216.15 228.55ZM216.15 227.05L216.65 226.55L217.15 227.05L216.65 227.55ZM216.65 226.05L217.15 225.55L217.65 226.05L217.15 226.55ZM217.15 225.05L217.65 224.55L218.15 225.05L217.65 225.55ZM217.65 224.05L218.15 223.55L218.65 224.05L218.15 224.55ZM218.15 223.05L218.65 222.55L219.15 223.05L218.65 223.55ZM218.65 222.05L219.15 221.55L219.65 222.05L219.15 222.55ZM219.15 221.05L219.65 220.55L220.15 221.55L219.65 222.05ZM194.15 183.05L184.65 192.05L184.65 192.55L182.15 195.05L181.15 197.05L179.65 198.55L179.65 255.55L180.15 256.05L185.15 255.55L185.65 255.05L189.65 254.05L197.15 249.55L208.15 239.05L215.15 229.05L215.65 230.05L213.15 236.05L213.15 237.55L212.15 240.05L212.15 242.05L211.65 242.55L211.65 245.55L211.15 246.05L211.15 252.55L211.65 253.05L211.65 255.55L212.15 256.05L212.65 258.55L214.15 261.55L217.65 265.05L220.65 266.55L226.15 267.05L226.65 266.55L228.65 266.55L229.15 266.05L231.65 265.55L236.65 263.05L240.15 260.55L242.65 258.05L243.15 258.05L248.65 252.05L254.65 243.05L259.15 233.05L259.65 230.05L260.65 228.05L260.65 226.05L261.15 225.55L261.15 223.05L261.65 222.55L261.65 213.05L261.15 212.55L260.65 209.05L258.15 204.55L255.65 202.05L252.65 200.55L251.15 200.55L250.65 200.05L246.15 200.05L245.65 200.55L242.15 201.05L236.15 204.05L232.65 206.55L224.65 214.55L220.15 221.05L219.65 220.55L219.65 219.55L221.65 215.55L221.65 214.55L223.15 211.05L223.15 209.55L224.15 207.55L224.15 205.55L224.65 205.05L224.65 203.05L225.15 202.55L225.15 198.05L225.65 197.55L225.15 189.55L224.65 189.05L224.65 187.55L223.15 183.55L222.65 183.05Z" fill="rgb(136,136,136)" fill-rule="evenodd"/>
<path d="M292.15 232.05L289.65 230.55L288.65 230.55L288.15 230.05L285.65 230.05L285.15 229.55L284.15 230.05L281.15 230.05L280.65 230.55L278.15 231.05L273.15 233.55L269.65 236.05L260.65 245.55L257.65 250.05L257.15 251.55L256.15 252.55L254.15 256.55L254.15 257.55L252.65 260.05L252.65 261.05L251.15 264.55L250.65 268.05L250.15 268.55L250.15 271.05L249.65 271.55L249.65 281.05L250.15 281.55L250.65 285.05L252.15 288.05L275.65 288.05L277.15 287.05L286.65 277.05L289.65 272.55L292.15 267.55ZM254.15 202.05L253.15 202.05L251.65 201.05L244.65 201.05L238.15 203.55L231.65 208.05L226.15 213.55L219.65 222.55L214.65 233.05L214.65 234.05L213.65 236.05L213.65 237.55L213.15 238.05L213.15 239.55L212.65 240.05L212.15 246.05L211.65 246.55L211.65 251.05L212.15 251.55L212.15 254.55L212.65 255.05L213.15 258.05L214.65 261.05L219.15 265.05L221.65 265.55L222.15 266.05L227.65 266.05L228.15 265.55L229.65 265.55L230.15 265.05L232.65 264.55L235.65 263.05L240.65 259.55L247.65 252.55L254.15 243.05L258.65 233.05L259.15 230.05L260.15 228.05L260.65 223.05L261.15 222.55L261.15 214.05L260.65 213.55L260.65 211.55L260.15 211.05L259.65 208.55L257.65 205.05ZM222.15 183.05L194.65 183.05L184.65 192.55L179.65 199.55L179.65 255.05L184.65 255.05L185.15 254.55L188.15 254.05L189.65 253.05L191.65 252.55L199.15 247.55L207.65 239.05L207.65 238.55L211.15 234.55L214.15 230.05L214.65 228.55L215.65 227.55L221.65 214.55L221.65 213.55L222.65 211.55L222.65 210.05L223.15 209.55L223.15 208.05L223.65 207.55L223.65 206.05L224.15 205.55L224.15 203.55L224.65 203.05L225.15 193.55L224.65 193.05L224.65 189.55L224.15 189.05L224.15 187.55Z" fill="rgb(140,140,140)" fill-rule="evenodd"/>
<path d="M291.15 232.55L288.15 231.05L286.15 231.05L285.65 230.55L283.15 230.55L282.65 231.05L280.65 231.05L280.15 231.55L277.65 232.05L273.65 234.05L270.15 236.55L267.65 239.05L267.15 239.05L260.65 246.55L257.65 251.05L253.65 259.05L253.65 260.05L251.65 265.05L251.15 268.55L250.65 269.05L250.65 272.05L250.15 272.55L250.15 279.05L250.65 279.55L250.65 282.05L251.15 282.55L251.65 285.05L253.65 288.05L274.65 288.05L278.65 285.05L282.65 281.05L282.65 280.55L286.65 276.05L292.15 266.55L292.15 233.55ZM254.15 203.05L250.15 201.55L245.65 201.55L245.15 202.05L243.65 202.05L243.15 202.55L240.65 203.05L236.65 205.05L230.65 209.55L227.65 212.55L220.15 222.55L216.15 230.55L216.15 231.55L215.15 233.05L215.15 234.05L214.15 236.05L214.15 237.55L213.15 240.05L213.15 242.05L212.65 242.55L212.65 246.55L212.15 247.05L212.65 254.05L213.15 254.55L213.65 257.55L215.65 261.05L218.15 263.55L221.15 265.05L226.65 265.55L227.15 265.05L229.15 265.05L229.65 264.55L232.15 264.05L236.15 262.05L241.65 258.05L246.15 253.55L246.15 253.05L250.15 248.55L252.65 244.05L253.65 243.05L257.65 234.55L257.65 233.55L258.65 231.55L258.65 230.05L259.65 228.05L260.15 223.05L260.65 222.55L260.65 214.55L260.15 214.05L260.15 212.05L258.15 207.05L256.65 205.05ZM221.15 183.05L195.65 183.05L192.15 185.55L185.15 192.55L185.15 193.05L180.15 199.05L179.65 200.05L179.65 254.55L184.15 254.55L184.65 254.05L186.15 254.05L186.65 253.55L189.15 253.05L197.15 248.55L207.15 239.05L214.65 228.55L216.15 225.05L218.15 222.05L218.15 221.05L220.65 216.05L220.65 215.05L222.65 210.05L222.65 208.55L223.65 206.05L223.65 204.05L224.15 203.55L224.65 193.05L224.15 192.55L224.15 190.05L223.65 189.55L223.65 188.05L223.15 187.55L222.65 185.05Z" fill="rgb(144,144,144)" fill-rule="evenodd"/>
<path d="M290.15 233.05L286.15 231.55L282.15 231.55L281.65 232.05L280.15 232.05L279.65 232.55L277.15 233.05L274.15 234.55L268.65 238.55L264.15 243.05L258.65 250.55L255.15 257.05L255.15 258.05L253.15 262.05L252.15 267.05L251.65 267.55L251.65 269.55L251.15 270.05L251.15 274.55L250.65 275.05L250.65 276.05L251.15 276.55L251.15 280.55L251.65 281.05L252.15 284.05L254.65 288.05L273.15 288.05L277.65 285.05L283.65 279.05L287.65 273.55L292.15 265.05L292.15 235.05ZM254.15 204.05L251.15 202.55L244.15 202.55L238.65 204.55L232.65 208.55L225.65 215.55L220.15 223.55L215.65 233.05L215.65 234.05L214.65 236.05L214.65 237.55L214.15 238.05L214.15 239.55L213.65 240.05L213.65 242.05L213.15 242.55L213.15 253.55L213.65 254.05L213.65 255.55L216.15 260.55L219.65 263.55L220.65 263.55L222.65 264.55L228.65 264.55L229.15 264.05L233.15 263.05L235.15 261.55L236.65 261.05L239.65 259.05L244.15 255.05L244.15 254.55L247.65 251.05L253.15 243.05L257.15 234.55L257.15 233.55L258.65 230.05L258.65 228.55L259.15 228.05L259.65 222.55L260.15 222.05L260.15 215.55L259.65 215.05L259.65 212.55L258.15 208.55ZM220.65 183.05L196.15 183.05L192.15 186.55L191.65 186.55L185.65 192.55L179.65 200.55L179.65 254.05L183.65 254.05L184.15 253.55L186.15 253.55L186.65 253.05L189.15 252.55L197.15 248.05L206.65 239.05L206.65 238.55L209.15 236.05L210.15 234.05L211.65 232.55L214.65 227.05L215.65 226.05L218.65 220.05L218.65 219.05L219.65 217.55L219.65 216.55L220.65 215.05L220.65 214.05L222.15 210.55L222.15 209.05L223.15 206.55L223.15 204.55L223.65 204.05L223.65 200.55L224.15 200.05L224.15 193.05L223.65 192.55L223.65 190.05L223.15 189.55L222.65 186.55Z" fill="rgb(148,148,148)" fill-rule="evenodd"/>
<path d="M289.15 233.55L288.15 233.55L286.15 232.55L281.15 232.55L274.65 235.05L269.65 238.55L263.65 244.55L258.65 251.55L254.15 261.05L254.15 262.05L253.15 264.05L253.15 265.55L252.65 266.05L252.65 267.55L252.15 268.05L252.15 270.55L251.65 271.05L251.65 279.05L252.15 279.55L252.15 281.55L254.15 286.05L256.15 288.05L272.15 288.05L276.65 285.05L284.15 277.55L287.65 272.55L292.15 263.55L292.15 236.05ZM253.65 204.55L249.65 203.05L244.65 203.05L244.15 203.55L241.15 204.05L237.15 206.05L232.15 209.55L226.65 215.05L220.65 223.55L216.15 233.05L216.15 234.05L215.15 236.05L215.15 237.55L214.65 238.05L214.65 239.55L214.15 240.05L214.15 242.05L213.65 242.55L213.65 252.55L214.15 253.05L214.15 254.55L214.65 255.05L215.15 257.55L217.15 260.55L219.65 262.55L223.65 264.05L227.65 264.05L228.15 263.55L229.65 263.55L230.15 263.05L232.65 262.55L235.65 261.05L240.65 257.55L246.65 251.55L252.65 243.05L256.65 234.55L256.65 233.55L258.15 230.05L258.15 228.55L258.65 228.05L259.15 222.55L259.65 222.05L259.65 216.55L259.15 216.05L258.65 211.55L256.65 207.55ZM219.65 183.05L197.15 183.05L191.65 187.05L186.15 192.55L179.65 201.55L179.65 253.05L180.65 253.55L183.15 253.55L183.65 253.05L187.65 252.55L195.65 248.55L199.65 245.55L206.65 238.55L206.65 238.05L210.15 234.05L213.15 229.55L213.65 228.05L214.65 227.05L219.15 218.05L219.65 215.55L220.65 214.05L221.15 211.05L222.65 207.05L223.15 201.05L223.65 200.55L223.65 193.05L223.15 192.55L223.15 190.05L222.65 189.55L222.15 187.05L220.65 184.05Z" fill="rgb(152,152,152)" fill-rule="evenodd"/>
<path d="M289.65 235.05L286.15 233.55L280.65 233.55L275.15 235.55L267.65 241.05L263.15 246.05L259.65 251.05L256.15 257.55L256.15 258.55L254.15 262.55L254.15 264.05L253.65 264.55L253.15 268.05L252.65 268.55L252.65 271.55L252.15 272.05L252.15 277.55L252.65 278.05L253.15 282.05L254.65 285.05L257.65 288.05L270.65 288.05L278.15 283.05L282.15 279.05L287.65 271.55L292.15 262.05L292.15 237.55ZM253.65 205.55L250.65 204.05L248.65 204.05L248.15 203.55L243.15 204.05L240.15 205.55L239.15 205.55L238.15 206.55L233.65 209.05L231.15 211.55L230.65 211.55L225.65 217.05L221.15 223.55L217.15 231.55L217.15 232.55L215.15 237.55L215.15 239.55L214.65 240.05L214.65 242.05L214.15 242.55L214.15 252.05L214.65 252.55L215.15 255.55L216.65 258.55L221.15 262.55L222.15 262.55L222.65 263.05L229.15 263.05L229.65 262.55L231.15 262.55L237.15 259.55L241.15 256.55L245.65 252.05L252.15 243.05L256.15 234.55L256.15 233.55L257.65 230.05L257.65 228.55L258.15 228.05L258.65 222.55L259.15 222.05L259.15 217.05L258.65 216.55L258.15 212.05L256.15 208.05ZM219.15 183.05L198.15 183.05L191.15 188.05L186.65 192.55L186.65 193.05L184.15 195.55L179.65 202.05L179.65 252.55L185.65 252.55L186.15 252.05L187.65 252.05L193.15 249.55L197.65 246.55L206.15 238.55L206.15 238.05L211.15 232.05L214.15 226.55L215.15 225.55L219.15 217.05L219.15 216.05L221.65 209.55L222.15 205.55L222.65 205.05L222.65 202.05L223.15 201.55L223.15 193.05L222.65 192.55L222.65 190.55L222.15 190.05L222.15 188.55L221.15 187.05L221.15 186.05Z" fill="rgb(156,156,156)" fill-rule="evenodd"/>
<path d="M288.65 235.55L286.65 234.55L282.65 234.05L282.15 234.55L279.65 234.55L276.65 236.05L275.65 236.05L269.65 240.05L264.65 245.05L259.65 252.05L255.65 260.05L255.65 261.05L254.15 264.55L254.15 266.05L253.65 266.55L253.65 268.55L253.15 269.05L253.15 279.05L253.65 279.55L253.65 281.05L255.65 285.05L257.65 287.05L259.65 288.05L268.65 288.05L270.15 287.05L272.15 286.55L277.15 283.05L282.65 277.55L287.65 270.55L292.15 260.55L292.15 239.55ZM252.15 205.55L249.65 204.55L244.15 204.55L243.65 205.05L240.65 205.55L236.65 207.55L233.15 210.05L226.15 217.05L221.65 223.55L217.65 231.55L217.65 232.55L215.65 237.55L215.15 242.05L214.65 242.55L214.65 251.55L215.15 252.05L215.15 253.55L217.15 258.05L220.15 261.05L223.65 262.55L228.65 262.55L229.15 262.05L232.15 261.55L236.15 259.55L244.15 253.05L251.65 243.05L254.65 237.05L254.65 236.05L255.65 234.55L255.65 233.55L257.15 230.05L257.65 226.05L258.15 225.55L258.15 222.05L258.65 221.55L258.65 218.05L258.15 217.55L257.65 212.55L255.65 208.55ZM218.15 183.05L198.65 183.05L194.15 186.05L187.15 192.55L179.65 202.55L179.65 252.05L185.15 252.05L185.65 251.55L187.15 251.55L193.15 249.05L197.65 246.05L205.65 238.55L205.65 238.05L209.65 233.55L212.65 229.05L213.15 227.55L214.15 226.55L219.15 216.05L219.15 215.05L220.65 211.55L220.65 210.05L221.15 209.55L221.15 208.05L222.15 205.55L222.15 202.55L222.65 202.05L222.65 193.05L222.15 192.55L222.15 190.55L220.15 185.55Z" fill="rgb(159,159,159)" fill-rule="evenodd"/>
<path d="M287.65 236.05L285.15 235.55L284.65 235.05L281.15 235.05L280.65 235.55L279.15 235.55L278.65 236.05L276.15 236.55L274.15 238.05L272.65 238.55L264.15 246.55L259.65 253.05L255.65 261.55L254.65 266.55L254.15 267.05L254.15 269.05L253.65 269.55L253.65 278.05L254.15 278.55L254.15 280.05L255.65 283.55L258.65 286.55L262.65 288.05L265.15 288.05L265.65 287.55L269.15 287.05L274.15 284.55L280.65 279.05L280.65 278.55L283.65 275.55L286.65 271.05L287.15 269.55L288.15 268.55L292.15 258.55L292.15 241.05L290.65 238.55ZM251.65 206.05L248.65 205.55L248.15 205.05L245.15 205.05L244.65 205.55L241.15 206.05L236.15 208.55L232.65 211.05L227.15 216.55L220.15 227.05L219.65 229.05L217.15 234.05L217.15 235.55L215.65 239.55L215.65 242.05L215.15 242.55L215.15 251.05L215.65 251.55L216.15 254.55L217.65 257.55L220.65 260.55L223.15 261.55L227.15 262.05L227.65 261.55L230.15 261.55L233.15 260.05L234.15 260.05L240.15 256.05L246.15 250.05L251.15 243.05L256.15 232.05L256.15 230.55L257.15 228.05L257.15 226.05L257.65 225.55L257.65 222.05L258.15 221.55L258.15 218.55L257.65 218.05L257.15 213.05L254.65 208.55ZM217.15 183.05L199.65 183.05L193.65 187.05L187.65 192.55L187.65 193.05L184.65 196.05L179.65 203.05L179.65 251.05L180.15 251.55L185.15 251.55L185.65 251.05L187.15 251.05L187.65 250.55L190.15 250.05L197.65 245.55L200.15 243.05L200.65 243.05L207.65 235.55L211.65 230.05L214.15 225.05L215.15 224.05L216.65 221.05L216.65 220.05L218.15 217.55L218.15 216.55L219.15 215.05L219.15 214.05L220.15 212.05L220.15 210.55L220.65 210.05L220.65 208.55L221.15 208.05L221.15 206.55L221.65 206.05L221.65 203.55L222.15 203.05L222.15 193.05L221.65 192.55L221.65 190.55L219.15 185.05Z" fill="rgb(163,163,163)" fill-rule="evenodd"/>
<path d="M287.65 237.05L285.15 236.05L280.15 236.05L274.65 238.05L269.65 241.55L265.65 245.55L259.65 254.05L256.65 260.55L256.65 261.55L255.15 265.05L255.15 266.55L254.65 267.05L254.65 269.55L254.15 270.05L254.15 276.55L254.65 277.05L255.15 280.55L257.15 284.05L259.65 286.05L262.15 287.05L266.65 287.05L272.15 285.05L277.15 281.55L282.15 276.55L286.15 271.05L290.15 263.05L290.15 262.05L291.65 258.55L291.65 257.05L292.15 256.55L292.15 243.05L290.65 240.05ZM251.65 207.05L249.65 206.05L243.15 206.05L237.15 208.55L231.65 212.55L228.15 216.05L228.15 216.55L225.65 219.05L222.65 223.55L222.15 225.05L221.15 226.05L218.65 231.55L218.65 232.55L217.65 234.05L216.65 239.05L216.15 239.55L216.15 242.05L215.65 242.55L215.65 250.55L216.15 251.05L216.15 252.55L218.15 257.05L220.65 259.55L224.15 261.05L229.65 261.05L236.65 258.05L240.65 255.05L245.65 250.05L250.65 243.05L255.65 232.05L255.65 230.55L256.15 230.05L256.65 226.55L257.15 226.05L257.15 222.05L257.65 221.55L256.65 213.55L254.15 209.05ZM216.15 183.05L200.65 183.05L198.65 184.55L195.65 186.05L190.65 190.55L190.15 190.55L185.15 196.05L179.65 204.05L179.65 250.55L180.65 251.05L184.65 251.05L185.15 250.55L187.15 250.55L193.15 248.05L197.65 245.05L200.15 242.55L200.65 242.55L207.65 235.05L213.65 226.05L218.15 216.55L218.15 215.55L220.15 210.55L220.15 209.05L221.15 206.55L221.15 204.05L221.65 203.55L221.65 193.05L221.15 192.55L221.15 191.05L219.65 187.05Z" fill="rgb(167,167,167)" fill-rule="evenodd"/>
<path d="M287.15 237.55L284.65 237.05L284.15 236.55L280.65 236.55L280.15 237.05L277.15 237.55L273.15 239.55L266.65 245.05L260.65 253.05L256.65 261.55L255.65 266.55L255.15 267.05L255.15 269.55L254.65 270.05L254.65 276.55L255.15 277.05L255.65 280.05L257.15 283.05L260.15 285.55L262.65 286.05L263.15 286.55L265.65 286.55L266.15 286.05L269.65 285.55L273.65 283.55L277.65 280.55L281.15 277.05L287.15 268.55L289.65 263.05L289.65 262.05L290.65 260.55L290.65 259.05L291.15 258.55L291.65 255.05L292.15 254.55L292.15 245.55L291.65 245.05L291.65 243.55L290.15 240.55ZM251.15 207.55L248.65 206.55L243.65 206.55L243.15 207.05L241.65 207.05L240.15 208.05L239.15 208.05L237.15 209.55L235.65 210.05L229.65 215.05L229.65 215.55L225.15 220.55L222.65 225.05L221.65 226.05L218.65 232.55L218.65 233.55L217.15 237.05L216.65 241.55L216.15 242.05L216.15 250.05L216.65 250.55L216.65 252.05L218.65 256.55L221.15 259.05L225.15 260.55L228.65 260.55L229.15 260.05L230.65 260.05L235.65 258.05L241.15 254.05L244.65 250.55L250.15 243.05L254.15 235.05L254.15 234.05L255.65 230.55L256.15 226.55L256.65 226.05L256.65 222.05L257.15 221.55L256.15 214.05L253.65 209.55ZM215.15 183.05L202.15 183.05L199.65 184.05L198.65 185.05L195.65 186.55L190.15 191.55L189.65 191.55L185.15 196.55L179.65 204.55L179.65 250.05L184.15 250.55L184.65 250.05L188.65 249.55L190.15 248.55L192.15 248.05L193.15 247.05L197.65 244.55L200.15 242.05L200.65 242.05L207.15 235.05L211.15 229.55L213.65 224.55L214.65 223.55L215.65 221.55L215.65 220.55L217.15 218.05L217.15 217.05L218.15 215.55L218.15 214.55L219.65 211.05L220.15 207.55L220.65 207.05L220.65 204.55L221.15 204.05L221.15 193.05L220.65 192.55L220.65 191.05L218.65 186.55Z" fill="rgb(171,171,171)" fill-rule="evenodd"/>
<path d="M286.65 238.05L284.15 237.55L283.65 237.05L280.65 237.05L280.15 237.55L277.15 238.05L273.15 240.05L266.65 245.55L266.65 246.05L264.15 248.55L261.15 253.05L260.65 254.55L259.65 255.55L259.15 257.55L257.65 260.05L257.65 261.05L256.15 264.55L256.15 266.05L255.65 266.55L255.65 268.55L255.15 269.05L255.15 276.55L255.65 277.05L255.65 278.55L257.15 282.05L259.65 284.55L261.65 285.55L265.65 286.05L266.15 285.55L269.65 285.05L273.65 283.05L277.65 280.05L281.15 276.55L286.15 269.55L289.15 263.55L289.15 262.55L291.15 257.55L291.15 255.55L291.65 255.05L291.65 250.55L292.15 250.05L291.65 249.55L291.65 245.55L291.15 245.05L290.65 242.55L289.15 240.05ZM250.65 208.05L247.65 207.55L247.15 207.05L244.65 207.05L244.15 207.55L240.65 208.05L236.65 210.05L233.65 212.05L227.15 218.55L222.65 225.05L219.65 231.05L219.65 232.05L217.65 237.05L217.15 241.55L216.65 242.05L216.65 249.55L217.15 250.05L217.15 252.05L219.15 256.05L221.65 258.55L224.15 259.55L227.65 260.05L228.15 259.55L230.65 259.55L231.15 259.05L232.15 259.05L237.15 256.55L246.15 248.05L251.15 240.55L255.15 230.55L255.15 229.05L256.15 226.55L256.15 222.05L256.65 221.55L256.65 220.55L256.15 220.05L256.15 216.55L255.65 216.05L255.15 213.05L253.15 210.05ZM213.65 183.05L203.15 183.05L197.15 186.05L193.65 188.55L185.65 196.55L179.65 205.05L179.65 249.05L180.15 249.55L186.65 249.55L187.15 249.05L189.65 248.55L191.15 247.55L192.15 247.55L193.15 246.55L197.65 244.05L200.65 241.05L201.15 241.05L207.15 234.55L213.15 225.55L216.15 219.55L216.15 218.55L217.65 216.05L217.65 215.05L219.15 211.55L219.15 210.05L220.15 207.55L220.15 205.55L220.65 205.05L220.65 201.05L221.15 200.55L221.15 197.05L220.65 196.55L220.65 193.05L220.15 192.55L220.15 191.05L219.15 189.55L219.15 188.55L217.15 185.55Z" fill="rgb(175,175,175)" fill-rule="evenodd"/>
<path d="M287.15 239.05L283.15 237.55L280.65 237.55L280.15 238.05L277.15 238.55L273.15 240.55L266.65 246.05L261.15 253.55L258.15 259.55L258.15 260.55L256.65 264.05L256.65 265.55L256.15 266.05L256.15 268.05L255.65 268.55L255.65 276.55L256.15 277.05L256.15 278.55L257.15 281.05L260.15 284.05L262.15 285.05L264.15 285.05L265.15 285.55L265.65 285.05L268.15 285.05L268.65 284.55L269.65 284.55L273.65 282.55L277.15 280.05L281.15 276.05L285.15 270.55L289.15 262.55L289.15 261.55L290.65 258.05L291.15 252.55L291.65 252.05L291.65 248.05L291.15 247.55L291.15 245.55L290.65 245.05L290.15 242.55ZM251.65 209.55L248.65 208.05L242.65 208.05L236.65 210.55L233.15 213.05L227.65 218.55L223.15 225.05L219.15 233.55L218.15 238.55L217.65 239.05L217.65 241.05L217.15 241.55L217.15 249.55L217.65 250.05L218.15 253.05L219.65 255.55L223.15 258.55L224.15 258.55L224.65 259.05L230.15 259.05L236.15 256.55L239.65 254.05L245.65 248.05L250.65 240.55L254.65 231.05L255.15 227.05L255.65 226.55L255.65 222.55L256.15 222.05L256.15 220.55L255.65 220.05L255.65 216.55L255.15 216.05L254.65 213.55ZM214.15 184.05L211.65 183.05L205.15 183.05L204.65 183.55L203.15 183.55L200.65 185.05L199.65 185.05L193.65 189.05L185.65 197.05L180.65 204.05L179.65 206.05L179.65 248.55L180.65 249.05L186.65 249.05L187.15 248.55L189.65 248.05L191.15 247.05L192.15 247.05L193.15 246.05L197.65 243.55L200.65 240.55L201.15 240.55L206.65 234.55L210.65 229.05L213.15 224.05L214.15 223.05L214.65 221.05L216.65 217.55L216.65 216.55L218.15 213.55L218.15 212.05L219.15 210.05L219.65 206.05L220.15 205.55L220.15 202.05L220.65 201.55L220.65 196.55L220.15 196.05L220.15 193.05L219.65 192.55L219.15 190.05L217.15 186.55Z" fill="rgb(178,178,178)" fill-rule="evenodd"/>
<path d="M286.15 239.05L283.65 238.55L283.15 238.05L280.65 238.05L280.15 238.55L278.65 238.55L274.65 240.05L269.15 244.05L266.65 246.55L260.65 255.05L256.65 265.05L256.65 267.05L256.15 267.55L256.15 271.55L255.65 272.05L256.65 278.55L258.15 281.55L260.15 283.55L262.15 284.55L268.15 284.55L272.15 283.05L277.15 279.55L281.15 275.55L285.65 269.05L288.65 263.05L288.65 262.05L290.15 258.55L290.15 257.05L290.65 256.55L290.65 254.05L291.15 253.55L291.15 247.55L290.65 247.05L290.15 244.05L288.15 240.55ZM249.65 209.05L248.65 209.05L248.15 208.55L242.65 208.55L236.65 211.05L233.15 213.55L228.15 218.55L222.65 226.55L220.15 232.05L220.15 233.05L218.65 236.55L218.65 238.05L218.15 238.55L218.15 240.55L217.65 241.05L217.65 249.55L219.65 254.55L222.65 257.55L225.15 258.55L230.15 258.55L236.15 256.05L239.65 253.55L245.15 248.05L249.65 241.55L252.65 235.55L252.65 234.55L254.65 229.55L255.15 224.05L255.65 223.55L255.65 220.05L255.15 219.55L255.15 216.55L254.65 216.05L254.65 215.05L253.15 212.05ZM214.65 185.05L211.15 183.55L205.15 183.55L204.65 184.05L202.15 184.55L200.65 185.55L199.65 185.55L193.65 189.55L186.15 197.05L179.65 206.55L179.65 248.05L180.65 248.05L181.15 248.55L186.15 248.55L186.65 248.05L188.15 248.05L191.15 246.55L192.15 246.55L193.15 245.55L197.65 243.05L200.65 240.05L201.15 240.05L206.65 234.05L212.65 225.05L216.65 216.55L216.65 215.55L218.65 210.55L219.15 206.55L219.65 206.05L219.65 203.05L220.15 202.55L220.15 196.05L219.65 195.55L219.65 193.05L218.15 189.05Z" fill="rgb(182,182,182)" fill-rule="evenodd"/>
<path d="M285.65 241.55L283.65 240.55L278.65 240.55L273.65 242.55L267.65 247.55L263.15 253.55L259.65 260.55L259.65 261.55L258.15 265.05L258.15 267.05L257.65 267.55L257.65 275.05L258.15 275.55L258.15 277.05L259.15 279.05L261.65 281.55L263.65 282.55L268.15 282.55L273.15 280.55L276.65 278.05L280.15 274.55L284.15 269.05L287.15 263.05L287.15 262.05L288.65 258.55L289.15 253.55L289.65 253.05L289.65 250.05L289.15 249.55L289.15 247.05L288.65 246.55L288.65 245.55L287.65 243.55ZM248.15 209.05L242.65 209.05L242.15 209.55L240.65 209.55L236.65 211.55L233.15 214.05L228.15 219.05L224.15 224.55L220.65 231.55L220.65 232.55L218.65 237.55L218.65 239.55L218.15 240.05L218.15 244.05L217.65 244.55L218.65 251.55L220.15 254.55L222.15 256.55L225.15 258.05L230.15 258.05L230.65 257.55L232.15 257.55L236.15 255.55L239.15 253.55L245.15 247.55L249.65 241.05L252.15 236.05L252.15 235.05L254.15 230.05L254.65 225.55L255.15 225.05L255.15 219.05L254.65 218.55L254.65 216.55L253.15 213.05L251.65 211.05ZM214.15 185.55L210.65 184.05L205.15 184.05L204.65 184.55L202.15 185.05L200.65 186.05L199.65 186.05L198.65 187.05L197.15 187.55L193.65 190.05L186.15 197.55L179.65 207.05L179.65 247.05L180.15 247.55L181.15 247.55L181.65 248.05L186.15 248.05L186.65 247.55L188.15 247.55L191.15 246.05L192.15 246.05L193.15 245.05L197.65 242.55L200.65 239.55L201.15 239.55L206.15 234.05L211.15 227.05L212.65 223.55L213.65 222.55L214.15 220.55L216.15 217.05L216.15 216.05L218.15 211.05L218.15 209.55L219.15 207.05L219.15 204.05L219.65 203.55L219.65 195.55L219.15 195.05L219.15 193.05L217.15 188.55Z" fill="rgb(186,186,186)" fill-rule="evenodd"/>
<path d="M282.65 243.05L277.65 243.05L273.15 245.05L266.65 251.05L263.65 255.55L260.65 262.05L260.65 263.55L259.65 266.05L259.65 269.55L259.15 270.05L260.15 275.55L261.15 277.55L262.65 279.05L264.65 280.05L269.15 280.05L273.65 278.05L280.65 271.55L283.65 267.05L286.15 261.55L286.65 258.55L287.15 258.05L287.15 256.05L287.65 255.55L287.65 250.05L287.15 249.55L287.15 248.05L285.15 244.55ZM250.15 210.55L248.15 209.55L242.15 209.55L238.15 211.05L233.65 214.05L227.65 220.05L223.65 226.05L220.15 233.55L219.15 238.55L218.65 239.05L218.65 241.55L218.15 242.05L218.15 247.55L218.65 248.05L219.15 251.55L221.15 255.05L225.15 257.55L230.65 257.55L235.65 255.55L238.65 253.55L245.65 246.55L248.65 242.05L249.15 240.55L250.15 239.55L251.15 237.55L251.15 236.55L252.65 234.05L253.15 231.05L254.15 229.05L254.15 227.05L254.65 226.55L254.65 218.05L252.65 213.05ZM213.15 185.55L210.65 185.05L210.15 184.55L205.65 184.55L205.15 185.05L203.65 185.05L200.65 186.55L199.65 186.55L198.65 187.55L197.15 188.05L193.65 190.55L186.15 198.05L180.65 206.05L179.65 208.05L179.65 246.55L180.15 247.05L181.65 247.05L182.15 247.55L186.15 247.55L186.65 247.05L188.15 247.05L191.15 245.55L192.15 245.55L193.15 244.55L197.65 242.05L200.65 239.05L201.15 239.05L206.15 233.55L211.65 225.55L216.15 216.05L216.15 215.05L217.65 211.55L218.15 208.05L218.65 207.55L218.65 205.05L219.15 204.55L219.15 195.55L218.65 195.05L218.65 193.55L217.15 189.55L215.65 187.55Z" fill="rgb(190,190,190)" fill-rule="evenodd"/>
<path d="M282.15 246.05L281.15 246.05L280.65 245.55L277.65 245.55L273.15 247.55L268.15 252.05L265.65 255.55L263.15 260.55L263.15 261.55L262.15 263.55L262.15 265.05L261.65 265.55L261.65 272.05L263.65 276.05L265.15 277.05L268.65 277.55L273.65 275.55L279.15 270.55L281.65 267.05L283.65 263.05L283.65 262.05L285.15 258.55L285.15 256.05L285.65 255.55L285.15 250.05L284.15 248.05ZM249.15 210.55L244.65 209.55L244.15 210.05L241.65 210.05L241.15 210.55L240.15 210.55L236.15 212.55L227.65 220.55L223.65 226.55L220.65 233.05L220.65 234.05L219.65 236.05L219.65 237.55L219.15 238.05L219.15 240.05L218.65 240.55L218.65 248.55L219.15 249.05L219.15 250.55L220.65 253.55L223.15 256.05L225.15 257.05L231.15 257.05L236.65 254.55L243.15 249.05L243.15 248.55L245.65 246.05L248.15 242.55L252.15 234.55L252.15 233.55L253.15 231.55L253.15 230.05L253.65 229.55L253.65 228.05L254.15 227.55L254.15 224.05L254.65 223.55L254.65 221.05L254.15 220.55L254.15 217.55L253.65 217.05L253.65 216.05L252.15 213.05ZM213.65 186.55L209.65 185.05L205.65 185.05L205.15 185.55L203.65 185.55L198.65 187.55L193.65 191.05L186.15 198.55L179.65 208.55L179.65 246.05L182.15 246.55L182.65 247.05L185.65 247.05L186.15 246.55L188.15 246.55L193.15 244.55L197.65 241.55L203.15 236.55L210.65 226.55L211.65 224.05L212.65 223.05L214.15 220.05L214.15 219.05L216.15 215.05L216.15 214.05L217.15 212.05L217.15 210.55L217.65 210.05L217.65 208.55L218.15 208.05L218.15 206.05L218.65 205.55L218.65 195.55L218.15 195.05L218.15 193.55L216.15 189.05Z" fill="rgb(194,194,194)" fill-rule="evenodd"/>
<path d="M280.65 249.55L279.65 249.05L276.15 249.05L273.15 250.55L269.65 253.55L267.15 257.05L265.15 261.05L264.65 264.05L264.15 264.55L264.15 270.05L264.65 270.55L264.65 271.55L266.65 273.55L267.65 274.05L270.15 274.05L273.65 272.55L277.65 269.05L280.15 265.55L281.15 263.55L281.15 262.55L282.15 261.05L282.65 256.55L283.15 256.05L282.65 252.55ZM249.15 211.05L246.65 210.55L246.15 210.05L243.65 210.05L243.15 210.55L241.65 210.55L237.65 212.05L232.15 216.05L229.65 218.55L223.65 227.05L219.65 237.05L219.65 239.05L219.15 239.55L219.15 243.55L218.65 244.05L219.65 250.55L221.15 253.55L223.15 255.55L225.15 256.55L231.15 256.55L235.15 255.05L240.15 251.55L244.15 247.55L248.65 241.05L251.65 235.05L251.65 234.05L253.15 230.55L253.15 229.05L253.65 228.55L253.65 226.05L254.15 225.55L254.15 219.55L253.65 219.05L253.15 216.05L251.15 212.55ZM213.15 187.05L209.15 185.55L205.65 185.55L205.15 186.05L203.65 186.05L198.65 188.05L194.15 191.05L186.65 198.55L179.65 209.05L179.65 245.05L180.15 245.55L182.65 246.05L183.15 246.55L185.65 246.55L186.15 246.05L188.15 246.05L188.65 245.55L191.15 245.05L195.65 242.55L203.15 236.05L203.15 235.55L207.65 230.55L210.15 226.05L211.15 225.05L214.65 218.05L214.65 217.05L215.65 215.55L215.65 214.55L216.65 212.55L216.65 211.05L217.65 208.55L217.65 206.55L218.15 206.05L218.15 202.05L218.65 201.55L218.15 195.05L217.65 194.55L217.15 192.05L216.15 190.05Z" fill="rgb(198,198,198)" fill-rule="evenodd"/>
<path d="M278.15 254.05L277.15 253.55L274.15 254.05L272.65 255.05L269.65 258.55L267.65 263.05L267.65 267.05L269.15 269.05L270.15 269.05L270.65 269.55L271.15 269.05L272.65 269.05L274.15 268.05L277.65 264.05L279.15 260.55L279.15 255.55ZM248.65 213.55L246.65 212.55L241.65 212.55L236.65 214.55L230.65 219.55L226.15 225.55L222.65 232.55L222.65 233.55L221.15 237.05L221.15 239.05L220.65 239.55L220.65 247.05L221.15 247.55L221.15 249.05L222.15 251.05L224.65 253.55L226.65 254.55L231.15 254.55L236.15 252.55L239.65 250.05L243.15 246.55L247.15 241.05L250.15 235.05L250.15 234.05L251.65 230.55L252.15 225.55L252.65 225.05L252.65 222.05L252.15 221.55L252.15 219.05L251.65 218.55L251.65 217.55L250.65 215.55ZM212.15 187.05L209.15 186.55L208.65 186.05L205.65 186.05L205.15 186.55L203.65 186.55L203.15 187.05L200.65 187.55L196.15 190.05L186.65 199.05L181.15 207.05L179.65 210.05L179.65 244.55L180.15 245.05L183.65 245.55L184.15 246.05L185.15 246.05L185.65 245.55L188.15 245.55L188.65 245.05L191.15 244.55L195.65 242.05L199.65 238.55L200.15 238.55L203.15 235.55L203.15 235.05L208.65 228.55L209.15 227.05L211.65 223.55L216.15 213.05L216.15 211.55L216.65 211.05L217.15 207.55L217.65 207.05L217.65 204.05L218.15 203.55L218.15 198.05L217.65 197.55L217.65 195.05L217.15 194.55L216.65 192.05L214.65 189.05Z" fill="rgb(201,201,201)" fill-rule="evenodd"/>
<path d="M245.65 215.05L240.65 215.05L236.15 217.05L229.65 223.05L226.65 227.55L223.65 234.05L223.65 235.55L222.65 238.05L222.65 241.55L222.15 242.05L223.15 247.55L224.15 249.55L225.65 251.05L227.65 252.05L232.15 252.05L236.65 250.05L243.65 243.55L246.65 239.05L249.15 233.55L249.65 230.55L250.15 230.05L250.15 228.05L250.65 227.55L250.65 222.05L250.15 221.55L250.15 220.05L248.15 216.55ZM212.65 188.05L208.65 186.55L205.65 186.55L205.15 187.05L201.65 187.55L197.65 189.55L194.65 191.55L189.65 196.05L189.65 196.55L186.65 199.55L183.65 203.55L182.15 206.55L181.15 207.55L179.65 210.55L179.65 244.05L181.65 245.05L185.65 245.55L186.15 245.05L190.15 244.55L194.15 242.55L199.65 238.55L203.65 234.55L210.15 225.55L211.15 223.05L212.65 221.05L212.65 220.05L215.15 215.05L215.15 214.05L216.15 212.05L216.15 210.55L216.65 210.05L216.65 208.55L217.15 208.05L217.15 205.55L217.65 205.05L217.65 197.55L217.15 197.05L217.15 195.05L215.15 190.55Z" fill="rgb(205,205,205)" fill-rule="evenodd"/>
<path d="M245.15 218.05L244.15 218.05L243.65 217.55L240.65 217.55L236.15 219.55L231.15 224.05L228.65 227.55L226.15 232.55L226.15 233.55L225.15 235.55L225.15 237.05L224.65 237.55L224.65 244.05L226.65 248.05L228.15 249.05L231.65 249.55L236.65 247.55L242.15 242.55L244.65 239.05L246.65 235.05L246.65 234.05L248.15 230.55L248.15 228.05L248.65 227.55L248.15 222.05L247.15 220.05ZM212.65 188.55L209.15 187.05L205.15 187.05L204.65 187.55L203.15 187.55L199.15 189.05L192.65 193.55L188.15 198.05L182.65 205.55L179.65 211.05L179.65 243.55L183.65 245.05L186.15 245.05L186.65 244.55L188.65 244.55L192.65 243.05L198.65 239.05L204.15 233.55L208.65 227.55L214.15 217.05L214.15 216.05L216.15 211.05L216.65 207.05L217.15 206.55L217.15 196.55L216.65 196.05L216.65 194.55L215.65 193.05L215.65 192.05Z" fill="rgb(209,209,209)" fill-rule="evenodd"/>
<path d="M243.65 221.55L242.65 221.05L239.15 221.05L236.15 222.55L232.65 225.55L230.15 229.05L228.15 233.05L227.65 236.05L227.15 236.55L227.15 242.05L227.65 242.55L227.65 243.55L229.65 245.55L230.65 246.05L233.15 246.05L236.65 244.55L240.65 241.05L243.15 237.55L244.15 235.55L244.15 234.55L245.15 233.05L245.65 228.55L246.15 228.05L245.65 224.55ZM211.65 188.55L209.15 187.55L204.65 187.55L204.15 188.05L201.15 188.55L197.15 190.55L193.15 193.55L187.65 199.05L181.15 208.55L179.65 211.55L179.65 243.05L183.15 244.55L187.15 244.55L187.65 244.05L190.65 243.55L194.65 241.55L198.15 239.05L204.65 232.55L209.65 225.55L214.65 215.05L215.15 212.05L216.15 210.05L216.15 208.05L216.65 207.55L216.65 204.55L217.15 204.05L217.15 198.55L216.65 198.05L216.65 196.05L216.15 195.55L215.65 193.05L213.65 190.05Z" fill="rgb(213,213,213)" fill-rule="evenodd"/>
<path d="M241.15 226.05L240.15 225.55L237.15 226.05L235.65 227.05L232.65 230.55L230.65 235.05L230.65 239.05L232.15 241.05L233.15 241.05L233.65 241.55L234.15 241.05L235.65 241.05L237.15 240.05L240.65 236.05L242.15 232.55L242.15 227.55ZM211.65 189.05L209.15 188.05L203.65 188.05L203.15 188.55L200.65 189.05L196.15 191.55L187.15 200.05L181.15 209.05L179.65 212.05L179.65 242.55L183.15 244.05L187.65 244.05L188.15 243.55L191.15 243.05L194.15 241.55L202.15 235.05L209.65 225.05L214.15 215.55L214.15 214.55L215.65 211.05L216.15 206.55L216.65 206.05L216.65 197.55L216.15 197.05L216.15 195.55L214.65 192.05Z" fill="rgb(217,217,217)" fill-rule="evenodd"/>
<path d="M211.65 189.55L209.65 188.55L207.15 188.55L206.15 188.05L205.65 188.55L203.15 188.55L202.65 189.05L201.65 189.05L196.65 191.55L192.65 195.05L192.15 195.05L189.15 198.05L189.15 198.55L185.15 203.05L182.65 207.55L181.65 208.55L179.65 212.55L179.65 241.55L180.65 242.55L182.65 243.55L188.15 243.55L188.65 243.05L190.15 243.05L195.15 240.55L199.15 237.55L203.65 233.05L209.65 224.55L214.15 215.05L214.65 212.05L215.65 210.05L216.15 204.05L216.65 203.55L216.65 200.05L216.15 199.55L216.15 196.55L215.65 196.05L215.65 195.05L214.15 192.05Z" fill="rgb(221,221,221)" fill-rule="evenodd"/>
<path d="M211.65 190.05L208.15 188.55L204.65 188.55L204.15 189.05L201.15 189.55L197.15 191.55L193.65 194.05L188.15 199.55L181.65 209.05L179.65 213.05L179.65 241.05L181.15 242.55L184.15 243.05L184.65 243.55L186.65 243.55L187.15 243.05L190.65 242.55L194.65 240.55L198.15 238.05L204.65 231.55L209.15 225.05L213.15 217.05L213.15 216.05L215.15 211.05L215.65 206.55L216.15 206.05L216.15 198.05L215.65 197.55L215.65 196.05L214.15 192.55Z" fill="rgb(224,224,224)" fill-rule="evenodd"/>
<path d="M208.15 190.55L203.15 190.55L198.15 192.55L192.65 196.55L189.15 200.05L183.15 208.55L179.65 216.05L179.65 238.55L181.15 240.05L184.65 241.55L188.15 241.55L188.65 241.05L191.65 240.55L196.15 238.05L203.15 231.55L203.15 231.05L206.65 227.05L207.15 225.55L209.65 222.05L210.65 220.05L210.65 219.05L212.15 216.55L212.15 215.55L213.65 212.05L213.65 210.55L214.15 210.05L214.15 208.05L214.65 207.55L214.65 198.55L213.15 194.55L212.15 193.05Z" fill="rgb(228,228,228)" fill-rule="evenodd"/>
<path d="M208.65 194.05L206.15 193.55L205.65 193.05L203.65 193.05L203.15 193.55L200.15 194.05L197.15 195.55L193.65 198.05L189.65 202.05L184.65 209.05L182.15 214.05L182.15 215.05L181.15 216.55L181.15 217.55L180.15 219.55L180.15 221.05L179.65 221.55L179.65 232.55L180.65 235.05L182.65 237.55L184.65 238.55L190.15 238.55L195.65 236.05L203.15 229.05L208.15 221.55L209.15 219.55L209.15 218.55L210.65 216.05L210.65 215.05L211.65 213.05L211.65 211.55L212.15 211.05L212.15 209.05L212.65 208.55L212.65 200.55L212.15 200.05L212.15 198.55L211.15 196.55Z" fill="rgb(232,232,232)" fill-rule="evenodd"/>
<path d="M207.15 197.05L203.15 196.05L202.65 196.55L200.65 196.55L199.15 197.55L198.15 197.55L195.15 199.55L189.15 205.55L186.15 210.05L183.15 216.55L183.15 217.55L182.15 219.55L182.15 221.55L181.65 222.05L181.65 229.55L182.15 230.05L182.15 231.55L185.15 235.05L186.15 235.55L191.15 235.55L196.15 233.05L200.65 229.05L200.65 228.55L203.15 226.05L205.65 221.55L206.65 220.55L209.65 213.05L210.15 208.55L210.65 208.05L210.65 203.55L210.15 203.05L210.15 201.55L209.65 201.05L209.65 200.05Z" fill="rgb(236,236,236)" fill-rule="evenodd"/>
<path d="M205.15 200.55L204.15 200.05L200.15 200.05L197.65 201.05L194.65 203.05L191.15 206.55L188.65 210.05L185.65 216.05L185.65 217.05L184.65 219.05L184.65 221.05L184.15 221.55L184.15 226.55L184.65 227.05L184.65 228.55L187.15 231.55L188.15 232.05L191.65 232.05L195.15 230.55L201.15 225.05L203.65 221.55L206.15 216.55L206.15 215.55L207.15 213.55L207.15 212.05L207.65 211.55L207.65 204.55L207.15 204.05L207.15 203.05Z" fill="rgb(240,240,240)" fill-rule="evenodd"/>
<path d="M202.15 205.05L199.65 204.55L196.15 206.05L190.65 212.05L188.65 216.05L188.15 219.55L187.65 220.05L187.65 223.55L189.15 226.55L190.15 227.05L193.65 227.05L197.65 224.55L200.65 221.05L201.15 219.55L202.65 217.55L202.65 216.55L203.65 215.05L203.65 213.55L204.15 213.05L204.15 207.55Z" fill="rgb(244,244,244)" fill-rule="evenodd"/>
<path d="M240.34 182.8h2.49v2.49h-2.49zM248.65 182.8h2.49v2.49h-2.49zM281.89 182.8h2.49v2.49h-2.49zM232.03 185.57h2.49v2.49h-2.49zM234.8 185.57h2.49v2.49h-2.49zM284.66 185.57h2.49v2.49h-2.49zM287.43 185.57h2.49v2.49h-2.49zM237.57 188.34h2.49v2.49h-2.49zM251.42 188.34h2.49v2.49h-2.49zM279.12 188.34h2.49v2.49h-2.49zM237.57 191.11h2.49v2.49h-2.49zM240.34 191.11h2.49v2.49h-2.49zM243.11 191.11h2.49v2.49h-2.49zM284.66 191.11h2.49v2.49h-2.49zM232.03 193.88h2.49v2.49h-2.49zM256.96 193.88h2.49v2.49h-2.49zM273.58 193.88h2.49v2.49h-2.49zM276.35 193.88h2.49v2.49h-2.49zM279.12 193.88h2.49v2.49h-2.49zM232.03 196.65h2.49v2.49h-2.49zM284.66 196.65h2.49v2.49h-2.49zM279.12 199.42h2.49v2.49h-2.49zM290.2 199.42h2.49v2.49h-2.49zM268.04 202.19h2.49v2.49h-2.49zM270.81 207.73h2.49v2.49h-2.49zM279.12 207.73h2.49v2.49h-2.49zM270.81 210.5h2.49v2.49h-2.49zM279.12 213.27h2.49v2.49h-2.49zM265.27 216.04h2.49v2.49h-2.49zM270.81 216.04h2.49v2.49h-2.49zM287.43 216.04h2.49v2.49h-2.49zM265.27 218.81h2.49v2.49h-2.49zM270.81 218.81h2.49v2.49h-2.49zM287.43 218.81h2.49v2.49h-2.49zM265.27 224.35h2.49v2.49h-2.49zM268.04 224.35h2.49v2.49h-2.49zM204.33 257.59h2.49v2.49h-2.49zM196.02 260.36h2.49v2.49h-2.49zM193.25 263.13h2.49v2.49h-2.49zM240.34 265.9h2.49v2.49h-2.49zM179.4 268.67h2.49v2.49h-2.49zM207.1 271.44h2.49v2.49h-2.49zM209.87 271.44h2.49v2.49h-2.49zM223.72 271.44h2.49v2.49h-2.49zM229.26 271.44h2.49v2.49h-2.49zM234.8 271.44h2.49v2.49h-2.49zM190.48 274.21h2.49v2.49h-2.49zM201.56 274.21h2.49v2.49h-2.49zM190.48 276.98h2.49v2.49h-2.49zM182.17 279.75h2.49v2.49h-2.49zM184.94 279.75h2.49v2.49h-2.49zM190.48 279.75h2.49v2.49h-2.49zM240.34 279.75h2.49v2.49h-2.49zM179.4 282.52h2.49v2.49h-2.49zM193.25 282.52h2.49v2.49h-2.49zM198.79 282.52h2.49v2.49h-2.49zM201.56 282.52h2.49v2.49h-2.49zM204.33 282.52h2.49v2.49h-2.49zM209.87 282.52h2.49v2.49h-2.49zM209.87 285.29h2.49v2.49h-2.49zM218.18 285.29h2.49v2.49h-2.49zM237.57 285.29h2.49v2.49h-2.49zM190.48 288.06h2.49v2.49h-2.49zM196.02 288.06h2.49v2.49h-2.49zM284.66 288.06h2.49v2.49h-2.49z" fill="#000"/>
</g></g>
<rect x="179.4" y="182.8" width="112.8" height="105.4" fill="none" stroke="#000" stroke-width="1.4"/>
<path d="M222.6 230.3L247.5 248.1" stroke="#000" stroke-width="2.4"/>
<path d="M217.9 226.9L227.6 227.3L223.3 233.6Z M252.2 251.5L242.5 251.1L246.8 244.8Z" fill="#000" stroke="#000" stroke-width="0.6" stroke-linejoin="round"/>
<text x="214.6" y="257.1" font-size="17.7" fill="#000" style="font-family:'Liberation Serif',serif">&#916;Q</text>
<path d="M112.4 117.7L132.5 113.6L130.7 104.6L146.6 112.5L135.1 126.1L133.3 117.1L113.1 121.3Z" fill="#7030a0"/>
<path d="M133.4 236.8L144.6 221.5L137.6 215.1L155.1 209.5L156.4 227L149.3 221.3L138.2 240.2Z" fill="#fff"/>
<rect x="29.6" y="25.6" width="262.6" height="262.6" fill="none" stroke="#000" stroke-width="1.4"/>
<linearGradient id="cba" x1="0" y1="0" x2="0" y2="1"><stop offset="0" stop-color="#800000"/><stop offset="0.06" stop-color="#bf0000"/><stop offset="0.12" stop-color="#ff0000"/><stop offset="0.19" stop-color="#ff4000"/><stop offset="0.25" stop-color="#ff8000"/><stop offset="0.31" stop-color="#ffbf00"/><stop offset="0.38" stop-color="#ffff00"/><stop offset="0.44" stop-color="#bfff40"/><stop offset="0.5" stop-color="#80ff80"/><stop offset="0.56" stop-color="#40ffbf"/><stop offset="0.62" stop-color="#00ffff"/><stop offset="0.69" stop-color="#00bfff"/><stop offset="0.75" stop-color="#0080ff"/><stop offset="0.81" stop-color="#0040ff"/><stop offset="0.88" stop-color="#0000ff"/><stop offset="0.94" stop-color="#0000bf"/><stop offset="1" stop-color="#000080"/></linearGradient>
<rect x="300.2" y="26.6" width="9.7" height="260.8" fill="url(#cba)"/>
<text x="366.0" y="17.8" font-size="22.6" font-weight="bold" fill="#111">(b)</text>
<rect x="396.5" y="28" width="263.5" height="262.5" fill="#000" opacity="0.55" filter="url(#shadow)"/>
<rect x="394.3" y="25.8" width="263.5" height="262.5" fill="#000080" stroke="#000" stroke-width="1.4"/>
<g shape-rendering="crispEdges">
<path d="M505.5 98.7h5.45v5.45h-5.45z" fill="#0064ff"/>
<path d="M510.9 98.7h5.45v5.45h-5.45z" fill="#ffef00"/>
<path d="M516.3 98.7h5.45v5.45h-5.45z" fill="#00b9ff"/>
<path d="M505.5 104.1h5.45v5.45h-5.45z" fill="#e4ff1b"/>
<path d="M510.9 104.1h5.45v5.45h-5.45z" fill="#ff4400"/>
<path d="M516.3 104.1h5.45v5.45h-5.45zM527.1 152.7h5.45v5.45h-5.45zM505.5 163.5h5.45v5.45h-5.45z" fill="#ff2700"/>
<path d="M521.7 104.1h5.45v5.45h-5.45z" fill="#a2ff5d"/>
<path d="M527.1 104.1h5.45v5.45h-5.45z" fill="#00aaff"/>
<path d="M500.1 109.5h5.45v5.45h-5.45z" fill="#00d6ff"/>
<path d="M505.5 109.5h5.45v5.45h-5.45z" fill="#ff0d00"/>
<path d="M510.9 109.5h5.45v5.45h-5.45zM500.1 120.3h5.45v5.45h-5.45z" fill="#ec0000"/>
<path d="M516.3 109.5h5.45v5.45h-5.45z" fill="#ff0400"/>
<path d="M521.7 109.5h5.45v5.45h-5.45z" fill="#ff1600"/>
<path d="M527.1 109.5h5.45v5.45h-5.45z" fill="#ff8100"/>
<path d="M532.5 109.5h5.45v5.45h-5.45z" fill="#86ff79"/>
<path d="M537.9 109.5h5.45v5.45h-5.45z" fill="#0006ff"/>
<path d="M494.7 114.9h5.45v5.45h-5.45z" fill="#0050ff"/>
<path d="M500.1 114.9h5.45v5.45h-5.45z" fill="#ffa200"/>
<path d="M505.5 114.9h5.45v5.45h-5.45z" fill="#f30000"/>
<path d="M510.9 114.9h5.45v5.45h-5.45zM516.3 147.3h5.45v5.45h-5.45z" fill="#f40000"/>
<path d="M516.3 114.9h5.45v5.45h-5.45z" fill="#df0000"/>
<path d="M521.7 114.9h5.45v5.45h-5.45zM505.5 141.9h5.45v5.45h-5.45z" fill="#ff0900"/>
<path d="M527.1 114.9h5.45v5.45h-5.45z" fill="#ff1d00"/>
<path d="M532.5 114.9h5.45v5.45h-5.45zM559.5 147.3h5.45v5.45h-5.45z" fill="#ff2b00"/>
<path d="M537.9 114.9h5.45v5.45h-5.45z" fill="#ff9900"/>
<path d="M543.3 114.9h5.45v5.45h-5.45z" fill="#21ffde"/>
<path d="M494.7 120.3h5.45v5.45h-5.45z" fill="#47ffb8"/>
<path d="M505.5 120.3h5.45v5.45h-5.45z" fill="#d20000"/>
<path d="M510.9 120.3h5.45v5.45h-5.45z" fill="#d30000"/>
<path d="M516.3 120.3h5.45v5.45h-5.45zM505.5 125.7h5.45v5.45h-5.45z" fill="#ac0000"/>
<path d="M521.7 120.3h5.45v5.45h-5.45z" fill="#b90000"/>
<path d="M527.1 120.3h5.45v5.45h-5.45z" fill="#be0000"/>
<path d="M532.5 120.3h5.45v5.45h-5.45zM500.1 125.7h5.45v5.45h-5.45zM532.5 125.7h5.45v5.45h-5.45z" fill="#ee0000"/>
<path d="M537.9 120.3h5.45v5.45h-5.45zM527.1 147.3h5.45v5.45h-5.45zM494.7 174.3h5.45v5.45h-5.45z" fill="#ff2e00"/>
<path d="M543.3 120.3h5.45v5.45h-5.45z" fill="#ff1200"/>
<path d="M548.7 120.3h5.45v5.45h-5.45z" fill="#fcff03"/>
<path d="M554.1 120.3h5.45v5.45h-5.45z" fill="#008bff"/>
<path d="M489.3 125.7h5.45v5.45h-5.45z" fill="#0027ff"/>
<path d="M494.7 125.7h5.45v5.45h-5.45zM554.1 125.7h5.45v5.45h-5.45z" fill="#ff3a00"/>
<path d="M510.9 125.7h5.45v5.45h-5.45z" fill="#a90000"/>
<path d="M516.3 125.7h5.45v5.45h-5.45z" fill="#800000"/>
<path d="M521.7 125.7h5.45v5.45h-5.45zM516.3 131.1h5.45v5.45h-5.45z" fill="#8a0000"/>
<path d="M527.1 125.7h5.45v5.45h-5.45z" fill="#b30000"/>
<path d="M537.9 125.7h5.45v5.45h-5.45z" fill="#fc0000"/>
<path d="M543.3 125.7h5.45v5.45h-5.45z" fill="#ff1100"/>
<path d="M548.7 125.7h5.45v5.45h-5.45zM559.5 158.1h5.45v5.45h-5.45zM510.9 179.7h5.45v5.45h-5.45zM510.9 185.1h5.45v5.45h-5.45z" fill="#ff4100"/>
<path d="M559.5 125.7h5.45v5.45h-5.45zM494.7 179.7h5.45v5.45h-5.45z" fill="#c2ff3d"/>
<path d="M564.9 125.7h5.45v5.45h-5.45z" fill="#0097ff"/>
<path d="M489.3 131.1h5.45v5.45h-5.45z" fill="#a5ff5a"/>
<path d="M494.7 131.1h5.45v5.45h-5.45zM500.1 158.1h5.45v5.45h-5.45zM505.5 158.1h5.45v5.45h-5.45z" fill="#ff1e00"/>
<path d="M500.1 131.1h5.45v5.45h-5.45z" fill="#e40000"/>
<path d="M505.5 131.1h5.45v5.45h-5.45zM521.7 141.9h5.45v5.45h-5.45z" fill="#e00000"/>
<path d="M510.9 131.1h5.45v5.45h-5.45z" fill="#8f0000"/>
<path d="M521.7 131.1h5.45v5.45h-5.45zM516.3 136.5h5.45v5.45h-5.45z" fill="#9a0000"/>
<path d="M527.1 131.1h5.45v5.45h-5.45z" fill="#cb0000"/>
<path d="M532.5 131.1h5.45v5.45h-5.45z" fill="#d00000"/>
<path d="M537.9 131.1h5.45v5.45h-5.45z" fill="#ff2d00"/>
<path d="M543.3 131.1h5.45v5.45h-5.45zM554.1 136.5h5.45v5.45h-5.45z" fill="#ff4200"/>
<path d="M548.7 131.1h5.45v5.45h-5.45zM489.3 147.3h5.45v5.45h-5.45z" fill="#ff4700"/>
<path d="M554.1 131.1h5.45v5.45h-5.45zM543.3 190.5h5.45v5.45h-5.45z" fill="#ff2c00"/>
<path d="M559.5 131.1h5.45v5.45h-5.45zM548.7 141.9h5.45v5.45h-5.45zM559.5 141.9h5.45v5.45h-5.45z" fill="#ff6700"/>
<path d="M564.9 131.1h5.45v5.45h-5.45zM554.1 174.3h5.45v5.45h-5.45z" fill="#ff9300"/>
<path d="M570.3 131.1h5.45v5.45h-5.45z" fill="#8fff70"/>
<path d="M575.7 131.1h5.45v5.45h-5.45z" fill="#0020ff"/>
<path d="M483.9 136.5h5.45v5.45h-5.45z" fill="#009fff"/>
<path d="M489.3 136.5h5.45v5.45h-5.45zM500.1 141.9h5.45v5.45h-5.45z" fill="#ff1500"/>
<path d="M494.7 136.5h5.45v5.45h-5.45z" fill="#fb0000"/>
<path d="M500.1 136.5h5.45v5.45h-5.45z" fill="#ff1400"/>
<path d="M505.5 136.5h5.45v5.45h-5.45z" fill="#e30000"/>
<path d="M510.9 136.5h5.45v5.45h-5.45z" fill="#b20000"/>
<path d="M521.7 136.5h5.45v5.45h-5.45z" fill="#930000"/>
<path d="M527.1 136.5h5.45v5.45h-5.45z" fill="#b40000"/>
<path d="M532.5 136.5h5.45v5.45h-5.45z" fill="#fe0000"/>
<path d="M537.9 136.5h5.45v5.45h-5.45zM478.5 158.1h5.45v5.45h-5.45zM543.3 158.1h5.45v5.45h-5.45zM521.7 185.1h5.45v5.45h-5.45z" fill="#ff3c00"/>
<path d="M543.3 136.5h5.45v5.45h-5.45zM537.9 152.7h5.45v5.45h-5.45zM548.7 152.7h5.45v5.45h-5.45zM516.3 185.1h5.45v5.45h-5.45z" fill="#ff3900"/>
<path d="M548.7 136.5h5.45v5.45h-5.45zM564.9 147.3h5.45v5.45h-5.45zM559.5 152.7h5.45v5.45h-5.45zM489.3 158.1h5.45v5.45h-5.45z" fill="#ff4a00"/>
<path d="M559.5 136.5h5.45v5.45h-5.45zM489.3 168.9h5.45v5.45h-5.45z" fill="#ff2900"/>
<path d="M564.9 136.5h5.45v5.45h-5.45z" fill="#ff3e00"/>
<path d="M570.3 136.5h5.45v5.45h-5.45zM500.1 174.3h5.45v5.45h-5.45z" fill="#ff4b00"/>
<path d="M575.7 136.5h5.45v5.45h-5.45z" fill="#ffbe00"/>
<path d="M581.1 136.5h5.45v5.45h-5.45z" fill="#004fff"/>
<path d="M483.9 141.9h5.45v5.45h-5.45z" fill="#ffb500"/>
<path d="M489.3 141.9h5.45v5.45h-5.45z" fill="#ff2100"/>
<path d="M494.7 141.9h5.45v5.45h-5.45zM505.5 168.9h5.45v5.45h-5.45z" fill="#ff2f00"/>
<path d="M510.9 141.9h5.45v5.45h-5.45z" fill="#c00000"/>
<path d="M516.3 141.9h5.45v5.45h-5.45z" fill="#d80000"/>
<path d="M527.1 141.9h5.45v5.45h-5.45z" fill="#f50000"/>
<path d="M532.5 141.9h5.45v5.45h-5.45z" fill="#ff1f00"/>
<path d="M537.9 141.9h5.45v5.45h-5.45zM500.1 163.5h5.45v5.45h-5.45z" fill="#ff3100"/>
<path d="M543.3 141.9h5.45v5.45h-5.45z" fill="#ff5900"/>
<path d="M554.1 141.9h5.45v5.45h-5.45zM483.9 163.5h5.45v5.45h-5.45z" fill="#ff6100"/>
<path d="M564.9 141.9h5.45v5.45h-5.45z" fill="#ff5500"/>
<path d="M570.3 141.9h5.45v5.45h-5.45zM483.9 168.9h5.45v5.45h-5.45zM537.9 179.7h5.45v5.45h-5.45z" fill="#ff6e00"/>
<path d="M575.7 141.9h5.45v5.45h-5.45z" fill="#75ff8a"/>
<path d="M478.5 147.3h5.45v5.45h-5.45z" fill="#00daff"/>
<path d="M483.9 147.3h5.45v5.45h-5.45zM494.7 147.3h5.45v5.45h-5.45zM548.7 168.9h5.45v5.45h-5.45z" fill="#ff4e00"/>
<path d="M500.1 147.3h5.45v5.45h-5.45z" fill="#ff0b00"/>
<path d="M505.5 147.3h5.45v5.45h-5.45z" fill="#eb0000"/>
<path d="M510.9 147.3h5.45v5.45h-5.45z" fill="#fd0000"/>
<path d="M521.7 147.3h5.45v5.45h-5.45z" fill="#ff1a00"/>
<path d="M532.5 147.3h5.45v5.45h-5.45zM510.9 152.7h5.45v5.45h-5.45z" fill="#ff3200"/>
<path d="M537.9 147.3h5.45v5.45h-5.45zM500.1 168.9h5.45v5.45h-5.45z" fill="#ff4800"/>
<path d="M543.3 147.3h5.45v5.45h-5.45zM494.7 152.7h5.45v5.45h-5.45z" fill="#ff2a00"/>
<path d="M548.7 147.3h5.45v5.45h-5.45zM554.1 168.9h5.45v5.45h-5.45z" fill="#ff5f00"/>
<path d="M554.1 147.3h5.45v5.45h-5.45zM516.3 158.1h5.45v5.45h-5.45z" fill="#ff6c00"/>
<path d="M570.3 147.3h5.45v5.45h-5.45z" fill="#ffd900"/>
<path d="M575.7 147.3h5.45v5.45h-5.45z" fill="#0021ff"/>
<path d="M473.1 152.7h5.45v5.45h-5.45z" fill="#006aff"/>
<path d="M478.5 152.7h5.45v5.45h-5.45z" fill="#ffd800"/>
<path d="M483.9 152.7h5.45v5.45h-5.45zM543.3 179.7h5.45v5.45h-5.45z" fill="#ff5000"/>
<path d="M489.3 152.7h5.45v5.45h-5.45zM510.9 174.3h5.45v5.45h-5.45zM532.5 185.1h5.45v5.45h-5.45z" fill="#ff5a00"/>
<path d="M500.1 152.7h5.45v5.45h-5.45zM537.9 190.5h5.45v5.45h-5.45z" fill="#ff3300"/>
<path d="M505.5 152.7h5.45v5.45h-5.45z" fill="#ff1800"/>
<path d="M516.3 152.7h5.45v5.45h-5.45z" fill="#ff3d00"/>
<path d="M521.7 152.7h5.45v5.45h-5.45z" fill="#ff2300"/>
<path d="M532.5 152.7h5.45v5.45h-5.45zM543.3 185.1h5.45v5.45h-5.45z" fill="#ff3800"/>
<path d="M543.3 152.7h5.45v5.45h-5.45z" fill="#ff3400"/>
<path d="M554.1 152.7h5.45v5.45h-5.45zM510.9 163.5h5.45v5.45h-5.45zM500.1 179.7h5.45v5.45h-5.45zM505.5 179.7h5.45v5.45h-5.45z" fill="#ff5e00"/>
<path d="M564.9 152.7h5.45v5.45h-5.45z" fill="#ff5600"/>
<path d="M570.3 152.7h5.45v5.45h-5.45z" fill="#00a8ff"/>
<path d="M473.1 158.1h5.45v5.45h-5.45z" fill="#42ffbd"/>
<path d="M483.9 158.1h5.45v5.45h-5.45z" fill="#ff2800"/>
<path d="M494.7 158.1h5.45v5.45h-5.45z" fill="#ff2500"/>
<path d="M510.9 158.1h5.45v5.45h-5.45zM554.1 158.1h5.45v5.45h-5.45zM478.5 163.5h5.45v5.45h-5.45z" fill="#ff4d00"/>
<path d="M521.7 158.1h5.45v5.45h-5.45z" fill="#ff8d00"/>
<path d="M527.1 158.1h5.45v5.45h-5.45zM505.5 185.1h5.45v5.45h-5.45z" fill="#ffa600"/>
<path d="M532.5 158.1h5.45v5.45h-5.45z" fill="#ff9f00"/>
<path d="M537.9 158.1h5.45v5.45h-5.45zM559.5 163.5h5.45v5.45h-5.45z" fill="#ff6600"/>
<path d="M548.7 158.1h5.45v5.45h-5.45z" fill="#ff3600"/>
<path d="M564.9 158.1h5.45v5.45h-5.45z" fill="#ceff31"/>
<path d="M467.7 163.5h5.45v5.45h-5.45zM489.3 179.7h5.45v5.45h-5.45z" fill="#009eff"/>
<path d="M473.1 163.5h5.45v5.45h-5.45zM527.1 195.9h5.45v5.45h-5.45z" fill="#ff6500"/>
<path d="M489.3 163.5h5.45v5.45h-5.45zM548.7 163.5h5.45v5.45h-5.45z" fill="#ff3500"/>
<path d="M494.7 163.5h5.45v5.45h-5.45zM548.7 174.3h5.45v5.45h-5.45z" fill="#ff5400"/>
<path d="M516.3 163.5h5.45v5.45h-5.45z" fill="#ff8300"/>
<path d="M521.7 163.5h5.45v5.45h-5.45z" fill="#ff9200"/>
<path d="M527.1 163.5h5.45v5.45h-5.45z" fill="#ffc400"/>
<path d="M532.5 163.5h5.45v5.45h-5.45z" fill="#ffda00"/>
<path d="M537.9 163.5h5.45v5.45h-5.45z" fill="#ffaa00"/>
<path d="M543.3 163.5h5.45v5.45h-5.45z" fill="#ff7e00"/>
<path d="M554.1 163.5h5.45v5.45h-5.45zM537.9 185.1h5.45v5.45h-5.45z" fill="#ff3700"/>
<path d="M564.9 163.5h5.45v5.45h-5.45z" fill="#00deff"/>
<path d="M473.1 168.9h5.45v5.45h-5.45z" fill="#07fff8"/>
<path d="M478.5 168.9h5.45v5.45h-5.45z" fill="#ffe200"/>
<path d="M494.7 168.9h5.45v5.45h-5.45z" fill="#ff3f00"/>
<path d="M510.9 168.9h5.45v5.45h-5.45zM532.5 179.7h5.45v5.45h-5.45z" fill="#ff6300"/>
<path d="M516.3 168.9h5.45v5.45h-5.45z" fill="#ff6f00"/>
<path d="M521.7 168.9h5.45v5.45h-5.45z" fill="#ffae00"/>
<path d="M527.1 168.9h5.45v5.45h-5.45z" fill="#ffff00"/>
<path d="M532.5 168.9h5.45v5.45h-5.45z" fill="#ffe700"/>
<path d="M537.9 168.9h5.45v5.45h-5.45z" fill="#ffa900"/>
<path d="M543.3 168.9h5.45v5.45h-5.45z" fill="#ff7d00"/>
<path d="M559.5 168.9h5.45v5.45h-5.45z" fill="#5affa5"/>
<path d="M478.5 174.3h5.45v5.45h-5.45z" fill="#002aff"/>
<path d="M483.9 174.3h5.45v5.45h-5.45z" fill="#71ff8e"/>
<path d="M489.3 174.3h5.45v5.45h-5.45z" fill="#ff8500"/>
<path d="M505.5 174.3h5.45v5.45h-5.45zM537.9 195.9h5.45v5.45h-5.45z" fill="#ff4c00"/>
<path d="M516.3 174.3h5.45v5.45h-5.45z" fill="#ff9e00"/>
<path d="M521.7 174.3h5.45v5.45h-5.45z" fill="#ffad00"/>
<path d="M527.1 174.3h5.45v5.45h-5.45z" fill="#ffdb00"/>
<path d="M532.5 174.3h5.45v5.45h-5.45z" fill="#ffd700"/>
<path d="M537.9 174.3h5.45v5.45h-5.45zM527.1 185.1h5.45v5.45h-5.45z" fill="#ff7200"/>
<path d="M543.3 174.3h5.45v5.45h-5.45z" fill="#ff7a00"/>
<path d="M559.5 174.3h5.45v5.45h-5.45z" fill="#0056ff"/>
<path d="M516.3 179.7h5.45v5.45h-5.45z" fill="#ff6400"/>
<path d="M521.7 179.7h5.45v5.45h-5.45z" fill="#ff7700"/>
<path d="M527.1 179.7h5.45v5.45h-5.45z" fill="#ff7600"/>
<path d="M548.7 179.7h5.45v5.45h-5.45z" fill="#ff4f00"/>
<path d="M554.1 179.7h5.45v5.45h-5.45zM510.9 190.5h5.45v5.45h-5.45z" fill="#4dffb2"/>
<path d="M500.1 185.1h5.45v5.45h-5.45z" fill="#00c0ff"/>
<path d="M548.7 185.1h5.45v5.45h-5.45z" fill="#dfff20"/>
<path d="M554.1 185.1h5.45v5.45h-5.45z" fill="#0000ee"/>
<path d="M505.5 190.5h5.45v5.45h-5.45z" fill="#0000eb"/>
<path d="M516.3 190.5h5.45v5.45h-5.45z" fill="#ffba00"/>
<path d="M521.7 190.5h5.45v5.45h-5.45z" fill="#ff4000"/>
<path d="M527.1 190.5h5.45v5.45h-5.45z" fill="#ff4600"/>
<path d="M532.5 190.5h5.45v5.45h-5.45z" fill="#ff6a00"/>
<path d="M548.7 190.5h5.45v5.45h-5.45z" fill="#00fdff"/>
<path d="M516.3 195.9h5.45v5.45h-5.45z" fill="#0043ff"/>
<path d="M521.7 195.9h5.45v5.45h-5.45z" fill="#b7ff48"/>
<path d="M532.5 195.9h5.45v5.45h-5.45z" fill="#ff5200"/>
<path d="M543.3 195.9h5.45v5.45h-5.45z" fill="#b2ff4d"/>
<path d="M527.1 201.3h5.45v5.45h-5.45z" fill="#00a1ff"/>
<path d="M532.5 201.3h5.45v5.45h-5.45z" fill="#ccff33"/>
<path d="M537.9 201.3h5.45v5.45h-5.45z" fill="#ff5100"/>
<path d="M543.3 201.3h5.45v5.45h-5.45z" fill="#005aff"/>
<path d="M537.9 206.7h5.45v5.45h-5.45z" fill="#008fff"/>
</g>
<filter id="temnoise" filterUnits="userSpaceOnUse" x="538.2" y="25.8" width="119.6" height="75.8" color-interpolation-filters="sRGB">
<feTurbulence type="fractalNoise" baseFrequency="1.7" numOctaves="1" seed="5" result="t"/>
<feColorMatrix in="t" type="matrix" values="1 0 0 0 0  1 0 0 0 0  1 0 0 0 0  0 0 0 0 1" result="n"/>
<feComposite in="SourceGraphic" in2="n" operator="arithmetic" k1="0" k2="1" k3="0.42" k4="-0.21" result="c"/>
<feConvolveMatrix in="c" order="3" kernelMatrix="1 2 1 2 8 2 1 2 1" divisor="20" edgeMode="duplicate" preserveAlpha="true"/>
</filter>
<g filter="url(#temnoise)">
<rect x="538.2" y="25.8" width="119.6" height="75.8" fill="#c6c6c6"/>
<rect x="542.2" y="39.6" width="53.6" height="51.8" rx="6.5" fill="#5a5a5a" filter="url(#shadow)"/>
<rect x="543.4" y="40.8" width="51.4" height="49.6" rx="5.5" fill="#3c3c3c"/>
<rect x="595.6" y="44.6" width="57.8" height="56.4" rx="6.5" fill="#545454" filter="url(#shadow)"/>
<rect x="596.8" y="45.8" width="55.6" height="54.2" rx="5.5" fill="#363636"/>
</g>
<rect x="612.8" y="39.1" width="28.6" height="4" fill="#000"/>
<text x="608.6" y="35.6" font-size="10.8" font-weight="bold" fill="#000">100nm</text>
<rect x="538.2" y="25.8" width="119.6" height="75.8" fill="none" stroke="#000" stroke-width="1.4"/>
<rect x="586.5" y="270.7" width="54.3" height="4.5" fill="#fff"/>
<text x="588.6" y="263.4" font-size="16" font-weight="bold" fill="#fff">100nm</text>
<linearGradient id="cbb" x1="0" y1="0" x2="0" y2="1"><stop offset="0" stop-color="#800000"/><stop offset="0.06" stop-color="#bf0000"/><stop offset="0.12" stop-color="#ff0000"/><stop offset="0.19" stop-color="#ff4000"/><stop offset="0.25" stop-color="#ff8000"/><stop offset="0.31" stop-color="#ffbf00"/><stop offset="0.38" stop-color="#ffff00"/><stop offset="0.44" stop-color="#bfff40"/><stop offset="0.5" stop-color="#80ff80"/><stop offset="0.56" stop-color="#40ffbf"/><stop offset="0.62" stop-color="#00ffff"/><stop offset="0.69" stop-color="#00bfff"/><stop offset="0.75" stop-color="#0080ff"/><stop offset="0.81" stop-color="#0040ff"/><stop offset="0.88" stop-color="#0000ff"/><stop offset="0.94" stop-color="#0000bf"/><stop offset="1" stop-color="#000080"/></linearGradient>
<rect x="665.6" y="26.7" width="8.5" height="261.1" fill="url(#cbb)"/>
<text x="1.4" y="317.3" font-size="22.6" font-weight="bold" fill="#111">(c)</text>
<g fill="none" stroke="#111" stroke-width="1.15" stroke-linejoin="round">
<path d="M76.22 511.01C76.31 510.96 76.57 510.82 76.75 510.7C76.92 510.58 77.09 510.44 77.27 510.29C77.44 510.15 77.62 510 77.79 509.85C77.96 509.71 78.14 509.55 78.31 509.41C78.49 509.27 78.66 509.13 78.83 509C79.01 508.87 79.18 508.74 79.36 508.63C79.53 508.52 79.7 508.41 79.88 508.32C80.05 508.24 80.23 508.16 80.4 508.1C80.57 508.03 80.75 507.99 80.92 507.96C81.1 507.92 81.25 507.9 81.44 507.91C81.64 507.91 81.88 507.93 82.1 507.99C82.32 508.04 82.54 508.12 82.76 508.22C82.98 508.32 83.2 508.45 83.42 508.59C83.64 508.74 83.86 508.91 84.08 509.09C84.3 509.28 84.52 509.48 84.74 509.7C84.95 509.91 85.17 510.14 85.39 510.38C85.61 510.61 85.83 510.86 86.05 511.1C86.27 511.34 86.49 511.59 86.71 511.83C86.93 512.06 87.15 512.3 87.37 512.5C87.59 512.69 87.8 513.03 88.03 513C88.26 512.96 88.51 512.56 88.75 512.29C89 512.01 89.24 511.66 89.48 511.33C89.72 511 89.96 510.65 90.21 510.31C90.45 509.97 90.69 509.61 90.93 509.28C91.17 508.95 91.42 508.62 91.66 508.32C91.9 508.01 92.14 507.72 92.39 507.46C92.63 507.2 92.87 506.96 93.11 506.75C93.35 506.54 93.6 506.36 93.84 506.22C94.08 506.07 94.32 505.96 94.56 505.89C94.81 505.82 95.05 505.78 95.29 505.78C95.53 505.78 95.76 505.81 95.99 505.88C96.23 505.95 96.46 506.06 96.7 506.19C96.93 506.33 97.17 506.5 97.4 506.69C97.64 506.89 97.87 507.12 98.11 507.36C98.34 507.61 98.57 507.88 98.81 508.17C99.04 508.46 99.28 508.77 99.51 509.08C99.75 509.39 99.98 509.72 100.22 510.05C100.45 510.37 100.69 510.7 100.92 511.01C101.16 511.33 101.39 511.65 101.62 511.91C101.86 512.17 102.09 512.61 102.33 512.58C102.57 512.55 102.81 512.05 103.05 511.72C103.3 511.38 103.54 510.96 103.78 510.56C104.02 510.15 104.27 509.72 104.51 509.31C104.75 508.89 104.99 508.46 105.23 508.06C105.48 507.65 105.72 507.25 105.96 506.88C106.2 506.51 106.44 506.15 106.69 505.84C106.93 505.52 107.17 505.22 107.41 504.97C107.65 504.72 107.9 504.5 108.14 504.32C108.38 504.15 108.62 504.01 108.87 503.92C109.11 503.84 109.36 503.79 109.59 503.79C109.82 503.79 110.03 503.83 110.25 503.91C110.47 503.99 110.69 504.11 110.91 504.26C111.13 504.42 111.35 504.62 111.57 504.84C111.79 505.06 112.01 505.33 112.23 505.61C112.44 505.89 112.66 506.21 112.88 506.54C113.1 506.87 113.32 507.23 113.54 507.58C113.76 507.94 113.98 508.32 114.2 508.7C114.42 509.07 114.64 509.45 114.86 509.81C115.08 510.17 115.3 510.54 115.52 510.84C115.74 511.14 115.94 511.66 116.17 511.61C116.41 511.56 116.69 510.95 116.95 510.54C117.2 510.12 117.46 509.59 117.72 509.09C117.98 508.59 118.23 508.06 118.49 507.54C118.75 507.02 119 506.49 119.26 505.99C119.52 505.49 119.78 504.99 120.03 504.53C120.29 504.07 120.55 503.63 120.81 503.23C121.06 502.84 121.32 502.47 121.58 502.16C121.83 501.84 122.09 501.57 122.35 501.35C122.61 501.14 122.86 500.97 123.12 500.86C123.38 500.75 123.65 500.69 123.89 500.69C124.13 500.69 124.33 500.75 124.55 500.87C124.77 500.99 124.99 501.17 125.21 501.4C125.43 501.63 125.65 501.93 125.87 502.26C126.09 502.6 126.31 502.99 126.53 503.41C126.75 503.84 126.97 504.31 127.18 504.81C127.4 505.3 127.62 505.83 127.84 506.37C128.06 506.91 128.28 507.48 128.5 508.03C128.72 508.59 128.94 509.16 129.16 509.7C129.38 510.23 129.6 510.8 129.82 511.24C130.04 511.69 130.25 512.45 130.48 512.4C130.71 512.34 130.96 511.49 131.2 510.91C131.44 510.33 131.69 509.61 131.93 508.92C132.17 508.23 132.41 507.49 132.66 506.77C132.9 506.06 133.14 505.33 133.38 504.63C133.62 503.94 133.87 503.25 134.11 502.61C134.35 501.98 134.59 501.37 134.83 500.82C135.08 500.28 135.32 499.77 135.56 499.34C135.8 498.9 136.05 498.53 136.29 498.23C136.53 497.93 136.77 497.7 137.01 497.54C137.26 497.39 137.52 497.32 137.74 497.31C137.96 497.31 138.15 497.38 138.35 497.51C138.56 497.64 138.76 497.84 138.97 498.1C139.17 498.36 139.37 498.68 139.58 499.06C139.78 499.43 139.99 499.87 140.19 500.34C140.4 500.81 140.6 501.34 140.8 501.88C141.01 502.43 141.21 503.02 141.42 503.62C141.62 504.22 141.83 504.85 142.03 505.47C142.23 506.08 142.44 506.72 142.64 507.32C142.85 507.91 143.05 508.54 143.26 509.03C143.46 509.53 143.64 510.41 143.87 510.31C144.1 510.22 144.37 509.18 144.62 508.46C144.87 507.74 145.12 506.84 145.37 505.97C145.62 505.11 145.87 504.19 146.12 503.3C146.37 502.4 146.62 501.49 146.87 500.62C147.12 499.76 147.36 498.89 147.61 498.1C147.86 497.31 148.11 496.55 148.36 495.86C148.61 495.18 148.86 494.55 149.11 494.01C149.36 493.47 149.61 493 149.86 492.63C150.11 492.25 150.36 491.96 150.61 491.77C150.86 491.58 151.12 491.48 151.36 491.48C151.6 491.48 151.81 491.58 152.03 491.76C152.25 491.95 152.48 492.23 152.7 492.6C152.92 492.97 153.15 493.43 153.37 493.95C153.59 494.48 153.82 495.1 154.04 495.77C154.26 496.43 154.49 497.18 154.71 497.96C154.93 498.73 155.15 499.57 155.38 500.42C155.6 501.27 155.82 502.16 156.05 503.03C156.27 503.91 156.49 504.81 156.72 505.65C156.94 506.5 157.16 507.38 157.39 508.09C157.61 508.79 157.82 510.07 158.06 509.9C158.29 509.72 158.56 508.15 158.82 507.02C159.07 505.9 159.32 504.5 159.58 503.17C159.83 501.84 160.08 500.4 160.34 499.02C160.59 497.63 160.84 496.21 161.1 494.87C161.35 493.53 161.61 492.19 161.86 490.96C162.11 489.73 162.37 488.55 162.62 487.49C162.87 486.44 163.13 485.46 163.38 484.62C163.63 483.78 163.89 483.05 164.14 482.47C164.39 481.89 164.65 481.44 164.9 481.15C165.15 480.85 165.43 480.71 165.66 480.7C165.89 480.69 166.08 480.84 166.3 481.1C166.51 481.37 166.72 481.77 166.93 482.29C167.14 482.81 167.36 483.47 167.57 484.22C167.78 484.97 167.99 485.85 168.2 486.79C168.42 487.74 168.63 488.8 168.84 489.91C169.05 491.01 169.26 492.21 169.47 493.41C169.69 494.61 169.9 495.89 170.11 497.13C170.32 498.37 170.53 499.66 170.75 500.86C170.96 502.05 171.17 503.31 171.38 504.31C171.59 505.32 171.77 507.34 172.02 506.89C172.26 506.44 172.56 503.66 172.83 501.59C173.11 499.53 173.38 496.95 173.65 494.49C173.92 492.03 174.2 489.38 174.47 486.83C174.74 484.28 175.01 481.67 175.29 479.19C175.56 476.72 175.83 474.26 176.1 471.99C176.38 469.73 176.65 467.55 176.92 465.6C177.19 463.65 177.46 461.84 177.74 460.3C178.01 458.76 178.28 457.41 178.55 456.34C178.83 455.28 179.1 454.44 179.37 453.9C179.64 453.35 179.95 453.1 180.19 453.07C180.42 453.04 180.58 453.29 180.78 453.72C180.98 454.14 181.17 454.79 181.37 455.62C181.57 456.45 181.76 457.5 181.96 458.7C182.16 459.9 182.35 461.3 182.55 462.82C182.75 464.33 182.94 466.03 183.14 467.8C183.34 469.56 183.53 471.47 183.73 473.4C183.93 475.32 184.12 477.36 184.32 479.34C184.52 481.33 184.71 483.39 184.91 485.3C185.11 487.22 185.3 489.22 185.5 490.83C185.7 492.44 185.74 496.76 186.09 494.95C186.44 493.15 187.02 490.83 187.6 480C188.18 469.17 189.02 449.17 189.6 430C190.18 410.83 190.67 380 191.1 365C191.53 350 191.9 345.4 192.2 340C192.5 334.6 192.67 332.93 192.9 332.6C193.13 332.27 193.37 330.1 193.6 338C193.83 345.9 194.08 361.33 194.3 380C194.52 398.67 194.7 427.12 194.9 450C195.1 472.88 195.4 506.08 195.5 517.3"/>
<path d="M195.5 517.3L205 517.3"/>
<path d="M205 517.3C205.1 506.08 205.35 472.88 205.6 450C205.85 427.12 206.27 397.5 206.5 380C206.73 362.5 206.83 352.13 207 345C207.17 337.87 207.33 338.03 207.5 337.2C207.67 336.37 207.73 336.2 208 340C208.27 343.8 208.68 350 209.1 360C209.52 370 210.05 385 210.5 400C210.95 415 211.4 435.83 211.8 450C212.2 464.17 212.53 477.11 212.9 485C213.27 492.89 213.73 495.96 214.01 497.31C214.3 498.66 214.41 494.75 214.6 493.12C214.8 491.48 215 489.44 215.19 487.49C215.39 485.54 215.59 483.45 215.78 481.43C215.98 479.41 216.18 477.33 216.37 475.38C216.57 473.42 216.77 471.47 216.96 469.68C217.16 467.88 217.36 466.15 217.55 464.61C217.75 463.07 217.95 461.64 218.14 460.42C218.34 459.2 218.54 458.13 218.73 457.28C218.93 456.44 219.13 455.78 219.32 455.35C219.52 454.91 219.68 454.67 219.91 454.69C220.15 454.72 220.47 454.97 220.75 455.5C221.03 456.04 221.31 456.85 221.59 457.9C221.87 458.95 222.15 460.27 222.43 461.78C222.71 463.3 222.99 465.07 223.27 466.98C223.55 468.89 223.83 471.03 224.11 473.25C224.39 475.48 224.67 477.89 224.95 480.32C225.23 482.74 225.51 485.31 225.79 487.82C226.07 490.32 226.35 492.91 226.63 495.33C226.91 497.74 227.19 500.27 227.47 502.3C227.75 504.32 228.07 507.07 228.31 507.49C228.56 507.91 228.74 505.86 228.95 504.81C229.16 503.77 229.37 502.47 229.58 501.22C229.8 499.98 230.01 498.64 230.22 497.35C230.43 496.06 230.64 494.74 230.86 493.49C231.07 492.24 231.28 490.99 231.49 489.85C231.7 488.7 231.91 487.6 232.13 486.61C232.34 485.63 232.55 484.72 232.76 483.94C232.97 483.16 233.19 482.48 233.4 481.94C233.61 481.4 233.82 480.98 234.03 480.7C234.25 480.42 234.44 480.28 234.67 480.28C234.9 480.29 235.15 480.44 235.4 480.74C235.64 481.04 235.88 481.5 236.12 482.08C236.36 482.67 236.61 483.41 236.85 484.26C237.09 485.11 237.33 486.1 237.57 487.17C237.82 488.25 238.06 489.45 238.3 490.69C238.54 491.94 238.79 493.29 239.03 494.66C239.27 496.02 239.51 497.46 239.75 498.86C240 500.26 240.24 501.72 240.48 503.07C240.72 504.43 240.96 505.85 241.21 506.98C241.45 508.12 241.71 509.71 241.93 509.9C242.16 510.08 242.36 508.79 242.57 508.09C242.78 507.38 242.99 506.5 243.2 505.65C243.42 504.81 243.63 503.91 243.84 503.03C244.05 502.16 244.26 501.27 244.48 500.42C244.69 499.57 244.9 498.73 245.11 497.96C245.32 497.18 245.53 496.43 245.75 495.77C245.96 495.1 246.17 494.48 246.38 493.95C246.59 493.43 246.81 492.97 247.02 492.6C247.23 492.23 247.44 491.95 247.65 491.76C247.87 491.58 248.06 491.48 248.29 491.48C248.52 491.48 248.77 491.58 249.02 491.76C249.26 491.95 249.5 492.23 249.74 492.6C249.98 492.97 250.23 493.43 250.47 493.95C250.71 494.48 250.95 495.1 251.19 495.77C251.44 496.43 251.68 497.18 251.92 497.96C252.16 498.73 252.41 499.57 252.65 500.42C252.89 501.27 253.13 502.16 253.37 503.03C253.62 503.91 253.86 504.81 254.1 505.65C254.34 506.5 254.58 507.38 254.83 508.09C255.07 508.79 255.32 509.79 255.55 509.9C255.78 510.01 255.99 509.2 256.21 508.75C256.43 508.31 256.65 507.75 256.87 507.22C257.09 506.69 257.31 506.12 257.53 505.57C257.75 505.02 257.97 504.45 258.19 503.92C258.41 503.39 258.63 502.86 258.84 502.37C259.06 501.88 259.28 501.41 259.5 500.99C259.72 500.57 259.94 500.18 260.16 499.84C260.38 499.51 260.6 499.22 260.82 498.99C261.04 498.76 261.26 498.58 261.48 498.46C261.7 498.34 261.91 498.28 262.14 498.28C262.37 498.29 262.62 498.36 262.86 498.5C263.1 498.64 263.35 498.86 263.59 499.14C263.83 499.42 264.07 499.77 264.32 500.18C264.56 500.58 264.8 501.06 265.04 501.57C265.28 502.08 265.53 502.65 265.77 503.24C266.01 503.84 266.25 504.48 266.49 505.13C266.74 505.78 266.98 506.47 267.22 507.14C267.46 507.81 267.71 508.5 267.95 509.14C268.19 509.79 268.43 510.47 268.67 511.01C268.92 511.55 269.17 512.32 269.4 512.4C269.63 512.47 269.85 511.82 270.08 511.45C270.31 511.09 270.53 510.63 270.76 510.19C270.99 509.75 271.22 509.28 271.44 508.83C271.67 508.37 271.9 507.91 272.12 507.47C272.35 507.03 272.58 506.59 272.8 506.19C273.03 505.78 273.26 505.39 273.49 505.05C273.71 504.7 273.94 504.38 274.17 504.1C274.39 503.83 274.62 503.59 274.85 503.4C275.07 503.21 275.3 503.06 275.53 502.96C275.76 502.87 275.97 502.82 276.21 502.82C276.45 502.82 276.71 502.87 276.96 502.97C277.21 503.08 277.46 503.23 277.71 503.44C277.96 503.64 278.21 503.89 278.46 504.19C278.71 504.48 278.96 504.82 279.21 505.19C279.46 505.56 279.71 505.97 279.96 506.4C280.21 506.83 280.45 507.29 280.7 507.76C280.95 508.23 281.2 508.72 281.45 509.2C281.7 509.69 281.95 510.19 282.2 510.65C282.45 511.12 282.7 511.61 282.95 512C283.2 512.39 283.47 512.96 283.7 513C283.94 513.04 284.14 512.54 284.36 512.25C284.58 511.96 284.8 511.6 285.02 511.25C285.24 510.9 285.46 510.53 285.68 510.17C285.9 509.81 286.11 509.44 286.33 509.09C286.55 508.74 286.77 508.4 286.99 508.08C287.21 507.76 287.43 507.45 287.65 507.18C287.87 506.9 288.09 506.65 288.31 506.43C288.53 506.21 288.75 506.02 288.97 505.87C289.19 505.72 289.41 505.6 289.63 505.53C289.85 505.45 290.06 505.41 290.28 505.41C290.51 505.41 290.74 505.45 290.96 505.54C291.19 505.63 291.42 505.77 291.65 505.94C291.87 506.11 292.1 506.33 292.33 506.58C292.55 506.83 292.78 507.12 293.01 507.43C293.23 507.75 293.46 508.1 293.69 508.47C293.92 508.83 294.14 509.23 294.37 509.63C294.6 510.03 294.82 510.45 295.05 510.87C295.28 511.28 295.5 511.71 295.73 512.1C295.96 512.5 296.19 512.92 296.41 513.25C296.64 513.59 296.87 514.06 297.09 514.11C297.32 514.16 297.53 513.76 297.75 513.53C297.97 513.31 298.19 513.03 298.41 512.77C298.63 512.5 298.85 512.21 299.07 511.94C299.29 511.66 299.51 511.38 299.73 511.11C299.95 510.84 300.17 510.57 300.39 510.33C300.6 510.08 300.82 509.85 301.04 509.63C301.26 509.42 301.48 509.23 301.7 509.06C301.92 508.89 302.14 508.75 302.36 508.63C302.58 508.52 302.8 508.43 303.02 508.37C303.24 508.31 303.44 508.28 303.68 508.28C303.92 508.28 304.19 508.31 304.45 508.37C304.71 508.42 304.96 508.51 305.22 508.63C305.48 508.74 305.74 508.88 305.99 509.05C306.25 509.21 306.51 509.41 306.76 509.61C307.02 509.82 307.28 510.05 307.54 510.3C307.79 510.54 308.05 510.8 308.31 511.06C308.57 511.33 308.82 511.61 309.08 511.88C309.34 512.15 309.59 512.43 309.85 512.69C310.11 512.96 310.37 513.23 310.62 513.45C310.88 513.67 311.17 513.99 311.39 514.02C311.62 514.04 311.79 513.77 311.99 513.61C312.18 513.45 312.38 513.26 312.58 513.07C312.77 512.88 312.97 512.68 313.17 512.48C313.36 512.29 313.56 512.09 313.76 511.9C313.95 511.71 314.15 511.52 314.35 511.35C314.54 511.17 314.74 511.01 314.94 510.86C315.13 510.71 315.33 510.57 315.53 510.45C315.72 510.33 315.92 510.23 316.12 510.15C316.31 510.07 316.51 510 316.71 509.96C316.9 509.92 317.09 509.9 317.3 509.9C317.51 509.9 317.75 509.92 317.98 509.97C318.21 510.02 318.43 510.1 318.66 510.2C318.89 510.3 319.11 510.42 319.34 510.56C319.57 510.7 319.79 510.87 320.02 511.05C320.25 511.23 320.47 511.43 320.7 511.64C320.93 511.85 321.16 512.07 321.38 512.3C321.61 512.53 321.84 512.77 322.06 513C322.29 513.24 322.52 513.48 322.75 513.71C322.97 513.93 323.2 514.17 323.43 514.36C323.65 514.55 323.97 514.8 324.11 514.85C324.25 514.9 324.21 514.74 324.27 514.68C324.32 514.61 324.37 514.52 324.42 514.44C324.48 514.36 324.53 514.28 324.58 514.19C324.64 514.11 324.69 514.02 324.74 513.94C324.8 513.86 324.85 513.78 324.9 513.71C324.95 513.63 325.01 513.56 325.06 513.5C325.11 513.44 325.17 513.38 325.22 513.33C325.27 513.28 325.33 513.23 325.38 513.2C325.43 513.16 325.48 513.14 325.54 513.12C325.59 513.1 325.67 513.1 325.7 513.09"/>
</g>
<g stroke="#ff1a1a" fill="none">
<path d="M157.9 464.4V504M172.3 464.4V504" stroke-width="1.3" stroke-dasharray="1.3 1.3"/>
<path d="M160.5 467H169.7" stroke-width="1.4"/>
</g>
<path d="M157.9 467l3.6 -2.6v5.2z M172.3 467l-3.6 -2.6v5.2z" fill="#ff1a1a"/>
<text x="155.8" y="458.7" font-size="13.6" fill="#111" style="font-family:'Liberation Serif',serif">&#916;Q</text>
<rect x="65.1" y="331.6" width="272.4" height="185.7" fill="none" stroke="#3c3c3c" stroke-width="1.1"/>
<text x="63.6" y="530.6" font-size="13.2" fill="#555555" text-anchor="middle">-60</text>
<text x="109" y="530.6" font-size="13.2" fill="#555555" text-anchor="middle">-40</text>
<text x="154.4" y="530.6" font-size="13.2" fill="#555555" text-anchor="middle">-20</text>
<text x="200.5" y="530.6" font-size="13.2" fill="#555555" text-anchor="middle">0</text>
<text x="246.4" y="530.6" font-size="13.2" fill="#555555" text-anchor="middle">20</text>
<text x="291.8" y="530.6" font-size="13.2" fill="#555555" text-anchor="middle">40</text>
<text x="337.2" y="530.6" font-size="13.2" fill="#555555" text-anchor="middle">60</text>
<text x="61.6" y="521.1" font-size="13.2" fill="#555555" text-anchor="end">0</text>
<text x="61.6" y="497.89" font-size="13.2" fill="#555555" text-anchor="end">500</text>
<text x="61.6" y="474.68" font-size="13.2" fill="#555555" text-anchor="end">1000</text>
<text x="61.6" y="451.46" font-size="13.2" fill="#555555" text-anchor="end">1500</text>
<text x="61.6" y="428.25" font-size="13.2" fill="#555555" text-anchor="end">2000</text>
<text x="61.6" y="405.04" font-size="13.2" fill="#555555" text-anchor="end">2500</text>
<text x="61.6" y="381.82" font-size="13.2" fill="#555555" text-anchor="end">3000</text>
<text x="61.6" y="358.61" font-size="13.2" fill="#555555" text-anchor="end">3500</text>
<text x="61.6" y="335.4" font-size="13.2" fill="#555555" text-anchor="end">4000</text>
<path d="M65.1 517.3v-2.7M65.1 331.6v2.7M110.5 517.3v-2.7M110.5 331.6v2.7M155.9 517.3v-2.7M155.9 331.6v2.7M201.3 517.3v-2.7M201.3 331.6v2.7M246.7 517.3v-2.7M246.7 331.6v2.7M292.1 517.3v-2.7M292.1 331.6v2.7M337.5 517.3v-2.7M337.5 331.6v2.7M65.1 517.3h2.7M337.5 517.3h-2.7M65.1 494.09h2.7M337.5 494.09h-2.7M65.1 470.88h2.7M337.5 470.88h-2.7M65.1 447.66h2.7M337.5 447.66h-2.7M65.1 424.45h2.7M337.5 424.45h-2.7M65.1 401.24h2.7M337.5 401.24h-2.7M65.1 378.02h2.7M337.5 378.02h-2.7M65.1 354.81h2.7M337.5 354.81h-2.7M65.1 331.6h2.7M337.5 331.6h-2.7" stroke="#3c3c3c" stroke-width="1.1" fill="none"/>
<text x="106.6" y="552.5" font-size="15.7" fill="#1e1e1e">Spatial Frequency (&#956;m<tspan dy="-5.5" font-size="10.5">-1</tspan><tspan dy="5.5">)</tspan></text>
<text transform="translate(24.9 422.4) rotate(-90)" font-size="15.7" fill="#1e1e1e" text-anchor="middle">Intensity (a. u.)</text>
<text x="366.4" y="317.3" font-size="22.6" font-weight="bold" fill="#111">(d)</text>
<path d="M412.4 395.5L674.1 515.4" stroke="#f03030" stroke-width="1.6" stroke-dasharray="5 4.5" fill="none"/>
<path d="M405.7 365.6C406.83 365.73 409.27 365.23 412.5 366.4C415.73 367.57 420.92 370.1 425.1 372.6C429.28 375.1 433.42 377.42 437.6 381.4C441.78 385.38 446.43 391.27 450.2 396.5C453.97 401.73 457.48 406.95 460.2 412.8C462.92 418.65 464.62 427.5 466.5 431.6C468.38 435.7 469.62 438.03 471.5 437.4C473.38 436.77 475.5 431.07 477.8 427.8C480.1 424.53 482.58 419.97 485.3 417.8C488.02 415.63 491.58 414.8 494.1 414.8C496.62 414.8 498.1 415.83 500.4 417.8C502.7 419.77 505.82 422.83 507.9 426.6C509.98 430.37 510.9 434.25 512.9 440.4C514.9 446.55 517.82 461.42 519.9 463.5C521.98 465.58 523.85 456.33 525.4 452.9C526.95 449.47 527.6 445.42 529.2 442.9C530.8 440.38 532.98 437.37 535 437.8C537.02 438.23 538.85 439.52 541.3 445.5C543.75 451.48 547.28 471.82 549.7 473.7C552.12 475.58 554.12 460.35 555.8 456.8C557.48 453.25 558.45 452.67 559.8 452.4C561.15 452.13 561.93 450.3 563.9 455.2C565.87 460.1 569.45 480.2 571.6 481.8C573.75 483.4 575.4 468.03 576.8 464.8C578.2 461.57 578.93 462.12 580 462.4C581.07 462.68 581.85 462.47 583.2 466.5C584.55 470.53 586.08 485.93 588.1 486.6C590.12 487.27 593.02 470.1 595.3 470.5C597.58 470.9 599.78 487.85 601.8 489C603.82 490.15 605.43 476.73 607.4 477.4C609.37 478.07 611.75 492.15 613.6 493C615.45 493.85 616.8 482 618.5 482.5C620.2 483 622.13 495.53 623.8 496C625.47 496.47 627 485.38 628.5 485.3C630 485.22 631.5 494.7 632.8 495.5C634.1 496.3 634.9 488.85 636.3 490.1C637.7 491.35 639.75 502.18 641.2 503C642.65 503.82 643.78 494.73 645 495C646.22 495.27 647.4 504.33 648.5 504.6C649.6 504.87 650.58 496.78 651.6 496.6C652.62 496.42 653.52 503.33 654.6 503.5C655.68 503.67 657.12 496.6 658.1 497.6C659.08 498.6 659.73 507.35 660.5 509.5C661.27 511.65 661.98 510.68 662.7 510.5C663.42 510.32 664.3 507.68 664.8 508.4C665.3 509.12 665.55 513.73 665.7 514.8" fill="none" stroke="#111" stroke-width="1.3" stroke-linejoin="round"/>
<rect x="405.7" y="340.6" width="271.1" height="174.8" fill="none" stroke="#3c3c3c" stroke-width="1.1"/>
<text x="396.7" y="520.8" font-size="13.2" fill="#555555" text-anchor="end">10</text>
<text x="397.5" y="517.1" font-size="8.2" fill="#555555">3</text>
<text x="396.7" y="491.6" font-size="13.2" fill="#555555" text-anchor="end">10</text>
<text x="397.5" y="487.9" font-size="8.2" fill="#555555">4</text>
<text x="396.7" y="456.7" font-size="13.2" fill="#555555" text-anchor="end">10</text>
<text x="397.5" y="453" font-size="8.2" fill="#555555">5</text>
<text x="396.7" y="420.9" font-size="13.2" fill="#555555" text-anchor="end">10</text>
<text x="397.5" y="417.2" font-size="8.2" fill="#555555">6</text>
<text x="396.7" y="381.9" font-size="13.2" fill="#555555" text-anchor="end">10</text>
<text x="397.5" y="378.2" font-size="8.2" fill="#555555">7</text>
<text x="396.7" y="348" font-size="13.2" fill="#555555" text-anchor="end">10</text>
<text x="397.5" y="344.3" font-size="8.2" fill="#555555">8</text>
<path d="M405.7 515.4h3.2M676.8 515.4h-3.2M405.7 506.64h1.8M676.8 506.64h-1.8M405.7 501.52h1.8M676.8 501.52h-1.8M405.7 497.88h1.8M676.8 497.88h-1.8M405.7 495.06h1.8M676.8 495.06h-1.8M405.7 492.76h1.8M676.8 492.76h-1.8M405.7 490.81h1.8M676.8 490.81h-1.8M405.7 489.12h1.8M676.8 489.12h-1.8M405.7 487.63h1.8M676.8 487.63h-1.8M405.7 486.3h3.2M676.8 486.3h-3.2M405.7 475.43h1.8M676.8 475.43h-1.8M405.7 469.08h1.8M676.8 469.08h-1.8M405.7 464.57h1.8M676.8 464.57h-1.8M405.7 461.07h1.8M676.8 461.07h-1.8M405.7 458.21h1.8M676.8 458.21h-1.8M405.7 455.79h1.8M676.8 455.79h-1.8M405.7 453.7h1.8M676.8 453.7h-1.8M405.7 451.85h1.8M676.8 451.85h-1.8M405.7 450.2h3.2M676.8 450.2h-3.2M405.7 439.42h1.8M676.8 439.42h-1.8M405.7 433.12h1.8M676.8 433.12h-1.8M405.7 428.65h1.8M676.8 428.65h-1.8M405.7 425.18h1.8M676.8 425.18h-1.8M405.7 422.34h1.8M676.8 422.34h-1.8M405.7 419.95h1.8M676.8 419.95h-1.8M405.7 417.87h1.8M676.8 417.87h-1.8M405.7 416.04h1.8M676.8 416.04h-1.8M405.7 414.4h3.2M676.8 414.4h-3.2M405.7 402.72h1.8M676.8 402.72h-1.8M405.7 395.89h1.8M676.8 395.89h-1.8M405.7 391.04h1.8M676.8 391.04h-1.8M405.7 387.28h1.8M676.8 387.28h-1.8M405.7 384.21h1.8M676.8 384.21h-1.8M405.7 381.61h1.8M676.8 381.61h-1.8M405.7 379.36h1.8M676.8 379.36h-1.8M405.7 377.38h1.8M676.8 377.38h-1.8M405.7 375.6h3.2M676.8 375.6h-3.2M405.7 365.06h1.8M676.8 365.06h-1.8M405.7 358.9h1.8M676.8 358.9h-1.8M405.7 354.53h1.8M676.8 354.53h-1.8M405.7 351.14h1.8M676.8 351.14h-1.8M405.7 348.36h1.8M676.8 348.36h-1.8M405.7 346.02h1.8M676.8 346.02h-1.8M405.7 343.99h1.8M676.8 343.99h-1.8M405.7 342.2h1.8M676.8 342.2h-1.8M405.7 340.6h3.2M676.8 340.6h-3.2M411.71 515.4v-1.8M411.71 340.6v1.8M433.48 515.4v-1.8M433.48 340.6v1.8M450.36 515.4v-1.8M450.36 340.6v1.8M464.15 515.4v-1.8M464.15 340.6v1.8M475.82 515.4v-1.8M475.82 340.6v1.8M485.92 515.4v-1.8M485.92 340.6v1.8M494.83 515.4v-1.8M494.83 340.6v1.8M502.8 515.4v-3.2M502.8 340.6v3.2M555.24 515.4v-1.8M555.24 340.6v1.8M585.91 515.4v-1.8M585.91 340.6v1.8M607.68 515.4v-1.8M607.68 340.6v1.8M624.56 515.4v-1.8M624.56 340.6v1.8M638.35 515.4v-1.8M638.35 340.6v1.8M650.02 515.4v-1.8M650.02 340.6v1.8M660.12 515.4v-1.8M660.12 340.6v1.8M669.03 515.4v-1.8M669.03 340.6v1.8M677 515.4v-3.2M677 340.6v3.2" stroke="#3c3c3c" stroke-width="1.1" fill="none"/>
<text x="503.4" y="530.2" font-size="13.2" fill="#555555" text-anchor="middle">10</text>
<text x="554.5" y="530.2" font-size="13.2" fill="#555555" text-anchor="middle">20</text>
<text x="587.2" y="530.2" font-size="13.2" fill="#555555" text-anchor="middle">30</text>
<text x="624.5" y="530.2" font-size="13.2" fill="#555555" text-anchor="middle">50</text>
<text x="673.2" y="530.2" font-size="13.2" fill="#555555" text-anchor="middle">100</text>
<text x="505.3" y="336.4" font-size="13.2" fill="#555555" text-anchor="middle">50</text>
<text x="625.3" y="336.4" font-size="13.2" fill="#555555" text-anchor="middle">10</text>
<text x="674.3" y="336.4" font-size="13.2" fill="#555555" text-anchor="middle">5</text>
<text x="446.2" y="320.9" font-size="15.7" fill="#1e1e1e">Half period resolution (nm)</text>
<text x="453.6" y="552.6" font-size="15.7" fill="#1e1e1e">Spatial Frequency (&#956;m<tspan dy="-5.5" font-size="10.5">-1</tspan><tspan dy="5.5">)</tspan></text>
<text transform="translate(374.9 426.6) rotate(-90)" font-size="15.7" fill="#1e1e1e" text-anchor="middle">Intensity (a. u.)</text>
</svg>
</body></html>
